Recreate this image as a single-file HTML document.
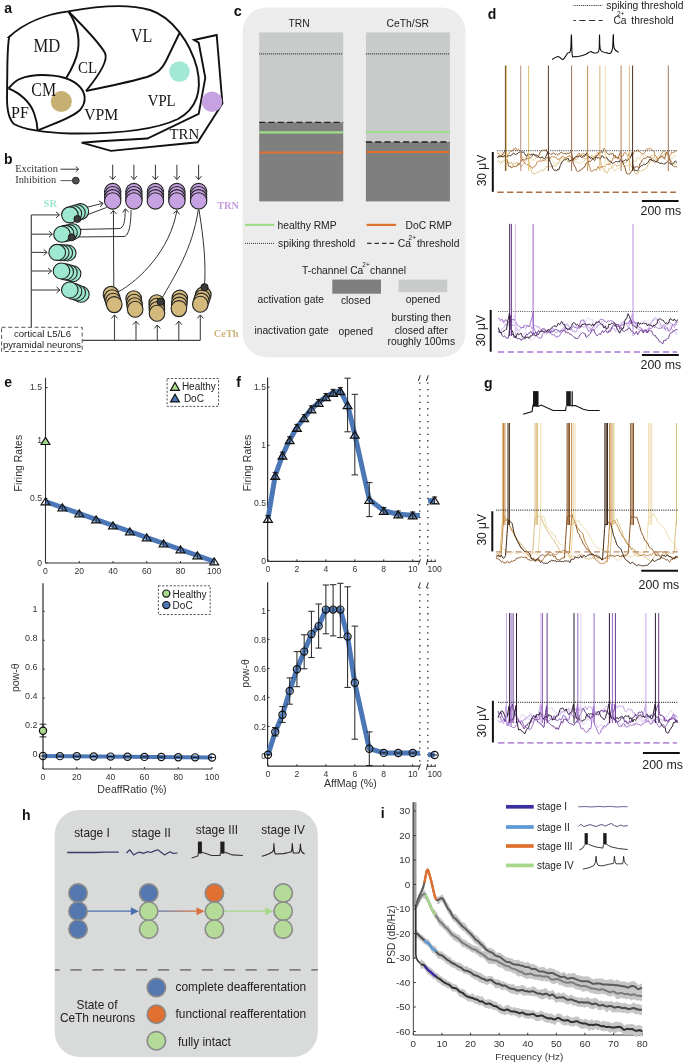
<!DOCTYPE html>
<html><head><meta charset="utf-8"><title>Figure</title>
<style>
html,body{margin:0;padding:0;background:#fff;width:685px;height:1064px;overflow:hidden;}
svg{display:block;will-change:transform;}
</style></head>
<body>
<svg width="685" height="1064" viewBox="0 0 685 1064">
<rect x="0" y="0" width="685" height="1064" fill="#fff"/>
<text x="4.30" y="13.00" font-family='"Liberation Sans", sans-serif' font-size="14" text-anchor="start" fill="#111" font-weight="bold">a</text>
<path d="M9,37 C25,22 48,14 68.3,11.4 C95,6.5 128,3.5 150,10 C172,17 190,42 197,68 C202,90 198,108 178,119 C155,130 115,134 70,133.5 C45,133 22,129 14,124 C8.5,119 7.0,110 7.0,98 L7.4,62 C7.8,48 8.3,41 9.2,37 Z" stroke="#111" stroke-width="1.9" fill="none"/>
<path d="M68.3,11.4 C77,24 80,36 78,50 C76,62 70,72 65.7,79" stroke="#111" stroke-width="1.9" fill="none"/>
<path d="M69,12 C84,27 99,42 105,53 C109,61 95,80 86,91" stroke="#111" stroke-width="1.9" fill="none"/>
<path d="M86,91 C100,88 130,82 147,77 C158,73 162,69 166,61 L179.5,33" stroke="#111" stroke-width="1.9" fill="none"/>
<path d="M8.5,88.5 C12,84.5 15,80.5 20,78.8 C27,76 34,75 42,75 C56,75 70,78 78,85 C86,92 87,102 80,110 C72,118 55,123 37.7,130.5" stroke="#111" stroke-width="1.9" fill="none"/>
<path d="M8.5,88.5 C20,93 30,102 34,113 C36.5,120 37.5,126 37.7,131" stroke="#111" stroke-width="1.9" fill="none"/>
<path d="M81.6,142.7 L111,150.9 L197.7,142.3 L222.4,103.4 L216.7,35 L194,40 L198.7,42.7 L205.3,77.8 L198.7,113.9 L147.4,138.5 L100,141.2 Z" stroke="#111" stroke-width="1.9" fill="none"/>
<circle cx="61.30" cy="101.60" r="10.50" fill="#c8b074" stroke="none" stroke-width="1"/>
<circle cx="179.50" cy="71.60" r="10.30" fill="#a2e8d4" stroke="none" stroke-width="1"/>
<circle cx="212.00" cy="101.80" r="10.30" fill="#c6a2e2" stroke="none" stroke-width="1"/>
<text x="0" y="0" transform="translate(46.85 51.80) scale(1 1.09)" font-family='"Liberation Serif", serif' font-size="16.6" text-anchor="middle" fill="#151515" font-weight="normal">MD</text>
<text x="0" y="0" transform="translate(87.50 73.10) scale(1 1.1)" font-family='"Liberation Serif", serif' font-size="15.0" text-anchor="middle" fill="#151515" font-weight="normal">CL</text>
<text x="0" y="0" transform="translate(43.70 95.70) scale(1 1.18)" font-family='"Liberation Serif", serif' font-size="15.9" text-anchor="middle" fill="#151515" font-weight="normal">CM</text>
<text x="0" y="0" transform="translate(20.00 118.40) scale(1 1.03)" font-family='"Liberation Serif", serif' font-size="16.0" text-anchor="middle" fill="#151515" font-weight="normal">PF</text>
<text x="0" y="0" transform="translate(101.20 119.90) scale(1 1.13)" font-family='"Liberation Serif", serif' font-size="15.7" text-anchor="middle" fill="#151515" font-weight="normal">VPM</text>
<text x="0" y="0" transform="translate(141.60 42.30) scale(1 1.16)" font-family='"Liberation Serif", serif' font-size="16.0" text-anchor="middle" fill="#151515" font-weight="normal">VL</text>
<text x="0" y="0" transform="translate(161.70 106.00) scale(1 1.15)" font-family='"Liberation Serif", serif' font-size="14.7" text-anchor="middle" fill="#151515" font-weight="normal">VPL</text>
<text x="0" y="0" transform="translate(184.35 138.90) scale(1 0.97)" font-family='"Liberation Serif", serif' font-size="14.9" text-anchor="middle" fill="#151515" font-weight="normal">TRN</text>
<text x="4.00" y="163.50" font-family='"Liberation Sans", sans-serif' font-size="14" text-anchor="start" fill="#111" font-weight="bold">b</text>
<text x="0" y="0" transform="translate(15.20 171.50) scale(1 1.08)" font-family='"Liberation Serif", serif' font-size="10.4" text-anchor="start" fill="#333" font-weight="normal">Excitation</text>
<text x="0" y="0" transform="translate(15.20 183.10) scale(1 1.08)" font-family='"Liberation Serif", serif' font-size="10.4" text-anchor="start" fill="#333" font-weight="normal">Inhibition</text>
<line x1="60.50" y1="169.20" x2="78.50" y2="169.20" stroke="#333" stroke-width="1"/>
<path d="M75.69,171.84 L78.70,169.20 L75.69,166.56" stroke="#333" stroke-width="1" fill="none"/>
<line x1="60.50" y1="180.60" x2="74.00" y2="180.60" stroke="#666" stroke-width="1.1"/>
<circle cx="75.80" cy="180.60" r="3.40" fill="#505050" stroke="#222" stroke-width="0.9"/>
<line x1="112.70" y1="164.70" x2="112.70" y2="179.50" stroke="#333" stroke-width="1"/>
<path d="M109.73,176.12 L112.70,179.50 L115.67,176.12" stroke="#333" stroke-width="1" fill="none"/>
<ellipse cx="112.70" cy="191.60" rx="8.2" ry="8.2" fill="#c6a2e2" stroke="#222" stroke-width="1.1"/>
<ellipse cx="112.70" cy="194.70" rx="8.2" ry="8.2" fill="#c6a2e2" stroke="#222" stroke-width="1.1"/>
<ellipse cx="112.70" cy="197.80" rx="8.2" ry="8.2" fill="#c6a2e2" stroke="#222" stroke-width="1.1"/>
<ellipse cx="112.70" cy="200.90" rx="8.2" ry="8.2" fill="#c6a2e2" stroke="#222" stroke-width="1.1"/>
<line x1="133.90" y1="164.70" x2="133.90" y2="179.50" stroke="#333" stroke-width="1"/>
<path d="M130.93,176.12 L133.90,179.50 L136.87,176.12" stroke="#333" stroke-width="1" fill="none"/>
<ellipse cx="133.90" cy="191.60" rx="8.2" ry="8.2" fill="#c6a2e2" stroke="#222" stroke-width="1.1"/>
<ellipse cx="133.90" cy="194.70" rx="8.2" ry="8.2" fill="#c6a2e2" stroke="#222" stroke-width="1.1"/>
<ellipse cx="133.90" cy="197.80" rx="8.2" ry="8.2" fill="#c6a2e2" stroke="#222" stroke-width="1.1"/>
<ellipse cx="133.90" cy="200.90" rx="8.2" ry="8.2" fill="#c6a2e2" stroke="#222" stroke-width="1.1"/>
<line x1="155.40" y1="164.70" x2="155.40" y2="179.50" stroke="#333" stroke-width="1"/>
<path d="M152.43,176.12 L155.40,179.50 L158.37,176.12" stroke="#333" stroke-width="1" fill="none"/>
<ellipse cx="155.40" cy="191.60" rx="8.2" ry="8.2" fill="#c6a2e2" stroke="#222" stroke-width="1.1"/>
<ellipse cx="155.40" cy="194.70" rx="8.2" ry="8.2" fill="#c6a2e2" stroke="#222" stroke-width="1.1"/>
<ellipse cx="155.40" cy="197.80" rx="8.2" ry="8.2" fill="#c6a2e2" stroke="#222" stroke-width="1.1"/>
<ellipse cx="155.40" cy="200.90" rx="8.2" ry="8.2" fill="#c6a2e2" stroke="#222" stroke-width="1.1"/>
<line x1="176.90" y1="164.70" x2="176.90" y2="179.50" stroke="#333" stroke-width="1"/>
<path d="M173.93,176.12 L176.90,179.50 L179.87,176.12" stroke="#333" stroke-width="1" fill="none"/>
<ellipse cx="176.90" cy="191.60" rx="8.2" ry="8.2" fill="#c6a2e2" stroke="#222" stroke-width="1.1"/>
<ellipse cx="176.90" cy="194.70" rx="8.2" ry="8.2" fill="#c6a2e2" stroke="#222" stroke-width="1.1"/>
<ellipse cx="176.90" cy="197.80" rx="8.2" ry="8.2" fill="#c6a2e2" stroke="#222" stroke-width="1.1"/>
<ellipse cx="176.90" cy="200.90" rx="8.2" ry="8.2" fill="#c6a2e2" stroke="#222" stroke-width="1.1"/>
<line x1="198.60" y1="164.70" x2="198.60" y2="179.50" stroke="#333" stroke-width="1"/>
<path d="M195.63,176.12 L198.60,179.50 L201.57,176.12" stroke="#333" stroke-width="1" fill="none"/>
<ellipse cx="198.60" cy="191.60" rx="8.2" ry="8.2" fill="#c6a2e2" stroke="#222" stroke-width="1.1"/>
<ellipse cx="198.60" cy="194.70" rx="8.2" ry="8.2" fill="#c6a2e2" stroke="#222" stroke-width="1.1"/>
<ellipse cx="198.60" cy="197.80" rx="8.2" ry="8.2" fill="#c6a2e2" stroke="#222" stroke-width="1.1"/>
<ellipse cx="198.60" cy="200.90" rx="8.2" ry="8.2" fill="#c6a2e2" stroke="#222" stroke-width="1.1"/>
<text x="228.00" y="209.00" font-family='"Liberation Serif", serif' font-size="10.3" text-anchor="middle" fill="#c49be0" font-weight="bold">TRN</text>
<text x="50.30" y="207.00" font-family='"Liberation Serif", serif' font-size="10.5" text-anchor="middle" fill="#9ee6d0" font-weight="bold">SR</text>
<path d="M76,210 L102.5,203.4" stroke="#333" stroke-width="1" fill="none"/>
<path d="M100.38,206.98 L103.00,203.20 L98.91,201.09" stroke="#333" stroke-width="1" fill="none"/>
<path d="M106.5,207.5 L80,217.5" stroke="#333" stroke-width="1" fill="none"/>
<path d="M75,229.5 L119,228.6 C124,228 125,222 125.3,209" stroke="#333" stroke-width="1" fill="none"/>
<path d="M128.66,211.94 L125.30,208.80 L122.63,212.54" stroke="#333" stroke-width="1" fill="none"/>
<path d="M131,210 C131,224 129,236 124,236.5 L75,237" stroke="#333" stroke-width="1" fill="none"/>
<path d="M113.8,292 L113.4,210.5" stroke="#333" stroke-width="1" fill="none"/>
<path d="M116.43,213.96 L113.40,210.50 L110.37,213.96" stroke="#333" stroke-width="1" fill="none"/>
<path d="M118,292 C140,280 170,250 176.9,210.5" stroke="#333" stroke-width="1" fill="none"/>
<path d="M179.38,214.37 L176.90,210.50 L173.38,213.47" stroke="#333" stroke-width="1" fill="none"/>
<path d="M198.3,210 C192,250 175,275 161,300" stroke="#333" stroke-width="1" fill="none"/>
<path d="M199,210 C204,240 206,265 204.5,286" stroke="#333" stroke-width="1" fill="none"/>
<line x1="31.30" y1="214.90" x2="31.30" y2="327.20" stroke="#444" stroke-width="1.2"/>
<line x1="31.30" y1="214.90" x2="59.40" y2="214.90" stroke="#444" stroke-width="1.1"/>
<path d="M55.94,217.93 L59.40,214.90 L55.94,211.87" stroke="#333" stroke-width="1" fill="none"/>
<line x1="31.30" y1="234.20" x2="52.40" y2="234.20" stroke="#444" stroke-width="1.1"/>
<path d="M48.94,237.23 L52.40,234.20 L48.94,231.17" stroke="#333" stroke-width="1" fill="none"/>
<line x1="31.30" y1="252.40" x2="47.10" y2="252.40" stroke="#444" stroke-width="1.1"/>
<path d="M43.64,255.43 L47.10,252.40 L43.64,249.37" stroke="#333" stroke-width="1" fill="none"/>
<line x1="31.30" y1="271.00" x2="51.50" y2="271.00" stroke="#444" stroke-width="1.1"/>
<path d="M48.04,274.03 L51.50,271.00 L48.04,267.97" stroke="#333" stroke-width="1" fill="none"/>
<line x1="31.30" y1="290.00" x2="60.00" y2="290.00" stroke="#444" stroke-width="1.1"/>
<path d="M56.54,293.03 L60.00,290.00 L56.54,286.97" stroke="#333" stroke-width="1" fill="none"/>
<ellipse cx="80.40" cy="211.60" rx="8.3" ry="8.0" fill="#9ee8d2" stroke="#222" stroke-width="1.1"/>
<ellipse cx="76.90" cy="212.70" rx="8.3" ry="8.0" fill="#9ee8d2" stroke="#222" stroke-width="1.1"/>
<ellipse cx="73.40" cy="213.80" rx="8.3" ry="8.0" fill="#9ee8d2" stroke="#222" stroke-width="1.1"/>
<ellipse cx="69.90" cy="214.90" rx="8.3" ry="8.0" fill="#9ee8d2" stroke="#222" stroke-width="1.1"/>
<ellipse cx="72.50" cy="231.80" rx="8.3" ry="8.0" fill="#9ee8d2" stroke="#222" stroke-width="1.1"/>
<ellipse cx="69.00" cy="232.60" rx="8.3" ry="8.0" fill="#9ee8d2" stroke="#222" stroke-width="1.1"/>
<ellipse cx="65.50" cy="233.40" rx="8.3" ry="8.0" fill="#9ee8d2" stroke="#222" stroke-width="1.1"/>
<ellipse cx="62.00" cy="234.20" rx="8.3" ry="8.0" fill="#9ee8d2" stroke="#222" stroke-width="1.1"/>
<ellipse cx="67.70" cy="253.00" rx="8.3" ry="8.0" fill="#9ee8d2" stroke="#222" stroke-width="1.1"/>
<ellipse cx="64.20" cy="252.80" rx="8.3" ry="8.0" fill="#9ee8d2" stroke="#222" stroke-width="1.1"/>
<ellipse cx="60.70" cy="252.60" rx="8.3" ry="8.0" fill="#9ee8d2" stroke="#222" stroke-width="1.1"/>
<ellipse cx="57.20" cy="252.40" rx="8.3" ry="8.0" fill="#9ee8d2" stroke="#222" stroke-width="1.1"/>
<ellipse cx="72.60" cy="273.70" rx="8.3" ry="8.0" fill="#9ee8d2" stroke="#222" stroke-width="1.1"/>
<ellipse cx="68.90" cy="272.80" rx="8.3" ry="8.0" fill="#9ee8d2" stroke="#222" stroke-width="1.1"/>
<ellipse cx="65.20" cy="271.90" rx="8.3" ry="8.0" fill="#9ee8d2" stroke="#222" stroke-width="1.1"/>
<ellipse cx="61.50" cy="271.00" rx="8.3" ry="8.0" fill="#9ee8d2" stroke="#222" stroke-width="1.1"/>
<ellipse cx="80.90" cy="294.20" rx="8.3" ry="8.0" fill="#9ee8d2" stroke="#222" stroke-width="1.1"/>
<ellipse cx="77.20" cy="292.80" rx="8.3" ry="8.0" fill="#9ee8d2" stroke="#222" stroke-width="1.1"/>
<ellipse cx="73.50" cy="291.40" rx="8.3" ry="8.0" fill="#9ee8d2" stroke="#222" stroke-width="1.1"/>
<ellipse cx="69.80" cy="290.00" rx="8.3" ry="8.0" fill="#9ee8d2" stroke="#222" stroke-width="1.1"/>
<circle cx="77.40" cy="218.90" r="3.50" fill="#3a3a3a" stroke="#111" stroke-width="0.8"/>
<circle cx="71.70" cy="237.30" r="3.50" fill="#3a3a3a" stroke="#111" stroke-width="0.8"/>
<ellipse cx="111.00" cy="294.40" rx="7.8" ry="8.0" fill="#d3b97c" stroke="#222" stroke-width="1.1"/>
<ellipse cx="112.10" cy="297.80" rx="7.8" ry="8.0" fill="#d3b97c" stroke="#222" stroke-width="1.1"/>
<ellipse cx="113.20" cy="301.20" rx="7.8" ry="8.0" fill="#d3b97c" stroke="#222" stroke-width="1.1"/>
<ellipse cx="114.30" cy="304.60" rx="7.8" ry="8.0" fill="#d3b97c" stroke="#222" stroke-width="1.1"/>
<ellipse cx="133.70" cy="298.70" rx="7.8" ry="8.0" fill="#d3b97c" stroke="#222" stroke-width="1.1"/>
<ellipse cx="134.20" cy="302.20" rx="7.8" ry="8.0" fill="#d3b97c" stroke="#222" stroke-width="1.1"/>
<ellipse cx="134.70" cy="305.70" rx="7.8" ry="8.0" fill="#d3b97c" stroke="#222" stroke-width="1.1"/>
<ellipse cx="135.20" cy="309.20" rx="7.8" ry="8.0" fill="#d3b97c" stroke="#222" stroke-width="1.1"/>
<ellipse cx="156.70" cy="302.70" rx="7.8" ry="8.0" fill="#d3b97c" stroke="#222" stroke-width="1.1"/>
<ellipse cx="156.80" cy="306.20" rx="7.8" ry="8.0" fill="#d3b97c" stroke="#222" stroke-width="1.1"/>
<ellipse cx="156.90" cy="309.70" rx="7.8" ry="8.0" fill="#d3b97c" stroke="#222" stroke-width="1.1"/>
<ellipse cx="157.00" cy="313.20" rx="7.8" ry="8.0" fill="#d3b97c" stroke="#222" stroke-width="1.1"/>
<ellipse cx="179.80" cy="298.10" rx="7.8" ry="8.0" fill="#d3b97c" stroke="#222" stroke-width="1.1"/>
<ellipse cx="179.50" cy="301.60" rx="7.8" ry="8.0" fill="#d3b97c" stroke="#222" stroke-width="1.1"/>
<ellipse cx="179.20" cy="305.10" rx="7.8" ry="8.0" fill="#d3b97c" stroke="#222" stroke-width="1.1"/>
<ellipse cx="178.90" cy="308.60" rx="7.8" ry="8.0" fill="#d3b97c" stroke="#222" stroke-width="1.1"/>
<ellipse cx="203.30" cy="294.90" rx="7.8" ry="8.0" fill="#d3b97c" stroke="#222" stroke-width="1.1"/>
<ellipse cx="202.30" cy="298.00" rx="7.8" ry="8.0" fill="#d3b97c" stroke="#222" stroke-width="1.1"/>
<ellipse cx="201.30" cy="301.10" rx="7.8" ry="8.0" fill="#d3b97c" stroke="#222" stroke-width="1.1"/>
<ellipse cx="200.30" cy="304.20" rx="7.8" ry="8.0" fill="#d3b97c" stroke="#222" stroke-width="1.1"/>
<circle cx="160.60" cy="301.60" r="3.70" fill="#3a3a3a" stroke="#111" stroke-width="0.8"/>
<circle cx="204.50" cy="287.30" r="3.70" fill="#3a3a3a" stroke="#111" stroke-width="0.8"/>
<line x1="82.30" y1="340.30" x2="200.30" y2="340.30" stroke="#444" stroke-width="1.2"/>
<line x1="114.50" y1="340.30" x2="114.50" y2="314.90" stroke="#444" stroke-width="1.1"/>
<path d="M117.53,318.36 L114.50,314.90 L111.47,318.36" stroke="#333" stroke-width="1" fill="none"/>
<line x1="136.00" y1="340.30" x2="136.00" y2="321.20" stroke="#444" stroke-width="1.1"/>
<path d="M139.03,324.66 L136.00,321.20 L132.97,324.66" stroke="#333" stroke-width="1" fill="none"/>
<line x1="157.30" y1="340.30" x2="157.30" y2="325.00" stroke="#444" stroke-width="1.1"/>
<path d="M160.33,328.46 L157.30,325.00 L154.27,328.46" stroke="#333" stroke-width="1" fill="none"/>
<line x1="178.80" y1="340.30" x2="178.80" y2="321.20" stroke="#444" stroke-width="1.1"/>
<path d="M181.83,324.66 L178.80,321.20 L175.77,324.66" stroke="#333" stroke-width="1" fill="none"/>
<line x1="200.30" y1="340.30" x2="200.30" y2="314.90" stroke="#444" stroke-width="1.1"/>
<path d="M203.33,318.36 L200.30,314.90 L197.27,318.36" stroke="#333" stroke-width="1" fill="none"/>
<text x="226.20" y="336.60" font-family='"Liberation Serif", serif' font-size="10.4" text-anchor="middle" fill="#cdb479" font-weight="bold">CeTh</text>
<rect x="1.60" y="327.30" width="80.60" height="24.20" rx="0" fill="#fff" stroke="#555" stroke-width="1" stroke-dasharray="4,2.6"/>
<text x="42.50" y="337.20" font-family='"Liberation Sans", sans-serif' font-size="9.6" text-anchor="middle" fill="#222" font-weight="normal">cortical L5/L6</text>
<text x="42.00" y="348.00" font-family='"Liberation Sans", sans-serif' font-size="9.5" text-anchor="middle" fill="#222" font-weight="normal">pyramidal neurons</text>
<text x="233.80" y="16.10" font-family='"Liberation Sans", sans-serif' font-size="14.5" text-anchor="start" fill="#111" font-weight="bold">c</text>
<rect x="242.60" y="7.40" width="222.90" height="350.00" rx="24" fill="#ececec" stroke="none" stroke-width="1"/>
<text x="299.00" y="26.60" font-family='"Liberation Sans", sans-serif' font-size="10.3" text-anchor="middle" fill="#222" font-weight="normal">TRN</text>
<text x="407.80" y="26.60" font-family='"Liberation Sans", sans-serif' font-size="10.3" text-anchor="middle" fill="#222" font-weight="normal">CeTh/SR</text>
<rect x="259.20" y="32.40" width="84.00" height="89.80" rx="0" fill="#c9cbcb" stroke="none" stroke-width="1"/>
<rect x="259.20" y="122.20" width="84.00" height="79.20" rx="0" fill="#7f7f7f" stroke="none" stroke-width="1"/>
<rect x="365.90" y="32.40" width="84.00" height="109.60" rx="0" fill="#c9cbcb" stroke="none" stroke-width="1"/>
<rect x="365.90" y="142.00" width="84.00" height="59.40" rx="0" fill="#7f7f7f" stroke="none" stroke-width="1"/>
<line x1="259.20" y1="53.90" x2="343.20" y2="53.90" stroke="#333" stroke-width="1.1" stroke-dasharray="1,1"/>
<line x1="365.90" y1="53.90" x2="449.90" y2="53.90" stroke="#333" stroke-width="1.1" stroke-dasharray="1,1"/>
<line x1="259.20" y1="122.40" x2="343.20" y2="122.40" stroke="#222" stroke-width="1.3" stroke-dasharray="6,3.3"/>
<line x1="365.90" y1="142.00" x2="449.90" y2="142.00" stroke="#222" stroke-width="1.3" stroke-dasharray="6,3.3"/>
<line x1="259.20" y1="132.30" x2="343.20" y2="132.30" stroke="#9edc8a" stroke-width="2.2"/>
<line x1="365.90" y1="132.00" x2="449.90" y2="132.00" stroke="#9edc8a" stroke-width="2.2"/>
<line x1="259.20" y1="152.50" x2="343.20" y2="152.50" stroke="#e0722e" stroke-width="2.2"/>
<line x1="365.90" y1="152.00" x2="449.90" y2="152.00" stroke="#e0722e" stroke-width="2.2"/>
<line x1="245.00" y1="224.90" x2="274.30" y2="224.90" stroke="#9edc8a" stroke-width="2.2"/>
<text x="277.60" y="228.60" font-family='"Liberation Sans", sans-serif' font-size="10.3" text-anchor="start" fill="#222" font-weight="normal">healthy RMP</text>
<line x1="366.60" y1="224.90" x2="396.10" y2="224.90" stroke="#e0722e" stroke-width="2.2"/>
<text x="405.50" y="228.60" font-family='"Liberation Sans", sans-serif' font-size="10.3" text-anchor="start" fill="#222" font-weight="normal">DoC RMP</text>
<line x1="245.00" y1="243.40" x2="274.30" y2="243.40" stroke="#333" stroke-width="1" stroke-dasharray="1,1"/>
<text x="278.00" y="246.80" font-family='"Liberation Sans", sans-serif' font-size="10.3" text-anchor="start" fill="#222" font-weight="normal">spiking threshold</text>
<line x1="367.00" y1="243.40" x2="395.00" y2="243.40" stroke="#333" stroke-width="1.1" stroke-dasharray="4.5,3"/>
<text x="397.80" y="246.80" font-family='"Liberation Sans", sans-serif' font-size="10.3" text-anchor="start" fill="#222" font-weight="normal">Ca</text>
<text x="408.60" y="240.00" font-family='"Liberation Sans", sans-serif' font-size="6.5" text-anchor="start" fill="#222" font-weight="normal">2+</text>
<text x="417.00" y="246.80" font-family='"Liberation Sans", sans-serif' font-size="10.3" text-anchor="start" fill="#222" font-weight="normal">threshold</text>
<text x="302.10" y="273.60" font-family='"Liberation Sans", sans-serif' font-size="10.3" text-anchor="start" fill="#222" font-weight="normal">T-channel Ca</text>
<text x="362.30" y="266.80" font-family='"Liberation Sans", sans-serif' font-size="6.5" text-anchor="start" fill="#222" font-weight="normal">2+</text>
<text x="370.00" y="273.60" font-family='"Liberation Sans", sans-serif' font-size="10.3" text-anchor="start" fill="#222" font-weight="normal">channel</text>
<rect x="332.30" y="279.60" width="48.70" height="14.10" rx="0" fill="#7f7f7f" stroke="none" stroke-width="1"/>
<rect x="398.50" y="279.60" width="48.70" height="12.60" rx="0" fill="#c9cbcb" stroke="none" stroke-width="1"/>
<text x="290.80" y="302.80" font-family='"Liberation Sans", sans-serif' font-size="10.3" text-anchor="middle" fill="#222" font-weight="normal">activation gate</text>
<text x="355.80" y="304.40" font-family='"Liberation Sans", sans-serif' font-size="10.3" text-anchor="middle" fill="#222" font-weight="normal">closed</text>
<text x="423.00" y="302.80" font-family='"Liberation Sans", sans-serif' font-size="10.3" text-anchor="middle" fill="#222" font-weight="normal">opened</text>
<text x="291.60" y="333.80" font-family='"Liberation Sans", sans-serif' font-size="10.3" text-anchor="middle" fill="#222" font-weight="normal">inactivation gate</text>
<text x="355.80" y="334.60" font-family='"Liberation Sans", sans-serif' font-size="10.3" text-anchor="middle" fill="#222" font-weight="normal">opened</text>
<text x="421.30" y="321.20" font-family='"Liberation Sans", sans-serif' font-size="10.3" text-anchor="middle" fill="#222" font-weight="normal">bursting then</text>
<text x="421.30" y="333.60" font-family='"Liberation Sans", sans-serif' font-size="10.3" text-anchor="middle" fill="#222" font-weight="normal">closed after</text>
<text x="421.30" y="345.40" font-family='"Liberation Sans", sans-serif' font-size="10.3" text-anchor="middle" fill="#222" font-weight="normal">roughly 100ms</text>
<text x="4.20" y="386.80" font-family='"Liberation Sans", sans-serif' font-size="14" text-anchor="start" fill="#111" font-weight="bold">e</text>
<line x1="45.50" y1="377.80" x2="45.50" y2="563.00" stroke="#333" stroke-width="1.1"/>
<line x1="45.50" y1="387.50" x2="47.50" y2="387.50" stroke="#333" stroke-width="1"/>
<text x="42.00" y="390.10" font-family='"Liberation Sans", sans-serif' font-size="8.6" text-anchor="end" fill="#333" font-weight="normal">1.5</text>
<line x1="45.50" y1="440.00" x2="47.50" y2="440.00" stroke="#333" stroke-width="1"/>
<text x="42.00" y="442.60" font-family='"Liberation Sans", sans-serif' font-size="8.6" text-anchor="end" fill="#333" font-weight="normal">1</text>
<line x1="45.50" y1="498.40" x2="47.50" y2="498.40" stroke="#333" stroke-width="1"/>
<text x="42.00" y="501.00" font-family='"Liberation Sans", sans-serif' font-size="8.6" text-anchor="end" fill="#333" font-weight="normal">0.5</text>
<line x1="45.50" y1="562.90" x2="47.50" y2="562.90" stroke="#333" stroke-width="1"/>
<text x="42.00" y="565.50" font-family='"Liberation Sans", sans-serif' font-size="8.6" text-anchor="end" fill="#333" font-weight="normal">0</text>
<line x1="45.50" y1="563.00" x2="214.20" y2="563.00" stroke="#333" stroke-width="1.1"/>
<line x1="45.50" y1="563.00" x2="45.50" y2="561.00" stroke="#333" stroke-width="1"/>
<text x="45.50" y="573.50" font-family='"Liberation Sans", sans-serif' font-size="8.6" text-anchor="middle" fill="#333" font-weight="normal">0</text>
<line x1="79.24" y1="563.00" x2="79.24" y2="561.00" stroke="#333" stroke-width="1"/>
<text x="79.24" y="573.50" font-family='"Liberation Sans", sans-serif' font-size="8.6" text-anchor="middle" fill="#333" font-weight="normal">20</text>
<line x1="112.98" y1="563.00" x2="112.98" y2="561.00" stroke="#333" stroke-width="1"/>
<text x="112.98" y="573.50" font-family='"Liberation Sans", sans-serif' font-size="8.6" text-anchor="middle" fill="#333" font-weight="normal">40</text>
<line x1="146.72" y1="563.00" x2="146.72" y2="561.00" stroke="#333" stroke-width="1"/>
<text x="146.72" y="573.50" font-family='"Liberation Sans", sans-serif' font-size="8.6" text-anchor="middle" fill="#333" font-weight="normal">60</text>
<line x1="180.46" y1="563.00" x2="180.46" y2="561.00" stroke="#333" stroke-width="1"/>
<text x="180.46" y="573.50" font-family='"Liberation Sans", sans-serif' font-size="8.6" text-anchor="middle" fill="#333" font-weight="normal">80</text>
<line x1="214.20" y1="563.00" x2="214.20" y2="561.00" stroke="#333" stroke-width="1"/>
<text x="214.20" y="573.50" font-family='"Liberation Sans", sans-serif' font-size="8.6" text-anchor="middle" fill="#333" font-weight="normal">100</text>
<text x="22.30" y="463.10" font-family='"Liberation Sans", sans-serif' font-size="10.5" text-anchor="middle" fill="#333" font-weight="normal" transform="rotate(-90 22.30 463.10)">Firing Rates</text>
<line x1="45.50" y1="501.50" x2="214.20" y2="561.50" stroke="#4c77b6" stroke-width="5"/>
<line x1="45.50" y1="498.00" x2="45.50" y2="504.70" stroke="#222" stroke-width="0.9"/>
<polygon points="41.10,504.80 49.90,504.80 45.50,497.80" fill="none" stroke="#111" stroke-width="1.2" stroke-linejoin="miter"/>
<line x1="62.37" y1="504.00" x2="62.37" y2="510.70" stroke="#222" stroke-width="0.9"/>
<polygon points="57.97,510.80 66.77,510.80 62.37,503.80" fill="none" stroke="#111" stroke-width="1.2" stroke-linejoin="miter"/>
<line x1="79.24" y1="510.00" x2="79.24" y2="516.70" stroke="#222" stroke-width="0.9"/>
<polygon points="74.84,516.80 83.64,516.80 79.24,509.80" fill="none" stroke="#111" stroke-width="1.2" stroke-linejoin="miter"/>
<line x1="96.11" y1="516.00" x2="96.11" y2="522.70" stroke="#222" stroke-width="0.9"/>
<polygon points="91.71,522.80 100.51,522.80 96.11,515.80" fill="none" stroke="#111" stroke-width="1.2" stroke-linejoin="miter"/>
<line x1="112.98" y1="522.00" x2="112.98" y2="528.70" stroke="#222" stroke-width="0.9"/>
<polygon points="108.58,528.80 117.38,528.80 112.98,521.80" fill="none" stroke="#111" stroke-width="1.2" stroke-linejoin="miter"/>
<line x1="129.85" y1="528.00" x2="129.85" y2="534.70" stroke="#222" stroke-width="0.9"/>
<polygon points="125.45,534.80 134.25,534.80 129.85,527.80" fill="none" stroke="#111" stroke-width="1.2" stroke-linejoin="miter"/>
<line x1="146.72" y1="534.00" x2="146.72" y2="540.70" stroke="#222" stroke-width="0.9"/>
<polygon points="142.32,540.80 151.12,540.80 146.72,533.80" fill="none" stroke="#111" stroke-width="1.2" stroke-linejoin="miter"/>
<line x1="163.59" y1="540.00" x2="163.59" y2="546.70" stroke="#222" stroke-width="0.9"/>
<polygon points="159.19,546.80 167.99,546.80 163.59,539.80" fill="none" stroke="#111" stroke-width="1.2" stroke-linejoin="miter"/>
<line x1="180.46" y1="546.00" x2="180.46" y2="552.70" stroke="#222" stroke-width="0.9"/>
<polygon points="176.06,552.80 184.86,552.80 180.46,545.80" fill="none" stroke="#111" stroke-width="1.2" stroke-linejoin="miter"/>
<line x1="197.33" y1="552.00" x2="197.33" y2="558.70" stroke="#222" stroke-width="0.9"/>
<polygon points="192.93,558.80 201.73,558.80 197.33,551.80" fill="none" stroke="#111" stroke-width="1.2" stroke-linejoin="miter"/>
<line x1="214.20" y1="558.00" x2="214.20" y2="564.70" stroke="#222" stroke-width="0.9"/>
<polygon points="209.80,564.80 218.60,564.80 214.20,557.80" fill="none" stroke="#111" stroke-width="1.2" stroke-linejoin="miter"/>
<polygon points="41.10,444.50 49.90,444.50 45.50,437.50" fill="#a8d98c" stroke="#111" stroke-width="1.2" stroke-linejoin="miter"/>
<rect x="167.10" y="378.50" width="51.50" height="27.90" rx="0" fill="#fff" stroke="#444" stroke-width="0.9" stroke-dasharray="2.2,1.6"/>
<polygon points="170.60,390.30 179.40,390.30 175.00,382.50" fill="#a8d98c" stroke="#111" stroke-width="1.2" stroke-linejoin="miter"/>
<text x="181.90" y="390.40" font-family='"Liberation Sans", sans-serif' font-size="10" text-anchor="start" fill="#222" font-weight="normal">Healthy</text>
<polygon points="170.60,401.90 179.40,401.90 175.00,394.10" fill="#4c77b6" stroke="#111" stroke-width="1.2" stroke-linejoin="miter"/>
<text x="183.90" y="402.20" font-family='"Liberation Sans", sans-serif' font-size="10" text-anchor="start" fill="#222" font-weight="normal">DoC</text>
<line x1="43.00" y1="583.30" x2="43.00" y2="769.00" stroke="#555" stroke-width="1.5"/>
<line x1="43.00" y1="611.40" x2="45.00" y2="611.40" stroke="#555" stroke-width="1"/>
<text x="37.40" y="612.40" font-family='"Liberation Sans", sans-serif' font-size="9" text-anchor="end" fill="#333" font-weight="normal">1</text>
<line x1="43.00" y1="640.30" x2="45.00" y2="640.30" stroke="#555" stroke-width="1"/>
<text x="37.40" y="641.30" font-family='"Liberation Sans", sans-serif' font-size="9" text-anchor="end" fill="#333" font-weight="normal">0.8</text>
<line x1="43.00" y1="669.20" x2="45.00" y2="669.20" stroke="#555" stroke-width="1"/>
<text x="37.40" y="670.20" font-family='"Liberation Sans", sans-serif' font-size="9" text-anchor="end" fill="#333" font-weight="normal">0.6</text>
<line x1="43.00" y1="698.10" x2="45.00" y2="698.10" stroke="#555" stroke-width="1"/>
<text x="37.40" y="699.10" font-family='"Liberation Sans", sans-serif' font-size="9" text-anchor="end" fill="#333" font-weight="normal">0.4</text>
<line x1="43.00" y1="727.00" x2="45.00" y2="727.00" stroke="#555" stroke-width="1"/>
<text x="37.40" y="728.00" font-family='"Liberation Sans", sans-serif' font-size="9" text-anchor="end" fill="#333" font-weight="normal">0.2</text>
<line x1="43.00" y1="755.90" x2="45.00" y2="755.90" stroke="#555" stroke-width="1"/>
<text x="37.40" y="756.90" font-family='"Liberation Sans", sans-serif' font-size="9" text-anchor="end" fill="#333" font-weight="normal">0</text>
<line x1="43.00" y1="769.00" x2="212.00" y2="769.00" stroke="#333" stroke-width="1.1"/>
<line x1="43.00" y1="769.00" x2="43.00" y2="767.00" stroke="#333" stroke-width="1"/>
<text x="43.00" y="779.50" font-family='"Liberation Sans", sans-serif' font-size="8.6" text-anchor="middle" fill="#333" font-weight="normal">0</text>
<line x1="76.80" y1="769.00" x2="76.80" y2="767.00" stroke="#333" stroke-width="1"/>
<text x="76.80" y="779.50" font-family='"Liberation Sans", sans-serif' font-size="8.6" text-anchor="middle" fill="#333" font-weight="normal">20</text>
<line x1="110.60" y1="769.00" x2="110.60" y2="767.00" stroke="#333" stroke-width="1"/>
<text x="110.60" y="779.50" font-family='"Liberation Sans", sans-serif' font-size="8.6" text-anchor="middle" fill="#333" font-weight="normal">40</text>
<line x1="144.40" y1="769.00" x2="144.40" y2="767.00" stroke="#333" stroke-width="1"/>
<text x="144.40" y="779.50" font-family='"Liberation Sans", sans-serif' font-size="8.6" text-anchor="middle" fill="#333" font-weight="normal">60</text>
<line x1="178.20" y1="769.00" x2="178.20" y2="767.00" stroke="#333" stroke-width="1"/>
<text x="178.20" y="779.50" font-family='"Liberation Sans", sans-serif' font-size="8.6" text-anchor="middle" fill="#333" font-weight="normal">80</text>
<line x1="212.00" y1="769.00" x2="212.00" y2="767.00" stroke="#333" stroke-width="1"/>
<text x="212.00" y="779.50" font-family='"Liberation Sans", sans-serif' font-size="8.6" text-anchor="middle" fill="#333" font-weight="normal">100</text>
<text x="132.00" y="792.60" font-family='"Liberation Sans", sans-serif' font-size="10.6" text-anchor="middle" fill="#333" font-weight="normal">DeaffRatio (%)</text>
<text x="18.70" y="677.70" font-family='"Liberation Sans", sans-serif' font-size="10.5" text-anchor="middle" fill="#333" font-weight="normal" transform="rotate(-90 18.70 677.70)">pow-θ</text>
<line x1="43.00" y1="756.00" x2="212.00" y2="757.50" stroke="#4c77b6" stroke-width="4.2"/>
<line x1="40.50" y1="756.00" x2="45.50" y2="756.00" stroke="#111" stroke-width="1"/>
<circle cx="43.00" cy="756.00" r="3.60" fill="none" stroke="#111" stroke-width="1.2"/>
<line x1="57.40" y1="756.15" x2="62.40" y2="756.15" stroke="#111" stroke-width="1"/>
<circle cx="59.90" cy="756.15" r="3.60" fill="none" stroke="#111" stroke-width="1.2"/>
<line x1="74.30" y1="756.30" x2="79.30" y2="756.30" stroke="#111" stroke-width="1"/>
<circle cx="76.80" cy="756.30" r="3.60" fill="none" stroke="#111" stroke-width="1.2"/>
<line x1="91.20" y1="756.45" x2="96.20" y2="756.45" stroke="#111" stroke-width="1"/>
<circle cx="93.70" cy="756.45" r="3.60" fill="none" stroke="#111" stroke-width="1.2"/>
<line x1="108.10" y1="756.60" x2="113.10" y2="756.60" stroke="#111" stroke-width="1"/>
<circle cx="110.60" cy="756.60" r="3.60" fill="none" stroke="#111" stroke-width="1.2"/>
<line x1="125.00" y1="756.75" x2="130.00" y2="756.75" stroke="#111" stroke-width="1"/>
<circle cx="127.50" cy="756.75" r="3.60" fill="none" stroke="#111" stroke-width="1.2"/>
<line x1="141.90" y1="756.90" x2="146.90" y2="756.90" stroke="#111" stroke-width="1"/>
<circle cx="144.40" cy="756.90" r="3.60" fill="none" stroke="#111" stroke-width="1.2"/>
<line x1="158.80" y1="757.05" x2="163.80" y2="757.05" stroke="#111" stroke-width="1"/>
<circle cx="161.30" cy="757.05" r="3.60" fill="none" stroke="#111" stroke-width="1.2"/>
<line x1="175.70" y1="757.20" x2="180.70" y2="757.20" stroke="#111" stroke-width="1"/>
<circle cx="178.20" cy="757.20" r="3.60" fill="none" stroke="#111" stroke-width="1.2"/>
<line x1="192.60" y1="757.35" x2="197.60" y2="757.35" stroke="#111" stroke-width="1"/>
<circle cx="195.10" cy="757.35" r="3.60" fill="none" stroke="#111" stroke-width="1.2"/>
<line x1="209.50" y1="757.50" x2="214.50" y2="757.50" stroke="#111" stroke-width="1"/>
<circle cx="212.00" cy="757.50" r="3.60" fill="none" stroke="#111" stroke-width="1.2"/>
<line x1="43.00" y1="724.20" x2="43.00" y2="736.90" stroke="#222" stroke-width="1"/>
<line x1="39.60" y1="724.20" x2="46.40" y2="724.20" stroke="#222" stroke-width="1"/>
<line x1="39.60" y1="736.90" x2="46.40" y2="736.90" stroke="#222" stroke-width="1"/>
<circle cx="43.00" cy="730.80" r="3.60" fill="#a8d98c" stroke="#111" stroke-width="1.2"/>
<rect x="158.40" y="585.80" width="51.80" height="28.70" rx="0" fill="#fff" stroke="#444" stroke-width="0.9" stroke-dasharray="2.2,1.6"/>
<circle cx="166.30" cy="593.60" r="3.60" fill="#a8d98c" stroke="#111" stroke-width="1.2"/>
<text x="172.60" y="597.60" font-family='"Liberation Sans", sans-serif' font-size="10" text-anchor="start" fill="#222" font-weight="normal">Healthy</text>
<circle cx="166.30" cy="605.10" r="3.60" fill="#4c77b6" stroke="#111" stroke-width="1.2"/>
<text x="172.60" y="609.20" font-family='"Liberation Sans", sans-serif' font-size="10" text-anchor="start" fill="#222" font-weight="normal">DoC</text>
<text x="236.30" y="386.80" font-family='"Liberation Sans", sans-serif' font-size="14" text-anchor="start" fill="#111" font-weight="bold">f</text>
<line x1="267.60" y1="377.50" x2="267.60" y2="561.30" stroke="#333" stroke-width="1.2"/>
<line x1="267.60" y1="387.20" x2="269.60" y2="387.20" stroke="#333" stroke-width="1"/>
<text x="266.00" y="390.20" font-family='"Liberation Sans", sans-serif' font-size="8.6" text-anchor="end" fill="#333" font-weight="normal">1.5</text>
<line x1="267.60" y1="445.30" x2="269.60" y2="445.30" stroke="#333" stroke-width="1"/>
<text x="266.00" y="448.30" font-family='"Liberation Sans", sans-serif' font-size="8.6" text-anchor="end" fill="#333" font-weight="normal">1</text>
<line x1="267.60" y1="503.40" x2="269.60" y2="503.40" stroke="#333" stroke-width="1"/>
<text x="266.00" y="506.40" font-family='"Liberation Sans", sans-serif' font-size="8.6" text-anchor="end" fill="#333" font-weight="normal">0.5</text>
<line x1="267.60" y1="561.30" x2="269.60" y2="561.30" stroke="#333" stroke-width="1"/>
<text x="266.00" y="564.30" font-family='"Liberation Sans", sans-serif' font-size="8.6" text-anchor="end" fill="#333" font-weight="normal">0</text>
<line x1="267.60" y1="561.30" x2="419.80" y2="561.30" stroke="#333" stroke-width="1.2"/>
<line x1="268.00" y1="561.30" x2="268.00" y2="559.30" stroke="#333" stroke-width="1"/>
<text x="268.00" y="571.80" font-family='"Liberation Sans", sans-serif' font-size="8.6" text-anchor="middle" fill="#333" font-weight="normal">0</text>
<line x1="296.94" y1="561.30" x2="296.94" y2="559.30" stroke="#333" stroke-width="1"/>
<text x="296.94" y="571.80" font-family='"Liberation Sans", sans-serif' font-size="8.6" text-anchor="middle" fill="#333" font-weight="normal">2</text>
<line x1="325.88" y1="561.30" x2="325.88" y2="559.30" stroke="#333" stroke-width="1"/>
<text x="325.88" y="571.80" font-family='"Liberation Sans", sans-serif' font-size="8.6" text-anchor="middle" fill="#333" font-weight="normal">4</text>
<line x1="354.82" y1="561.30" x2="354.82" y2="559.30" stroke="#333" stroke-width="1"/>
<text x="354.82" y="571.80" font-family='"Liberation Sans", sans-serif' font-size="8.6" text-anchor="middle" fill="#333" font-weight="normal">6</text>
<line x1="383.76" y1="561.30" x2="383.76" y2="559.30" stroke="#333" stroke-width="1"/>
<text x="383.76" y="571.80" font-family='"Liberation Sans", sans-serif' font-size="8.6" text-anchor="middle" fill="#333" font-weight="normal">8</text>
<line x1="412.70" y1="561.30" x2="412.70" y2="559.30" stroke="#333" stroke-width="1"/>
<text x="412.70" y="571.80" font-family='"Liberation Sans", sans-serif' font-size="8.6" text-anchor="middle" fill="#333" font-weight="normal">10</text>
<text x="434.60" y="571.50" font-family='"Liberation Sans", sans-serif' font-size="8.6" text-anchor="middle" fill="#333" font-weight="normal">100</text>
<text x="251.20" y="463.00" font-family='"Liberation Sans", sans-serif' font-size="10.5" text-anchor="middle" fill="#333" font-weight="normal" transform="rotate(-90 251.20 463.00)">Firing Rates</text>
<path d="M268.0,518.7 L275.2,475.6 L282.5,455.3 L289.7,439.9 L296.9,427.6 L304.2,417.8 L311.4,409.0 L318.6,402.7 L325.9,396.8 L333.1,392.6 L340.4,390.8 L347.6,404.8 L354.8,434.3 L369.3,499.5 L383.8,510.7 L398.2,514.2 L412.7,515.2 L419.9,515.6" stroke="#4c77b6" stroke-width="5" fill="none" stroke-linejoin="round"/>
<line x1="428.00" y1="501.00" x2="434.60" y2="500.20" stroke="#4c77b6" stroke-width="5"/>
<line x1="268.00" y1="515.50" x2="268.00" y2="521.90" stroke="#222" stroke-width="1"/>
<line x1="265.40" y1="515.50" x2="270.60" y2="515.50" stroke="#222" stroke-width="1"/>
<line x1="265.40" y1="521.90" x2="270.60" y2="521.90" stroke="#222" stroke-width="1"/>
<polygon points="263.60,522.50 272.40,522.50 268.00,515.50" fill="none" stroke="#111" stroke-width="1.2" stroke-linejoin="miter"/>
<line x1="275.24" y1="472.40" x2="275.24" y2="478.80" stroke="#222" stroke-width="1"/>
<line x1="272.63" y1="472.40" x2="277.84" y2="472.40" stroke="#222" stroke-width="1"/>
<line x1="272.63" y1="478.80" x2="277.84" y2="478.80" stroke="#222" stroke-width="1"/>
<polygon points="270.84,479.40 279.63,479.40 275.24,472.40" fill="none" stroke="#111" stroke-width="1.2" stroke-linejoin="miter"/>
<line x1="282.47" y1="452.10" x2="282.47" y2="458.50" stroke="#222" stroke-width="1"/>
<line x1="279.87" y1="452.10" x2="285.07" y2="452.10" stroke="#222" stroke-width="1"/>
<line x1="279.87" y1="458.50" x2="285.07" y2="458.50" stroke="#222" stroke-width="1"/>
<polygon points="278.07,459.10 286.87,459.10 282.47,452.10" fill="none" stroke="#111" stroke-width="1.2" stroke-linejoin="miter"/>
<line x1="289.70" y1="436.70" x2="289.70" y2="443.10" stroke="#222" stroke-width="1"/>
<line x1="287.10" y1="436.70" x2="292.31" y2="436.70" stroke="#222" stroke-width="1"/>
<line x1="287.10" y1="443.10" x2="292.31" y2="443.10" stroke="#222" stroke-width="1"/>
<polygon points="285.31,443.70 294.10,443.70 289.70,436.70" fill="none" stroke="#111" stroke-width="1.2" stroke-linejoin="miter"/>
<line x1="296.94" y1="424.40" x2="296.94" y2="430.80" stroke="#222" stroke-width="1"/>
<line x1="294.34" y1="424.40" x2="299.54" y2="424.40" stroke="#222" stroke-width="1"/>
<line x1="294.34" y1="430.80" x2="299.54" y2="430.80" stroke="#222" stroke-width="1"/>
<polygon points="292.54,431.40 301.34,431.40 296.94,424.40" fill="none" stroke="#111" stroke-width="1.2" stroke-linejoin="miter"/>
<line x1="304.18" y1="414.60" x2="304.18" y2="421.00" stroke="#222" stroke-width="1"/>
<line x1="301.57" y1="414.60" x2="306.78" y2="414.60" stroke="#222" stroke-width="1"/>
<line x1="301.57" y1="421.00" x2="306.78" y2="421.00" stroke="#222" stroke-width="1"/>
<polygon points="299.78,421.60 308.57,421.60 304.18,414.60" fill="none" stroke="#111" stroke-width="1.2" stroke-linejoin="miter"/>
<line x1="311.41" y1="405.80" x2="311.41" y2="412.20" stroke="#222" stroke-width="1"/>
<line x1="308.81" y1="405.80" x2="314.01" y2="405.80" stroke="#222" stroke-width="1"/>
<line x1="308.81" y1="412.20" x2="314.01" y2="412.20" stroke="#222" stroke-width="1"/>
<polygon points="307.01,412.80 315.81,412.80 311.41,405.80" fill="none" stroke="#111" stroke-width="1.2" stroke-linejoin="miter"/>
<line x1="318.64" y1="399.50" x2="318.64" y2="405.90" stroke="#222" stroke-width="1"/>
<line x1="316.04" y1="399.50" x2="321.25" y2="399.50" stroke="#222" stroke-width="1"/>
<line x1="316.04" y1="405.90" x2="321.25" y2="405.90" stroke="#222" stroke-width="1"/>
<polygon points="314.25,406.50 323.04,406.50 318.64,399.50" fill="none" stroke="#111" stroke-width="1.2" stroke-linejoin="miter"/>
<line x1="325.88" y1="393.60" x2="325.88" y2="400.00" stroke="#222" stroke-width="1"/>
<line x1="323.28" y1="393.60" x2="328.48" y2="393.60" stroke="#222" stroke-width="1"/>
<line x1="323.28" y1="400.00" x2="328.48" y2="400.00" stroke="#222" stroke-width="1"/>
<polygon points="321.48,400.60 330.28,400.60 325.88,393.60" fill="none" stroke="#111" stroke-width="1.2" stroke-linejoin="miter"/>
<line x1="333.12" y1="389.40" x2="333.12" y2="395.80" stroke="#222" stroke-width="1"/>
<line x1="330.51" y1="389.40" x2="335.72" y2="389.40" stroke="#222" stroke-width="1"/>
<line x1="330.51" y1="395.80" x2="335.72" y2="395.80" stroke="#222" stroke-width="1"/>
<polygon points="328.72,396.40 337.51,396.40 333.12,389.40" fill="none" stroke="#111" stroke-width="1.2" stroke-linejoin="miter"/>
<line x1="340.35" y1="387.60" x2="340.35" y2="394.00" stroke="#222" stroke-width="1"/>
<line x1="337.75" y1="387.60" x2="342.95" y2="387.60" stroke="#222" stroke-width="1"/>
<line x1="337.75" y1="394.00" x2="342.95" y2="394.00" stroke="#222" stroke-width="1"/>
<polygon points="335.95,394.60 344.75,394.60 340.35,387.60" fill="none" stroke="#111" stroke-width="1.2" stroke-linejoin="miter"/>
<line x1="347.59" y1="378.20" x2="347.59" y2="431.80" stroke="#222" stroke-width="1"/>
<line x1="344.39" y1="378.20" x2="350.79" y2="378.20" stroke="#222" stroke-width="1"/>
<line x1="344.39" y1="431.80" x2="350.79" y2="431.80" stroke="#222" stroke-width="1"/>
<polygon points="343.19,408.60 351.99,408.60 347.59,401.60" fill="none" stroke="#111" stroke-width="1.2" stroke-linejoin="miter"/>
<line x1="354.82" y1="394.30" x2="354.82" y2="474.90" stroke="#222" stroke-width="1"/>
<line x1="351.62" y1="394.30" x2="358.02" y2="394.30" stroke="#222" stroke-width="1"/>
<line x1="351.62" y1="474.90" x2="358.02" y2="474.90" stroke="#222" stroke-width="1"/>
<polygon points="350.42,438.10 359.22,438.10 354.82,431.10" fill="none" stroke="#111" stroke-width="1.2" stroke-linejoin="miter"/>
<line x1="369.29" y1="482.60" x2="369.29" y2="516.60" stroke="#222" stroke-width="1"/>
<line x1="366.09" y1="482.60" x2="372.49" y2="482.60" stroke="#222" stroke-width="1"/>
<line x1="366.09" y1="516.60" x2="372.49" y2="516.60" stroke="#222" stroke-width="1"/>
<polygon points="364.89,503.30 373.69,503.30 369.29,496.30" fill="none" stroke="#111" stroke-width="1.2" stroke-linejoin="miter"/>
<line x1="383.76" y1="507.50" x2="383.76" y2="513.90" stroke="#222" stroke-width="1"/>
<line x1="381.16" y1="507.50" x2="386.36" y2="507.50" stroke="#222" stroke-width="1"/>
<line x1="381.16" y1="513.90" x2="386.36" y2="513.90" stroke="#222" stroke-width="1"/>
<polygon points="379.36,514.50 388.16,514.50 383.76,507.50" fill="none" stroke="#111" stroke-width="1.2" stroke-linejoin="miter"/>
<line x1="398.23" y1="511.00" x2="398.23" y2="517.40" stroke="#222" stroke-width="1"/>
<line x1="395.63" y1="511.00" x2="400.83" y2="511.00" stroke="#222" stroke-width="1"/>
<line x1="395.63" y1="517.40" x2="400.83" y2="517.40" stroke="#222" stroke-width="1"/>
<polygon points="393.83,518.00 402.63,518.00 398.23,511.00" fill="none" stroke="#111" stroke-width="1.2" stroke-linejoin="miter"/>
<line x1="412.70" y1="512.00" x2="412.70" y2="518.40" stroke="#222" stroke-width="1"/>
<line x1="410.10" y1="512.00" x2="415.30" y2="512.00" stroke="#222" stroke-width="1"/>
<line x1="410.10" y1="518.40" x2="415.30" y2="518.40" stroke="#222" stroke-width="1"/>
<polygon points="408.30,519.00 417.10,519.00 412.70,512.00" fill="none" stroke="#111" stroke-width="1.2" stroke-linejoin="miter"/>
<line x1="434.60" y1="497.00" x2="434.60" y2="503.50" stroke="#222" stroke-width="1"/>
<line x1="432.00" y1="497.00" x2="437.20" y2="497.00" stroke="#222" stroke-width="1"/>
<line x1="432.00" y1="503.50" x2="437.20" y2="503.50" stroke="#222" stroke-width="1"/>
<polygon points="430.20,504.00 439.00,504.00 434.60,497.00" fill="none" stroke="#111" stroke-width="1.2" stroke-linejoin="miter"/>
<line x1="419.80" y1="382.50" x2="419.80" y2="561.50" stroke="#333" stroke-width="1.4" stroke-dasharray="1.3,5.1"/>
<line x1="419.80" y1="587.50" x2="419.80" y2="766.20" stroke="#333" stroke-width="1.4" stroke-dasharray="1.3,5.1"/>
<path d="M418.3,381 L420.4,375.3" stroke="#333" stroke-width="1" fill="none"/>
<path d="M418.3,588 L420.4,582.3" stroke="#333" stroke-width="1" fill="none"/>
<line x1="427.80" y1="382.50" x2="427.80" y2="561.50" stroke="#333" stroke-width="1.4" stroke-dasharray="1.3,5.1"/>
<line x1="427.80" y1="587.50" x2="427.80" y2="766.20" stroke="#333" stroke-width="1.4" stroke-dasharray="1.3,5.1"/>
<path d="M426.3,381 L428.4,375.3" stroke="#333" stroke-width="1" fill="none"/>
<path d="M426.3,588 L428.4,582.3" stroke="#333" stroke-width="1" fill="none"/>
<path d="M418.3,564.9 L420.5,559.2" stroke="#333" stroke-width="1" fill="none"/>
<path d="M426.4,564.9 L427.7,559.0" stroke="#333" stroke-width="1" fill="none"/>
<path d="M427,561.4 L435.8,561.4 M427.7,561.4 L427.7,559.5 M431.3,561.4 L431.3,559.5 M435.2,561.4 L435.2,559.5" stroke="#333" stroke-width="1" fill="none"/>
<path d="M418.3,769.8 L420.5,764.1" stroke="#333" stroke-width="1" fill="none"/>
<path d="M426.4,769.8 L427.7,763.9" stroke="#333" stroke-width="1" fill="none"/>
<path d="M427,766.3 L435.8,766.3 M427.7,766.3 L427.7,764.4 M431.3,766.3 L431.3,764.4 M435.2,766.3 L435.2,764.4" stroke="#333" stroke-width="1" fill="none"/>
<line x1="267.60" y1="582.30" x2="267.60" y2="766.20" stroke="#333" stroke-width="1.2"/>
<line x1="267.60" y1="610.40" x2="269.60" y2="610.40" stroke="#333" stroke-width="1"/>
<text x="266.00" y="613.70" font-family='"Liberation Sans", sans-serif' font-size="8.6" text-anchor="end" fill="#333" font-weight="normal">1</text>
<line x1="267.60" y1="639.40" x2="269.60" y2="639.40" stroke="#333" stroke-width="1"/>
<text x="266.00" y="642.70" font-family='"Liberation Sans", sans-serif' font-size="8.6" text-anchor="end" fill="#333" font-weight="normal">0.8</text>
<line x1="267.60" y1="668.40" x2="269.60" y2="668.40" stroke="#333" stroke-width="1"/>
<text x="266.00" y="671.70" font-family='"Liberation Sans", sans-serif' font-size="8.6" text-anchor="end" fill="#333" font-weight="normal">0.6</text>
<line x1="267.60" y1="697.40" x2="269.60" y2="697.40" stroke="#333" stroke-width="1"/>
<text x="266.00" y="700.70" font-family='"Liberation Sans", sans-serif' font-size="8.6" text-anchor="end" fill="#333" font-weight="normal">0.4</text>
<line x1="267.60" y1="726.40" x2="269.60" y2="726.40" stroke="#333" stroke-width="1"/>
<text x="266.00" y="729.70" font-family='"Liberation Sans", sans-serif' font-size="8.6" text-anchor="end" fill="#333" font-weight="normal">0.2</text>
<line x1="267.60" y1="755.40" x2="269.60" y2="755.40" stroke="#333" stroke-width="1"/>
<text x="266.00" y="758.70" font-family='"Liberation Sans", sans-serif' font-size="8.6" text-anchor="end" fill="#333" font-weight="normal">0</text>
<line x1="267.60" y1="766.20" x2="419.80" y2="766.20" stroke="#333" stroke-width="1.2"/>
<line x1="268.00" y1="766.20" x2="268.00" y2="764.20" stroke="#333" stroke-width="1"/>
<text x="268.00" y="776.70" font-family='"Liberation Sans", sans-serif' font-size="8.6" text-anchor="middle" fill="#333" font-weight="normal">0</text>
<line x1="296.94" y1="766.20" x2="296.94" y2="764.20" stroke="#333" stroke-width="1"/>
<text x="296.94" y="776.70" font-family='"Liberation Sans", sans-serif' font-size="8.6" text-anchor="middle" fill="#333" font-weight="normal">2</text>
<line x1="325.88" y1="766.20" x2="325.88" y2="764.20" stroke="#333" stroke-width="1"/>
<text x="325.88" y="776.70" font-family='"Liberation Sans", sans-serif' font-size="8.6" text-anchor="middle" fill="#333" font-weight="normal">4</text>
<line x1="354.82" y1="766.20" x2="354.82" y2="764.20" stroke="#333" stroke-width="1"/>
<text x="354.82" y="776.70" font-family='"Liberation Sans", sans-serif' font-size="8.6" text-anchor="middle" fill="#333" font-weight="normal">6</text>
<line x1="383.76" y1="766.20" x2="383.76" y2="764.20" stroke="#333" stroke-width="1"/>
<text x="383.76" y="776.70" font-family='"Liberation Sans", sans-serif' font-size="8.6" text-anchor="middle" fill="#333" font-weight="normal">8</text>
<line x1="412.70" y1="766.20" x2="412.70" y2="764.20" stroke="#333" stroke-width="1"/>
<text x="412.70" y="776.70" font-family='"Liberation Sans", sans-serif' font-size="8.6" text-anchor="middle" fill="#333" font-weight="normal">10</text>
<text x="434.60" y="776.70" font-family='"Liberation Sans", sans-serif' font-size="8.6" text-anchor="middle" fill="#333" font-weight="normal">100</text>
<text x="350.30" y="787.20" font-family='"Liberation Sans", sans-serif' font-size="10.6" text-anchor="middle" fill="#333" font-weight="normal">AffMag (%)</text>
<text x="249.50" y="673.40" font-family='"Liberation Sans", sans-serif' font-size="10.5" text-anchor="middle" fill="#333" font-weight="normal" transform="rotate(-90 249.50 673.40)">pow-θ</text>
<path d="M268.0,754.7 L275.2,731.9 L282.5,714.7 L289.7,690.9 L296.9,669.2 L304.2,651.6 L311.4,634.1 L318.6,626.1 L325.9,609.6 L333.1,609.6 L340.4,609.6 L347.6,636.6 L354.8,682.8 L369.3,748.7 L383.8,752.9 L398.2,753.0 L412.7,753.0 L419.9,753.2" stroke="#4c77b6" stroke-width="5" fill="none" stroke-linejoin="round"/>
<line x1="428.00" y1="754.80" x2="434.60" y2="755.00" stroke="#4c77b6" stroke-width="5"/>
<line x1="265.50" y1="754.70" x2="270.50" y2="754.70" stroke="#111" stroke-width="1"/>
<circle cx="268.00" cy="754.70" r="3.60" fill="none" stroke="#111" stroke-width="1.2"/>
<line x1="275.24" y1="727.50" x2="275.24" y2="736.00" stroke="#222" stroke-width="1"/>
<line x1="272.04" y1="727.50" x2="278.44" y2="727.50" stroke="#222" stroke-width="1"/>
<line x1="272.04" y1="736.00" x2="278.44" y2="736.00" stroke="#222" stroke-width="1"/>
<circle cx="275.24" cy="731.90" r="3.60" fill="none" stroke="#111" stroke-width="1.2"/>
<line x1="282.47" y1="706.60" x2="282.47" y2="722.40" stroke="#222" stroke-width="1"/>
<line x1="279.27" y1="706.60" x2="285.67" y2="706.60" stroke="#222" stroke-width="1"/>
<line x1="279.27" y1="722.40" x2="285.67" y2="722.40" stroke="#222" stroke-width="1"/>
<circle cx="282.47" cy="714.70" r="3.60" fill="none" stroke="#111" stroke-width="1.2"/>
<line x1="289.70" y1="677.90" x2="289.70" y2="704.20" stroke="#222" stroke-width="1"/>
<line x1="286.50" y1="677.90" x2="292.90" y2="677.90" stroke="#222" stroke-width="1"/>
<line x1="286.50" y1="704.20" x2="292.90" y2="704.20" stroke="#222" stroke-width="1"/>
<circle cx="289.70" cy="690.90" r="3.60" fill="none" stroke="#111" stroke-width="1.2"/>
<line x1="296.94" y1="651.60" x2="296.94" y2="686.70" stroke="#222" stroke-width="1"/>
<line x1="293.74" y1="651.60" x2="300.14" y2="651.60" stroke="#222" stroke-width="1"/>
<line x1="293.74" y1="686.70" x2="300.14" y2="686.70" stroke="#222" stroke-width="1"/>
<circle cx="296.94" cy="669.20" r="3.60" fill="none" stroke="#111" stroke-width="1.2"/>
<line x1="304.18" y1="634.80" x2="304.18" y2="668.80" stroke="#222" stroke-width="1"/>
<line x1="300.98" y1="634.80" x2="307.38" y2="634.80" stroke="#222" stroke-width="1"/>
<line x1="300.98" y1="668.80" x2="307.38" y2="668.80" stroke="#222" stroke-width="1"/>
<circle cx="304.18" cy="651.60" r="3.60" fill="none" stroke="#111" stroke-width="1.2"/>
<line x1="311.41" y1="611.30" x2="311.41" y2="657.60" stroke="#222" stroke-width="1"/>
<line x1="308.21" y1="611.30" x2="314.61" y2="611.30" stroke="#222" stroke-width="1"/>
<line x1="308.21" y1="657.60" x2="314.61" y2="657.60" stroke="#222" stroke-width="1"/>
<circle cx="311.41" cy="634.10" r="3.60" fill="none" stroke="#111" stroke-width="1.2"/>
<line x1="318.64" y1="604.00" x2="318.64" y2="648.10" stroke="#222" stroke-width="1"/>
<line x1="315.44" y1="604.00" x2="321.84" y2="604.00" stroke="#222" stroke-width="1"/>
<line x1="315.44" y1="648.10" x2="321.84" y2="648.10" stroke="#222" stroke-width="1"/>
<circle cx="318.64" cy="626.10" r="3.60" fill="none" stroke="#111" stroke-width="1.2"/>
<line x1="325.88" y1="585.00" x2="325.88" y2="633.80" stroke="#222" stroke-width="1"/>
<line x1="322.68" y1="585.00" x2="329.08" y2="585.00" stroke="#222" stroke-width="1"/>
<line x1="322.68" y1="633.80" x2="329.08" y2="633.80" stroke="#222" stroke-width="1"/>
<circle cx="325.88" cy="609.60" r="3.60" fill="none" stroke="#111" stroke-width="1.2"/>
<line x1="333.12" y1="584.70" x2="333.12" y2="635.90" stroke="#222" stroke-width="1"/>
<line x1="329.92" y1="584.70" x2="336.31" y2="584.70" stroke="#222" stroke-width="1"/>
<line x1="329.92" y1="635.90" x2="336.31" y2="635.90" stroke="#222" stroke-width="1"/>
<circle cx="333.12" cy="609.60" r="3.60" fill="none" stroke="#111" stroke-width="1.2"/>
<line x1="340.35" y1="583.30" x2="340.35" y2="637.60" stroke="#222" stroke-width="1"/>
<line x1="337.15" y1="583.30" x2="343.55" y2="583.30" stroke="#222" stroke-width="1"/>
<line x1="337.15" y1="637.60" x2="343.55" y2="637.60" stroke="#222" stroke-width="1"/>
<circle cx="340.35" cy="609.60" r="3.60" fill="none" stroke="#111" stroke-width="1.2"/>
<line x1="347.59" y1="586.80" x2="347.59" y2="687.40" stroke="#222" stroke-width="1"/>
<line x1="344.39" y1="586.80" x2="350.79" y2="586.80" stroke="#222" stroke-width="1"/>
<line x1="344.39" y1="687.40" x2="350.79" y2="687.40" stroke="#222" stroke-width="1"/>
<circle cx="347.59" cy="636.60" r="3.60" fill="none" stroke="#111" stroke-width="1.2"/>
<line x1="354.82" y1="626.10" x2="354.82" y2="739.20" stroke="#222" stroke-width="1"/>
<line x1="351.62" y1="626.10" x2="358.02" y2="626.10" stroke="#222" stroke-width="1"/>
<line x1="351.62" y1="739.20" x2="358.02" y2="739.20" stroke="#222" stroke-width="1"/>
<circle cx="354.82" cy="682.80" r="3.60" fill="none" stroke="#111" stroke-width="1.2"/>
<line x1="369.29" y1="731.90" x2="369.29" y2="765.50" stroke="#222" stroke-width="1"/>
<line x1="366.09" y1="731.90" x2="372.49" y2="731.90" stroke="#222" stroke-width="1"/>
<line x1="366.09" y1="765.50" x2="372.49" y2="765.50" stroke="#222" stroke-width="1"/>
<circle cx="369.29" cy="748.70" r="3.60" fill="none" stroke="#111" stroke-width="1.2"/>
<line x1="381.26" y1="752.90" x2="386.26" y2="752.90" stroke="#111" stroke-width="1"/>
<circle cx="383.76" cy="752.90" r="3.60" fill="none" stroke="#111" stroke-width="1.2"/>
<line x1="395.73" y1="753.00" x2="400.73" y2="753.00" stroke="#111" stroke-width="1"/>
<circle cx="398.23" cy="753.00" r="3.60" fill="none" stroke="#111" stroke-width="1.2"/>
<line x1="410.20" y1="753.00" x2="415.20" y2="753.00" stroke="#111" stroke-width="1"/>
<circle cx="412.70" cy="753.00" r="3.60" fill="none" stroke="#111" stroke-width="1.2"/>
<line x1="432.10" y1="755.00" x2="437.10" y2="755.00" stroke="#111" stroke-width="1"/>
<circle cx="434.60" cy="755.00" r="3.60" fill="none" stroke="#111" stroke-width="1.2"/>
<text x="487.80" y="18.80" font-family='"Liberation Sans", sans-serif' font-size="14" text-anchor="start" fill="#111" font-weight="bold">d</text>
<line x1="573.50" y1="5.50" x2="602.40" y2="5.50" stroke="#333" stroke-width="1" stroke-dasharray="1,0.9"/>
<text x="606.30" y="9.40" font-family='"Liberation Sans", sans-serif' font-size="10.3" text-anchor="start" fill="#222" font-weight="normal">spiking threshold</text>
<line x1="573.40" y1="20.50" x2="602.70" y2="20.50" stroke="#333" stroke-width="1.0" stroke-dasharray="6.1,3.5" stroke-dashoffset="3.6"/>
<text x="613.40" y="23.60" font-family='"Liberation Sans", sans-serif' font-size="10.3" text-anchor="start" fill="#222" font-weight="normal">Ca</text>
<text x="617.00" y="16.40" font-family='"Liberation Sans", sans-serif' font-size="6.5" text-anchor="start" fill="#222" font-weight="normal">2+</text>
<text x="631.30" y="23.60" font-family='"Liberation Sans", sans-serif' font-size="10.3" text-anchor="start" fill="#222" font-weight="normal">threshold</text>
<path d="M552.10,59.40 C553.10,58.88 555.58,57.24 557.10,56.80 C558.62,56.36 558.60,56.68 559.70,57.20 C560.80,57.72 561.54,59.40 562.60,59.40 C563.66,59.40 564.00,58.44 565.00,57.20 C566.00,55.96 566.50,54.52 567.60,53.20 C568.70,51.88 569.74,54.26 570.50,50.60 C571.26,46.94 571.06,34.10 571.40,34.90 C571.74,35.70 571.60,50.28 572.20,54.60 C572.80,58.92 572.96,56.16 574.40,56.50 C575.84,56.84 577.08,56.76 579.40,56.30 C581.72,55.84 583.84,55.12 586.00,54.20 C588.16,53.28 588.62,51.96 590.20,51.70 C591.78,51.44 592.50,52.72 593.90,52.90 C595.30,53.08 596.16,53.32 597.20,52.60 C598.24,51.88 598.64,52.84 599.10,49.30 C599.56,45.76 599.28,35.04 599.50,34.90 C599.72,34.76 599.48,45.20 600.20,48.60 C600.92,52.00 601.74,51.04 603.10,51.90 C604.46,52.76 605.56,52.64 607.00,52.90 C608.44,53.16 609.20,54.06 610.30,53.20 C611.40,52.34 611.90,52.34 612.50,48.60 C613.10,44.86 612.96,34.62 613.30,34.50 C613.64,34.38 613.14,44.44 614.20,48.00 C615.26,51.56 617.72,51.44 618.60,52.30" stroke="#111" stroke-width="1.1" fill="none" stroke-linejoin="round"/>
<path d="M497.4,151.2 L497.9,151.5 L498.4,152.4 L498.9,152.7 L499.4,153.2 L499.9,152.9 L500.4,152.4 L500.9,152.2 L501.4,153.3 L501.9,154.5 L502.4,154.6 L502.9,154.5 L503.4,154.3 L503.9,153.9 L504.4,153.7 L504.9,153.5 L505.4,152.5 L505.9,151.6 L506.4,151.1 L506.9,155.7 L507.4,158.2 L507.9,159.4 L508.4,160.3 L508.9,161.7 L509.4,162.9 L509.9,163.2 L510.4,163.5 L510.9,163.8 L511.4,163.9 L511.9,163.9 L512.4,164.1 L512.9,165.1 L513.4,165.9 L513.9,166.0 L514.4,165.7 L514.9,166.2 L515.4,166.9 L515.9,166.8 L516.4,166.7 L516.9,166.8 L517.4,166.1 L517.9,164.9 L518.4,164.2 L518.9,164.4 L519.4,163.8 L519.9,162.3 L520.4,161.2 L520.9,160.6 L521.4,159.7 L521.9,158.2 L522.4,157.3 L522.9,157.1 L523.4,157.1 L523.9,157.1 L524.4,157.6 L524.9,157.6 L525.4,157.5 L525.9,157.3 L526.4,157.3 L526.9,157.1 L527.4,156.9 L527.9,157.4 L528.4,158.2 L528.9,158.5 L529.4,158.4 L529.9,159.0 L530.4,159.6 L530.9,159.8 L531.4,160.1 L531.9,160.3 L532.4,159.7 L532.9,159.3 L533.4,159.6 L533.9,160.3 L534.4,160.4 L534.9,159.7 L535.4,158.6 L535.9,157.7 L536.4,157.4 L536.9,157.1 L537.4,157.3 L537.9,156.8 L538.4,156.2 L538.9,156.4 L539.4,157.3 L539.9,158.8 L540.4,159.5 L540.9,158.7 L541.4,157.6 L541.9,157.5 L542.4,158.7 L542.9,159.5 L543.4,159.8 L543.9,160.2 L544.4,160.3 L544.9,160.8 L545.4,161.1 L545.9,161.5 L546.4,162.1 L546.9,161.7 L547.4,160.3 L547.9,159.6 L548.4,159.7 L548.9,159.1 L549.4,158.3 L549.9,158.1 L550.4,158.2 L550.9,158.5 L551.4,159.3 L551.9,160.2 L552.4,161.2 L552.9,161.7 L553.4,162.0 L553.9,162.8 L554.4,163.4 L554.9,163.1 L555.4,162.8 L555.9,163.5 L556.4,164.0 L556.9,164.1 L557.4,163.6 L557.9,163.2 L558.4,163.3 L558.9,163.2 L559.4,162.3 L559.9,161.2 L560.4,160.5 L560.9,160.1 L561.4,159.9 L561.9,160.0 L562.4,160.5 L562.9,160.5 L563.4,159.9 L563.9,159.3 L564.4,159.3 L564.9,158.9 L565.4,158.1 L565.9,157.9 L566.4,158.3 L566.9,158.4 L567.4,158.0 L567.9,157.3 L568.4,157.0 L568.9,157.5 L569.4,158.1 L569.9,158.0 L570.4,157.6 L570.9,157.5 L571.4,157.1 L571.9,157.2 L572.4,157.9 L572.9,158.5 L573.4,158.7 L573.9,159.2 L574.4,160.7 L574.9,161.6 L575.4,161.2 L575.9,161.4 L576.4,161.5 L576.9,161.7 L577.4,161.7 L577.9,162.5 L578.4,163.1 L578.9,163.3 L579.4,162.9 L579.9,162.7 L580.4,162.8 L580.9,163.1 L581.4,162.4 L581.9,162.0 L582.4,161.5 L582.9,161.4 L583.4,162.0 L583.9,161.7 L584.4,161.0 L584.9,160.0 L585.4,159.0 L585.9,158.9 L586.4,159.0 L586.9,157.7 L587.4,155.2 L587.9,154.1 L588.4,155.2 L588.9,156.5 L589.4,156.5 L589.9,156.7 L590.4,156.6 L590.9,156.6 L591.4,157.1 L591.9,157.7 L592.4,157.5 L592.9,157.1 L593.4,156.5 L593.9,156.4 L594.4,156.7 L594.9,157.4 L595.4,157.2 L595.9,155.0 L596.4,153.5 L596.9,153.9 L597.4,154.7 L597.9,155.0 L598.4,154.2 L598.9,153.1 L599.4,152.8 L599.9,152.9 L600.4,152.6 L600.9,152.7 L601.4,152.5 L601.9,152.7 L602.4,152.8 L602.9,152.4 L603.4,151.9 L603.9,151.4 L604.4,151.3 L604.9,151.2 L605.4,153.1 L605.9,155.6 L606.4,156.9 L606.9,157.9 L607.4,159.2 L607.9,161.1 L608.4,162.6 L608.9,163.8 L609.4,164.8 L609.9,165.1 L610.4,165.3 L610.9,165.6 L611.4,166.5 L611.9,167.0 L612.4,167.3 L612.9,168.6 L613.4,169.9 L613.9,170.0 L614.4,170.5 L614.9,171.4 L615.4,170.8 L615.9,169.5 L616.4,169.3 L616.9,169.4 L617.4,168.9 L617.9,168.3 L618.4,168.5 L618.9,168.4 L619.4,168.2 L619.9,168.0 L620.4,167.8 L620.9,166.8 L621.4,166.2 L621.9,166.7 L622.4,166.8 L622.9,166.6 L623.4,166.5 L623.9,166.1 L624.4,166.0 L624.9,166.1 L625.4,166.2 L625.9,166.3 L626.4,166.2 L626.9,165.6 L627.4,165.0 L627.9,165.4 L628.4,165.7 L628.9,165.4 L629.4,164.7 L629.9,164.0 L630.4,163.3 L630.9,162.3 L631.4,161.8 L631.9,161.6 L632.4,161.0 L632.9,160.7 L633.4,160.8 L633.9,160.7 L634.4,161.0 L634.9,161.7 L635.4,162.0 L635.9,161.3 L636.4,159.9 L636.9,158.8 L637.4,158.0 L637.9,157.6 L638.4,157.1 L638.9,157.8 L639.4,158.8 L639.9,158.8 L640.4,157.7 L640.9,156.3 L641.4,155.3 L641.9,155.0 L642.4,154.9 L642.9,155.1 L643.4,155.8 L643.9,156.5 L644.4,156.7 L644.9,156.5 L645.4,156.0 L645.9,156.1 L646.4,157.2 L646.9,157.9 L647.4,157.2 L647.9,156.5 L648.4,156.3 L648.9,156.9 L649.4,157.4 L649.9,156.9 L650.4,155.9 L650.9,155.4 L651.4,155.6 L651.9,156.2 L652.4,156.0 L652.9,155.0 L653.4,155.0 L653.9,156.0 L654.4,156.3 L654.9,156.5 L655.4,156.4 L655.9,156.0 L656.4,156.8 L656.9,157.9 L657.4,159.1 L657.9,159.5 L658.4,158.5 L658.9,157.4 L659.4,157.3 L659.9,157.5 L660.4,157.0 L660.9,156.0 L661.4,155.8 L661.9,156.6 L662.4,157.1 L662.9,156.8 L663.4,157.0 L663.9,157.3 L664.4,157.4 L664.9,158.6 L665.4,160.1 L665.9,160.3 L666.4,160.2 L666.9,160.1 L667.4,160.4 L667.9,160.2 L668.4,160.3 L668.9,160.5 L669.4,159.9 L669.9,159.7 L670.4,158.9 L670.9,158.4 L671.4,158.3 L671.9,158.1 L672.4,158.2 L672.9,157.8 L673.4,156.7 L673.9,155.8 L674.4,155.5 L674.9,155.5 L675.4,155.8 L675.9,156.3 L676.4,156.4 L676.9,156.4" stroke="#eedcae" stroke-width="1.0" fill="none" stroke-linejoin="round" opacity="1.0"/>
<path d="M497.4,161.6 L497.9,161.2 L498.4,160.7 L498.9,160.7 L499.4,161.7 L499.9,162.8 L500.4,163.3 L500.9,163.5 L501.4,162.9 L501.9,161.6 L502.4,160.9 L502.9,161.3 L503.4,161.4 L503.9,161.0 L504.4,160.5 L504.9,160.0 L505.4,160.4 L505.9,161.5 L506.4,161.8 L506.9,161.8 L507.4,161.8 L507.9,161.9 L508.4,162.7 L508.9,163.4 L509.4,163.4 L509.9,163.4 L510.4,163.1 L510.9,162.4 L511.4,161.7 L511.9,162.5 L512.4,164.4 L512.9,164.9 L513.4,164.0 L513.9,163.6 L514.4,163.6 L514.9,163.6 L515.4,163.7 L515.9,163.0 L516.4,162.0 L516.9,162.2 L517.4,163.9 L517.9,165.0 L518.4,165.2 L518.9,164.8 L519.4,164.7 L519.9,165.2 L520.4,165.9 L520.9,166.8 L521.4,167.0 L521.9,165.9 L522.4,164.7 L522.9,164.4 L523.4,164.4 L523.9,163.7 L524.4,162.9 L524.9,162.1 L525.4,161.6 L525.9,160.8 L526.4,159.0 L526.9,157.0 L527.4,155.2 L527.9,153.4 L528.4,151.7 L528.9,162.3 L529.4,164.3 L529.9,166.3 L530.4,167.8 L530.9,169.4 L531.4,170.9 L531.9,172.1 L532.4,172.5 L532.9,173.0 L533.4,174.2 L533.9,174.1 L534.4,173.7 L534.9,173.7 L535.4,173.7 L535.9,173.1 L536.4,172.7 L536.9,172.7 L537.4,172.5 L537.9,172.1 L538.4,172.0 L538.9,171.7 L539.4,171.5 L539.9,171.4 L540.4,170.7 L540.9,170.0 L541.4,170.1 L541.9,170.3 L542.4,170.3 L542.9,170.6 L543.4,170.9 L543.9,170.1 L544.4,169.2 L544.9,168.7 L545.4,168.4 L545.9,167.6 L546.4,166.6 L546.9,166.4 L547.4,166.9 L547.9,166.6 L548.4,165.9 L548.9,166.1 L549.4,166.9 L549.9,166.9 L550.4,166.3 L550.9,166.3 L551.4,166.7 L551.9,166.5 L552.4,166.1 L552.9,165.7 L553.4,165.8 L553.9,166.0 L554.4,166.0 L554.9,165.6 L555.4,165.7 L555.9,166.1 L556.4,165.6 L556.9,164.7 L557.4,164.0 L557.9,163.3 L558.4,162.6 L558.9,161.9 L559.4,160.5 L559.9,159.1 L560.4,158.3 L560.9,157.9 L561.4,157.7 L561.9,157.6 L562.4,157.9 L562.9,158.5 L563.4,158.9 L563.9,159.0 L564.4,159.2 L564.9,158.6 L565.4,158.5 L565.9,159.2 L566.4,159.8 L566.9,159.7 L567.4,160.4 L567.9,161.9 L568.4,162.8 L568.9,162.3 L569.4,161.2 L569.9,161.2 L570.4,161.2 L570.9,160.5 L571.4,159.5 L571.9,158.8 L572.4,158.8 L572.9,159.7 L573.4,161.1 L573.9,160.5 L574.4,159.2 L574.9,158.9 L575.4,159.4 L575.9,159.6 L576.4,159.3 L576.9,158.8 L577.4,158.2 L577.9,157.5 L578.4,156.2 L578.9,155.0 L579.4,154.6 L579.9,154.6 L580.4,154.9 L580.9,155.0 L581.4,155.2 L581.9,155.3 L582.4,156.0 L582.9,157.2 L583.4,158.2 L583.9,158.1 L584.4,158.3 L584.9,158.9 L585.4,158.9 L585.9,158.7 L586.4,158.1 L586.9,157.6 L587.4,157.6 L587.9,158.3 L588.4,158.3 L588.9,157.5 L589.4,157.2 L589.9,157.1 L590.4,156.8 L590.9,156.2 L591.4,155.7 L591.9,155.3 L592.4,155.9 L592.9,156.6 L593.4,157.2 L593.9,156.7 L594.4,155.7 L594.9,155.6 L595.4,155.9 L595.9,155.8 L596.4,154.6 L596.9,153.5 L597.4,152.8 L597.9,152.7 L598.4,152.7 L598.9,152.3 L599.4,151.8 L599.9,155.5 L600.4,158.7 L600.9,162.1 L601.4,165.0 L601.9,166.7 L602.4,167.5 L602.9,168.6 L603.4,170.0 L603.9,170.9 L604.4,171.1 L604.9,171.6 L605.4,172.1 L605.9,171.9 L606.4,172.1 L606.9,173.0 L607.4,173.1 L607.9,171.9 L608.4,170.3 L608.9,168.9 L609.4,168.2 L609.9,168.0 L610.4,168.4 L610.9,168.6 L611.4,168.0 L611.9,166.6 L612.4,165.9 L612.9,165.8 L613.4,165.8 L613.9,165.2 L614.4,164.8 L614.9,164.3 L615.4,164.1 L615.9,164.5 L616.4,165.6 L616.9,166.5 L617.4,166.6 L617.9,165.5 L618.4,164.9 L618.9,165.3 L619.4,165.6 L619.9,164.8 L620.4,164.4 L620.9,165.0 L621.4,165.2 L621.9,164.5 L622.4,163.8 L622.9,163.5 L623.4,163.2 L623.9,162.9 L624.4,162.8 L624.9,162.9 L625.4,162.5 L625.9,162.4 L626.4,162.8 L626.9,160.7 L627.4,158.3 L627.9,156.4 L628.4,154.5 L628.9,152.7 L629.4,161.5 L629.9,164.0 L630.4,165.0 L630.9,165.4 L631.4,166.1 L631.9,167.3 L632.4,167.7 L632.9,168.3 L633.4,169.4 L633.9,170.8 L634.4,172.1 L634.9,173.0 L635.4,173.6 L635.9,173.6 L636.4,173.7 L636.9,174.1 L637.4,174.0 L637.9,173.3 L638.4,171.9 L638.9,170.7 L639.4,170.4 L639.9,170.5 L640.4,171.0 L640.9,171.5 L641.4,171.1 L641.9,170.5 L642.4,170.1 L642.9,170.2 L643.4,169.9 L643.9,169.5 L644.4,169.4 L644.9,169.0 L645.4,168.8 L645.9,168.4 L646.4,168.2 L646.9,167.4 L647.4,166.0 L647.9,165.0 L648.4,164.7 L648.9,164.4 L649.4,163.5 L649.9,162.2 L650.4,161.5 L650.9,160.5 L651.4,159.2 L651.9,158.6 L652.4,158.4 L652.9,158.4 L653.4,158.0 L653.9,157.5 L654.4,157.3 L654.9,157.9 L655.4,158.9 L655.9,158.9 L656.4,158.6 L656.9,159.8 L657.4,161.3 L657.9,161.0 L658.4,159.7 L658.9,158.5 L659.4,158.0 L659.9,158.5 L660.4,158.2 L660.9,157.5 L661.4,157.2 L661.9,156.4 L662.4,155.8 L662.9,155.9 L663.4,155.5 L663.9,154.6 L664.4,153.8 L664.9,153.0 L665.4,153.4 L665.9,154.6 L666.4,155.4 L666.9,155.2 L667.4,155.0 L667.9,155.2 L668.4,155.7 L668.9,156.7 L669.4,158.0 L669.9,158.8 L670.4,159.3 L670.9,159.9 L671.4,160.7 L671.9,162.2 L672.4,162.7 L672.9,162.6 L673.4,163.1 L673.9,163.4 L674.4,163.7 L674.9,164.0 L675.4,164.4 L675.9,164.1 L676.4,163.8 L676.9,163.8" stroke="#dcbf82" stroke-width="1.0" fill="none" stroke-linejoin="round" opacity="1.0"/>
<path d="M497.4,152.9 L497.9,153.2 L498.4,153.6 L498.9,153.8 L499.4,154.4 L499.9,155.7 L500.4,156.5 L500.9,156.1 L501.4,155.7 L501.9,156.0 L502.4,156.9 L502.9,157.2 L503.4,157.2 L503.9,157.1 L504.4,156.5 L504.9,155.7 L505.4,155.9 L505.9,157.1 L506.4,157.6 L506.9,156.7 L507.4,155.5 L507.9,154.6 L508.4,154.2 L508.9,153.3 L509.4,152.1 L509.9,151.7 L510.4,151.5 L510.9,151.4 L511.4,151.4 L511.9,151.3 L512.4,151.1 L512.9,150.1 L513.4,149.1 L513.9,148.8 L514.4,149.4 L514.9,149.1 L515.4,147.7 L515.9,148.0 L516.4,149.6 L516.9,150.7 L517.4,150.3 L517.9,149.6 L518.4,149.3 L518.9,149.4 L519.4,150.3 L519.9,151.1 L520.4,151.1 L520.9,152.4 L521.4,155.4 L521.9,158.1 L522.4,159.9 L522.9,160.7 L523.4,161.2 L523.9,161.9 L524.4,163.0 L524.9,163.5 L525.4,163.6 L525.9,163.8 L526.4,164.3 L526.9,164.8 L527.4,165.0 L527.9,164.5 L528.4,165.2 L528.9,166.0 L529.4,165.9 L529.9,166.0 L530.4,166.2 L530.9,166.4 L531.4,167.0 L531.9,168.0 L532.4,168.2 L532.9,168.1 L533.4,167.5 L533.9,167.0 L534.4,166.1 L534.9,165.9 L535.4,166.2 L535.9,165.3 L536.4,163.6 L536.9,162.1 L537.4,161.7 L537.9,161.8 L538.4,161.2 L538.9,160.6 L539.4,160.8 L539.9,161.0 L540.4,161.1 L540.9,161.4 L541.4,161.7 L541.9,161.2 L542.4,159.9 L542.9,159.9 L543.4,160.6 L543.9,160.9 L544.4,160.4 L544.9,160.2 L545.4,159.8 L545.9,159.2 L546.4,158.7 L546.9,158.4 L547.4,157.3 L547.9,157.6 L548.4,158.1 L548.9,157.5 L549.4,157.5 L549.9,158.1 L550.4,158.1 L550.9,157.2 L551.4,156.5 L551.9,156.5 L552.4,156.5 L552.9,156.8 L553.4,157.1 L553.9,157.4 L554.4,157.1 L554.9,156.7 L555.4,157.2 L555.9,157.9 L556.4,157.8 L556.9,158.2 L557.4,159.4 L557.9,159.7 L558.4,159.0 L558.9,158.8 L559.4,158.9 L559.9,158.9 L560.4,158.4 L560.9,157.7 L561.4,157.4 L561.9,156.7 L562.4,156.0 L562.9,156.0 L563.4,156.7 L563.9,157.5 L564.4,157.7 L564.9,157.4 L565.4,157.6 L565.9,157.7 L566.4,157.4 L566.9,157.1 L567.4,156.8 L567.9,156.4 L568.4,156.3 L568.9,155.9 L569.4,155.3 L569.9,155.7 L570.4,156.7 L570.9,156.7 L571.4,157.4 L571.9,158.8 L572.4,159.6 L572.9,159.2 L573.4,158.6 L573.9,158.2 L574.4,158.4 L574.9,158.8 L575.4,158.3 L575.9,157.5 L576.4,156.5 L576.9,155.8 L577.4,154.8 L577.9,153.8 L578.4,153.3 L578.9,153.1 L579.4,153.2 L579.9,154.5 L580.4,155.7 L580.9,156.1 L581.4,155.6 L581.9,154.5 L582.4,153.8 L582.9,153.7 L583.4,153.5 L583.9,153.4 L584.4,154.3 L584.9,155.1 L585.4,155.1 L585.9,154.5 L586.4,153.6 L586.9,152.5 L587.4,151.4 L587.9,158.9 L588.4,162.4 L588.9,164.9 L589.4,166.3 L589.9,167.6 L590.4,169.2 L590.9,171.1 L591.4,171.7 L591.9,171.2 L592.4,171.1 L592.9,170.9 L593.4,170.2 L593.9,170.0 L594.4,169.7 L594.9,169.3 L595.4,169.5 L595.9,170.2 L596.4,170.3 L596.9,169.3 L597.4,167.8 L597.9,166.6 L598.4,166.8 L598.9,168.1 L599.4,168.6 L599.9,167.8 L600.4,167.5 L600.9,167.9 L601.4,167.0 L601.9,166.2 L602.4,166.8 L602.9,167.0 L603.4,166.7 L603.9,166.2 L604.4,166.3 L604.9,166.2 L605.4,165.7 L605.9,165.3 L606.4,165.0 L606.9,164.5 L607.4,164.3 L607.9,164.4 L608.4,164.9 L608.9,164.9 L609.4,163.9 L609.9,163.2 L610.4,163.2 L610.9,162.9 L611.4,161.7 L611.9,160.7 L612.4,159.9 L612.9,158.7 L613.4,157.7 L613.9,157.6 L614.4,158.0 L614.9,158.0 L615.4,158.0 L615.9,157.3 L616.4,157.4 L616.9,157.8 L617.4,158.3 L617.9,158.7 L618.4,158.7 L618.9,158.5 L619.4,159.1 L619.9,159.1 L620.4,159.4 L620.9,158.9 L621.4,157.2 L621.9,156.1 L622.4,156.3 L622.9,156.1 L623.4,155.0 L623.9,153.2 L624.4,152.5 L624.9,152.2 L625.4,152.7 L625.9,153.6 L626.4,154.1 L626.9,154.4 L627.4,154.9 L627.9,155.4 L628.4,155.5 L628.9,155.3 L629.4,155.5 L629.9,155.9 L630.4,156.6 L630.9,156.5 L631.4,156.1 L631.9,155.2 L632.4,155.0 L632.9,154.7 L633.4,153.7 L633.9,152.3 L634.4,151.6 L634.9,151.1 L635.4,151.4 L635.9,151.5 L636.4,151.1 L636.9,150.1 L637.4,149.7 L637.9,150.6 L638.4,151.7 L638.9,151.4 L639.4,151.5 L639.9,151.8 L640.4,152.3 L640.9,153.0 L641.4,153.7 L641.9,154.1 L642.4,153.9 L642.9,154.0 L643.4,153.9 L643.9,153.6 L644.4,153.0 L644.9,152.2 L645.4,151.0 L645.9,149.8 L646.4,149.2 L646.9,148.9 L647.4,148.8 L647.9,149.1 L648.4,149.2 L648.9,148.8 L649.4,148.7 L649.9,148.6 L650.4,148.2 L650.9,148.4 L651.4,149.1 L651.9,149.8 L652.4,150.1 L652.9,150.6 L653.4,151.1 L653.9,151.7 L654.4,153.3 L654.9,155.1 L655.4,156.0 L655.9,156.0 L656.4,156.5 L656.9,157.3 L657.4,158.2 L657.9,158.6 L658.4,158.7 L658.9,158.3 L659.4,157.6 L659.9,156.8 L660.4,155.4 L660.9,154.5 L661.4,153.4 L661.9,153.4 L662.4,152.9 L662.9,151.7 L663.4,151.1 L663.9,150.8 L664.4,151.1 L664.9,151.4 L665.4,151.8 L665.9,152.3 L666.4,152.9 L666.9,153.4 L667.4,153.6 L667.9,153.7 L668.4,154.6 L668.9,156.0 L669.4,156.1 L669.9,155.3 L670.4,154.8 L670.9,153.9 L671.4,152.3 L671.9,151.9 L672.4,152.5 L672.9,153.0 L673.4,153.0 L673.9,152.5 L674.4,151.6 L674.9,151.0 L675.4,150.6 L675.9,151.0 L676.4,151.0 L676.9,151.1" stroke="#c2823e" stroke-width="1.0" fill="none" stroke-linejoin="round" opacity="1.0"/>
<path d="M497.4,156.2 L497.9,156.6 L498.4,156.2 L498.9,156.0 L499.4,156.1 L499.9,156.7 L500.4,157.1 L500.9,156.6 L501.4,155.5 L501.9,155.3 L502.4,155.1 L502.9,153.8 L503.4,152.6 L503.9,152.0 L504.4,151.7 L504.9,151.4 L505.4,153.0 L505.9,155.4 L506.4,157.7 L506.9,160.0 L507.4,161.4 L507.9,163.4 L508.4,165.2 L508.9,166.5 L509.4,166.6 L509.9,166.3 L510.4,166.2 L510.9,167.1 L511.4,168.1 L511.9,167.4 L512.4,167.0 L512.9,166.6 L513.4,166.3 L513.9,166.1 L514.4,166.6 L514.9,166.8 L515.4,166.5 L515.9,166.1 L516.4,165.9 L516.9,165.6 L517.4,165.2 L517.9,164.3 L518.4,163.6 L518.9,163.7 L519.4,164.1 L519.9,163.5 L520.4,162.6 L520.9,161.6 L521.4,160.5 L521.9,159.8 L522.4,159.6 L522.9,159.5 L523.4,159.8 L523.9,159.9 L524.4,160.2 L524.9,159.9 L525.4,159.2 L525.9,158.6 L526.4,158.2 L526.9,158.4 L527.4,158.9 L527.9,158.9 L528.4,158.4 L528.9,158.2 L529.4,158.0 L529.9,158.2 L530.4,157.6 L530.9,157.2 L531.4,157.2 L531.9,156.4 L532.4,154.8 L532.9,154.1 L533.4,153.7 L533.9,154.2 L534.4,154.7 L534.9,155.1 L535.4,155.8 L535.9,156.1 L536.4,156.9 L536.9,157.5 L537.4,157.2 L537.9,157.0 L538.4,156.6 L538.9,155.5 L539.4,154.2 L539.9,152.9 L540.4,151.8 L540.9,151.6 L541.4,150.9 L541.9,150.2 L542.4,150.4 L542.9,150.5 L543.4,150.4 L543.9,149.9 L544.4,149.8 L544.9,150.4 L545.4,150.7 L545.9,150.0 L546.4,149.5 L546.9,150.9 L547.4,152.5 L547.9,152.9 L548.4,152.8 L548.9,153.0 L549.4,153.2 L549.9,153.6 L550.4,153.8 L550.9,154.3 L551.4,154.1 L551.9,153.9 L552.4,153.7 L552.9,153.0 L553.4,153.1 L553.9,153.1 L554.4,153.5 L554.9,154.2 L555.4,154.7 L555.9,154.1 L556.4,153.8 L556.9,154.4 L557.4,154.8 L557.9,154.7 L558.4,154.1 L558.9,153.9 L559.4,154.0 L559.9,153.3 L560.4,152.6 L560.9,152.2 L561.4,152.2 L561.9,152.8 L562.4,153.1 L562.9,153.4 L563.4,153.7 L563.9,153.8 L564.4,153.7 L564.9,153.1 L565.4,153.1 L565.9,154.1 L566.4,154.4 L566.9,153.7 L567.4,153.1 L567.9,152.9 L568.4,153.3 L568.9,153.4 L569.4,153.1 L569.9,152.9 L570.4,152.3 L570.9,151.5 L571.4,151.1 L571.9,155.0 L572.4,158.2 L572.9,161.3 L573.4,163.2 L573.9,164.7 L574.4,166.0 L574.9,166.4 L575.4,167.1 L575.9,168.6 L576.4,170.5 L576.9,171.1 L577.4,171.6 L577.9,171.5 L578.4,171.0 L578.9,170.9 L579.4,170.9 L579.9,171.1 L580.4,170.5 L580.9,169.4 L581.4,169.1 L581.9,169.5 L582.4,169.1 L582.9,168.2 L583.4,167.5 L583.9,167.7 L584.4,167.3 L584.9,166.0 L585.4,165.0 L585.9,163.9 L586.4,162.8 L586.9,162.6 L587.4,162.1 L587.9,161.9 L588.4,162.0 L588.9,161.3 L589.4,161.0 L589.9,161.7 L590.4,161.6 L590.9,161.1 L591.4,160.4 L591.9,159.4 L592.4,159.0 L592.9,158.7 L593.4,158.9 L593.9,159.8 L594.4,160.7 L594.9,160.4 L595.4,158.6 L595.9,156.6 L596.4,155.9 L596.9,155.9 L597.4,155.9 L597.9,155.0 L598.4,153.7 L598.9,152.8 L599.4,152.8 L599.9,152.6 L600.4,151.9 L600.9,151.6 L601.4,151.7 L601.9,152.5 L602.4,152.5 L602.9,151.4 L603.4,149.5 L603.9,148.6 L604.4,149.0 L604.9,148.9 L605.4,149.2 L605.9,151.1 L606.4,152.6 L606.9,153.1 L607.4,153.5 L607.9,153.7 L608.4,154.1 L608.9,154.5 L609.4,154.9 L609.9,153.8 L610.4,153.4 L610.9,153.7 L611.4,154.1 L611.9,153.7 L612.4,152.9 L612.9,153.4 L613.4,155.1 L613.9,156.5 L614.4,156.0 L614.9,155.1 L615.4,155.9 L615.9,157.7 L616.4,157.6 L616.9,156.9 L617.4,157.6 L617.9,158.5 L618.4,158.1 L618.9,156.2 L619.4,154.7 L619.9,153.5 L620.4,152.5 L620.9,151.4 L621.4,158.4 L621.9,160.1 L622.4,161.2 L622.9,162.3 L623.4,164.1 L623.9,165.1 L624.4,165.9 L624.9,167.3 L625.4,169.0 L625.9,170.9 L626.4,172.9 L626.9,173.8 L627.4,174.0 L627.9,173.8 L628.4,173.9 L628.9,173.7 L629.4,173.8 L629.9,173.8 L630.4,173.0 L630.9,172.1 L631.4,171.4 L631.9,170.3 L632.4,169.7 L632.9,169.5 L633.4,168.9 L633.9,167.6 L634.4,167.1 L634.9,167.0 L635.4,167.0 L635.9,167.1 L636.4,166.9 L636.9,166.7 L637.4,166.6 L637.9,167.2 L638.4,167.7 L638.9,167.5 L639.4,165.9 L639.9,164.1 L640.4,163.0 L640.9,162.7 L641.4,162.3 L641.9,160.7 L642.4,159.5 L642.9,158.9 L643.4,158.6 L643.9,158.5 L644.4,158.5 L644.9,158.5 L645.4,158.6 L645.9,158.3 L646.4,157.5 L646.9,157.3 L647.4,156.6 L647.9,156.7 L648.4,157.4 L648.9,157.2 L649.4,157.1 L649.9,157.0 L650.4,156.9 L650.9,157.6 L651.4,159.0 L651.9,160.2 L652.4,161.0 L652.9,160.8 L653.4,161.3 L653.9,161.7 L654.4,162.0 L654.9,161.8 L655.4,161.9 L655.9,161.9 L656.4,162.0 L656.9,161.7 L657.4,160.9 L657.9,159.3 L658.4,158.5 L658.9,158.1 L659.4,157.6 L659.9,157.2 L660.4,157.0 L660.9,157.0 L661.4,156.6 L661.9,156.1 L662.4,156.5 L662.9,156.9 L663.4,157.8 L663.9,158.5 L664.4,158.8 L664.9,157.9 L665.4,155.8 L665.9,153.9 L666.4,153.0 L666.9,152.4 L667.4,151.9 L667.9,151.4 L668.4,153.5 L668.9,156.1 L669.4,158.7 L669.9,160.1 L670.4,161.1 L670.9,162.5 L671.4,163.7 L671.9,164.4 L672.4,165.5 L672.9,165.8 L673.4,165.8 L673.9,166.3 L674.4,166.9 L674.9,167.0 L675.4,166.6 L675.9,166.2 L676.4,166.7 L676.9,167.4" stroke="#8a5424" stroke-width="1.0" fill="none" stroke-linejoin="round" opacity="1.0"/>
<path d="M497.4,157.7 L497.9,157.6 L498.4,156.8 L498.9,156.6 L499.4,156.4 L499.9,156.6 L500.4,156.2 L500.9,156.0 L501.4,156.2 L501.9,156.5 L502.4,156.6 L502.9,156.3 L503.4,156.1 L503.9,156.1 L504.4,155.7 L504.9,155.6 L505.4,155.6 L505.9,155.8 L506.4,155.8 L506.9,156.3 L507.4,156.6 L507.9,156.3 L508.4,155.8 L508.9,155.7 L509.4,155.5 L509.9,155.9 L510.4,155.8 L510.9,155.6 L511.4,155.3 L511.9,154.7 L512.4,153.9 L512.9,153.4 L513.4,153.1 L513.9,153.2 L514.4,153.8 L514.9,154.4 L515.4,154.4 L515.9,154.3 L516.4,154.3 L516.9,153.6 L517.4,153.6 L517.9,153.1 L518.4,152.6 L518.9,152.3 L519.4,152.2 L519.9,152.1 L520.4,151.7 L520.9,151.7 L521.4,152.0 L521.9,152.2 L522.4,152.2 L522.9,152.2 L523.4,151.8 L523.9,152.4 L524.4,153.4 L524.9,154.1 L525.4,154.8 L525.9,155.7 L526.4,156.3 L526.9,155.7 L527.4,154.9 L527.9,154.4 L528.4,155.0 L528.9,155.0 L529.4,154.7 L529.9,154.5 L530.4,154.9 L530.9,154.9 L531.4,154.4 L531.9,154.1 L532.4,154.3 L532.9,154.5 L533.4,154.5 L533.9,154.8 L534.4,155.1 L534.9,155.5 L535.4,155.1 L535.9,155.0 L536.4,155.1 L536.9,155.2 L537.4,155.5 L537.9,156.1 L538.4,156.7 L538.9,156.9 L539.4,157.5 L539.9,157.6 L540.4,157.6 L540.9,157.8 L541.4,157.5 L541.9,156.8 L542.4,156.9 L542.9,157.7 L543.4,158.2 L543.9,158.5 L544.4,158.7 L544.9,158.6 L545.4,158.0 L545.9,156.4 L546.4,155.4 L546.9,154.4 L547.4,152.9 L547.9,151.8 L548.4,155.4 L548.9,157.8 L549.4,159.7 L549.9,161.3 L550.4,162.4 L550.9,163.4 L551.4,164.4 L551.9,165.8 L552.4,167.3 L552.9,168.7 L553.4,169.1 L553.9,169.8 L554.4,170.5 L554.9,170.4 L555.4,170.0 L555.9,170.3 L556.4,170.7 L556.9,170.7 L557.4,170.1 L557.9,169.0 L558.4,169.1 L558.9,169.5 L559.4,168.5 L559.9,166.7 L560.4,165.4 L560.9,164.3 L561.4,162.8 L561.9,161.8 L562.4,161.7 L562.9,161.4 L563.4,160.5 L563.9,160.2 L564.4,159.8 L564.9,159.8 L565.4,159.7 L565.9,159.3 L566.4,159.0 L566.9,159.1 L567.4,158.9 L567.9,158.4 L568.4,158.7 L568.9,160.3 L569.4,161.3 L569.9,160.6 L570.4,160.3 L570.9,161.0 L571.4,160.9 L571.9,160.2 L572.4,160.0 L572.9,160.1 L573.4,159.1 L573.9,158.3 L574.4,157.6 L574.9,157.3 L575.4,156.7 L575.9,156.6 L576.4,156.8 L576.9,156.9 L577.4,156.4 L577.9,156.3 L578.4,156.7 L578.9,156.3 L579.4,155.8 L579.9,155.9 L580.4,156.7 L580.9,156.9 L581.4,157.1 L581.9,157.4 L582.4,157.4 L582.9,156.3 L583.4,155.6 L583.9,156.0 L584.4,156.4 L584.9,156.1 L585.4,154.9 L585.9,154.0 L586.4,153.5 L586.9,154.4 L587.4,156.0 L587.9,156.9 L588.4,156.5 L588.9,156.2 L589.4,156.8 L589.9,158.0 L590.4,158.5 L590.9,158.0 L591.4,157.4 L591.9,157.7 L592.4,158.8 L592.9,159.2 L593.4,158.4 L593.9,158.0 L594.4,157.7 L594.9,157.7 L595.4,157.4 L595.9,157.1 L596.4,157.2 L596.9,157.5 L597.4,157.9 L597.9,157.9 L598.4,157.6 L598.9,157.7 L599.4,158.3 L599.9,159.2 L600.4,158.7 L600.9,157.7 L601.4,156.5 L601.9,155.7 L602.4,155.6 L602.9,156.3 L603.4,157.3 L603.9,157.9 L604.4,157.9 L604.9,157.7 L605.4,157.9 L605.9,158.0 L606.4,157.7 L606.9,157.7 L607.4,158.8 L607.9,159.6 L608.4,159.7 L608.9,160.5 L609.4,161.2 L609.9,161.4 L610.4,161.3 L610.9,161.5 L611.4,162.2 L611.9,163.1 L612.4,163.4 L612.9,163.3 L613.4,162.9 L613.9,162.7 L614.4,162.5 L614.9,162.0 L615.4,161.6 L615.9,161.6 L616.4,161.5 L616.9,161.7 L617.4,161.8 L617.9,161.7 L618.4,161.6 L618.9,161.9 L619.4,161.8 L619.9,160.6 L620.4,159.9 L620.9,160.0 L621.4,161.1 L621.9,162.2 L622.4,162.3 L622.9,161.5 L623.4,161.0 L623.9,160.7 L624.4,160.5 L624.9,160.3 L625.4,159.8 L625.9,159.7 L626.4,160.1 L626.9,160.5 L627.4,160.5 L627.9,159.9 L628.4,159.5 L628.9,159.0 L629.4,158.9 L629.9,158.6 L630.4,157.7 L630.9,156.4 L631.4,155.1 L631.9,153.6 L632.4,151.8 L632.9,164.6 L633.4,166.8 L633.9,168.6 L634.4,170.3 L634.9,170.7 L635.4,170.5 L635.9,170.4 L636.4,170.5 L636.9,170.9 L637.4,170.9 L637.9,170.5 L638.4,169.6 L638.9,168.3 L639.4,167.7 L639.9,167.2 L640.4,166.6 L640.9,165.9 L641.4,165.7 L641.9,165.7 L642.4,165.7 L642.9,165.2 L643.4,164.3 L643.9,163.9 L644.4,164.1 L644.9,164.6 L645.4,164.5 L645.9,164.1 L646.4,163.5 L646.9,163.2 L647.4,162.9 L647.9,162.7 L648.4,161.9 L648.9,161.0 L649.4,159.9 L649.9,159.1 L650.4,159.4 L650.9,159.5 L651.4,160.0 L651.9,160.4 L652.4,160.6 L652.9,160.3 L653.4,160.0 L653.9,160.3 L654.4,160.3 L654.9,160.8 L655.4,161.4 L655.9,161.5 L656.4,161.2 L656.9,161.5 L657.4,162.1 L657.9,162.5 L658.4,162.5 L658.9,162.4 L659.4,162.9 L659.9,163.7 L660.4,163.6 L660.9,162.9 L661.4,163.0 L661.9,163.3 L662.4,163.5 L662.9,163.6 L663.4,164.1 L663.9,164.3 L664.4,164.1 L664.9,163.9 L665.4,163.0 L665.9,162.6 L666.4,162.7 L666.9,162.3 L667.4,161.8 L667.9,161.7 L668.4,162.1 L668.9,162.4 L669.4,162.7 L669.9,163.5 L670.4,164.1 L670.9,164.1 L671.4,164.2 L671.9,164.1 L672.4,163.9 L672.9,164.1 L673.4,163.5 L673.9,162.9 L674.4,162.4 L674.9,161.3 L675.4,160.8 L675.9,161.6 L676.4,162.3 L676.9,162.1" stroke="#3b2412" stroke-width="1.0" fill="none" stroke-linejoin="round" opacity="1.0"/>
<line x1="505.40" y1="65.50" x2="505.40" y2="171.00" stroke="#6b4a2a" stroke-width="1.0"/>
<line x1="506.50" y1="65.50" x2="506.50" y2="171.00" stroke="#e6c676" stroke-width="1.0"/>
<line x1="520.70" y1="65.50" x2="520.70" y2="171.00" stroke="#b89080" stroke-width="1.0"/>
<line x1="528.60" y1="65.50" x2="528.60" y2="171.00" stroke="#dfbf70" stroke-width="1.0"/>
<line x1="548.40" y1="65.50" x2="548.40" y2="171.00" stroke="#5a3a20" stroke-width="1.0"/>
<line x1="571.60" y1="65.50" x2="571.60" y2="171.00" stroke="#a07050" stroke-width="1.0"/>
<line x1="587.60" y1="65.50" x2="587.60" y2="171.00" stroke="#c09050" stroke-width="1.0"/>
<line x1="599.90" y1="65.50" x2="599.90" y2="171.00" stroke="#d8b070" stroke-width="1.0"/>
<line x1="605.30" y1="65.50" x2="605.30" y2="171.00" stroke="#efdfb6" stroke-width="1.0"/>
<line x1="621.10" y1="65.50" x2="621.10" y2="171.00" stroke="#b08060" stroke-width="1.0"/>
<line x1="629.40" y1="65.50" x2="629.40" y2="171.00" stroke="#e0c080" stroke-width="1.0"/>
<line x1="632.60" y1="65.50" x2="632.60" y2="171.00" stroke="#4a3020" stroke-width="1.0"/>
<line x1="668.30" y1="65.50" x2="668.30" y2="171.00" stroke="#a07858" stroke-width="1.0"/>
<line x1="497.40" y1="150.60" x2="677.50" y2="150.60" stroke="#555" stroke-width="1.1" stroke-dasharray="1,1.2"/>
<line x1="497.40" y1="192.20" x2="676.00" y2="192.20" stroke="#a87048" stroke-width="1.4" stroke-dasharray="6.3,3.3"/>
<line x1="492.80" y1="152.00" x2="492.80" y2="191.80" stroke="#111" stroke-width="2"/>
<line x1="641.90" y1="201.00" x2="678.60" y2="201.00" stroke="#111" stroke-width="2"/>
<text x="660.90" y="214.50" font-family='"Liberation Sans", sans-serif' font-size="12.4" text-anchor="middle" fill="#222" font-weight="normal">200 ms</text>
<text x="485.80" y="170.50" font-family='"Liberation Sans", sans-serif' font-size="12" text-anchor="middle" fill="#222" font-weight="normal" transform="rotate(-90 485.80 170.50)">30 μV</text>
<path d="M498.0,320.1 L498.5,320.1 L499.0,320.0 L499.5,320.6 L500.0,320.8 L500.5,320.9 L501.0,321.4 L501.5,321.0 L502.0,320.3 L502.5,319.8 L503.0,320.2 L503.5,320.8 L504.0,321.1 L504.5,321.0 L505.0,319.7 L505.5,319.3 L506.0,319.3 L506.5,319.5 L507.0,320.2 L507.5,320.7 L508.0,321.8 L508.5,322.4 L509.0,322.4 L509.5,322.5 L510.0,322.4 L510.5,322.4 L511.0,322.9 L511.5,324.3 L512.0,325.9 L512.5,325.3 L513.0,322.9 L513.5,320.8 L514.0,318.8 L514.5,316.4 L515.0,314.0 L515.5,327.5 L516.0,328.4 L516.5,330.0 L517.0,331.3 L517.5,331.7 L518.0,332.4 L518.5,332.9 L519.0,332.8 L519.5,333.0 L520.0,333.3 L520.5,333.1 L521.0,332.7 L521.5,332.9 L522.0,333.9 L522.5,334.4 L523.0,334.4 L523.5,334.3 L524.0,334.7 L524.5,333.6 L525.0,332.5 L525.5,332.3 L526.0,332.1 L526.5,333.0 L527.0,334.2 L527.5,335.9 L528.0,337.2 L528.5,337.6 L529.0,337.6 L529.5,337.7 L530.0,338.4 L530.5,340.1 L531.0,341.0 L531.5,340.9 L532.0,340.2 L532.5,339.4 L533.0,339.0 L533.5,338.8 L534.0,338.9 L534.5,338.5 L535.0,337.9 L535.5,337.2 L536.0,336.5 L536.5,335.3 L537.0,333.4 L537.5,331.4 L538.0,331.0 L538.5,331.4 L539.0,331.8 L539.5,331.4 L540.0,330.6 L540.5,330.4 L541.0,331.1 L541.5,331.6 L542.0,331.6 L542.5,331.5 L543.0,331.7 L543.5,332.2 L544.0,332.9 L544.5,333.5 L545.0,334.3 L545.5,334.9 L546.0,334.7 L546.5,333.8 L547.0,332.9 L547.5,332.5 L548.0,332.3 L548.5,331.9 L549.0,330.6 L549.5,329.8 L550.0,330.1 L550.5,330.3 L551.0,329.4 L551.5,327.8 L552.0,328.0 L552.5,328.8 L553.0,328.7 L553.5,328.5 L554.0,329.1 L554.5,329.8 L555.0,328.7 L555.5,326.8 L556.0,326.9 L556.5,327.2 L557.0,326.1 L557.5,324.6 L558.0,323.6 L558.5,324.2 L559.0,324.3 L559.5,323.9 L560.0,324.5 L560.5,325.4 L561.0,325.8 L561.5,325.5 L562.0,324.9 L562.5,323.7 L563.0,322.7 L563.5,322.2 L564.0,321.8 L564.5,322.3 L565.0,323.4 L565.5,325.3 L566.0,326.0 L566.5,326.1 L567.0,325.3 L567.5,325.5 L568.0,325.4 L568.5,325.9 L569.0,326.8 L569.5,327.9 L570.0,329.5 L570.5,330.4 L571.0,329.7 L571.5,328.2 L572.0,326.9 L572.5,326.6 L573.0,326.5 L573.5,326.6 L574.0,326.8 L574.5,327.2 L575.0,327.5 L575.5,327.5 L576.0,326.9 L576.5,325.8 L577.0,326.0 L577.5,327.2 L578.0,327.5 L578.5,326.9 L579.0,326.4 L579.5,324.9 L580.0,324.5 L580.5,325.1 L581.0,324.7 L581.5,323.8 L582.0,323.8 L582.5,324.2 L583.0,323.3 L583.5,321.2 L584.0,320.1 L584.5,320.2 L585.0,321.4 L585.5,321.9 L586.0,321.2 L586.5,319.3 L587.0,318.4 L587.5,318.1 L588.0,317.8 L588.5,317.6 L589.0,318.3 L589.5,318.7 L590.0,319.4 L590.5,320.2 L591.0,320.4 L591.5,319.3 L592.0,319.2 L592.5,320.3 L593.0,321.8 L593.5,323.3 L594.0,325.1 L594.5,326.9 L595.0,327.6 L595.5,327.2 L596.0,326.7 L596.5,326.9 L597.0,327.6 L597.5,326.2 L598.0,324.4 L598.5,324.5 L599.0,325.1 L599.5,324.8 L600.0,323.8 L600.5,322.7 L601.0,322.4 L601.5,322.2 L602.0,321.8 L602.5,321.7 L603.0,322.2 L603.5,323.4 L604.0,324.7 L604.5,325.7 L605.0,325.9 L605.5,325.1 L606.0,324.8 L606.5,325.9 L607.0,326.6 L607.5,327.1 L608.0,327.6 L608.5,328.0 L609.0,327.8 L609.5,327.3 L610.0,326.5 L610.5,326.3 L611.0,326.9 L611.5,327.4 L612.0,327.7 L612.5,327.2 L613.0,326.3 L613.5,326.2 L614.0,326.1 L614.5,325.6 L615.0,325.7 L615.5,326.5 L616.0,327.1 L616.5,327.1 L617.0,327.6 L617.5,327.5 L618.0,326.3 L618.5,325.8 L619.0,326.3 L619.5,326.4 L620.0,325.0 L620.5,323.2 L621.0,322.4 L621.5,322.4 L622.0,322.5 L622.5,322.8 L623.0,322.5 L623.5,321.9 L624.0,322.2 L624.5,323.0 L625.0,323.3 L625.5,323.1 L626.0,323.2 L626.5,323.9 L627.0,325.0 L627.5,324.8 L628.0,324.2 L628.5,323.6 L629.0,323.0 L629.5,322.1 L630.0,320.7 L630.5,319.8 L631.0,319.7 L631.5,319.7 L632.0,319.2 L632.5,318.8 L633.0,319.1 L633.5,319.8 L634.0,320.5 L634.5,321.1 L635.0,321.8 L635.5,323.0 L636.0,324.4 L636.5,325.0 L637.0,324.6 L637.5,324.3 L638.0,324.9 L638.5,325.2 L639.0,325.1 L639.5,324.9 L640.0,324.3 L640.5,323.1 L641.0,321.8 L641.5,321.2 L642.0,321.5 L642.5,321.5 L643.0,322.0 L643.5,322.6 L644.0,322.4 L644.5,320.9 L645.0,320.2 L645.5,320.9 L646.0,321.5 L646.5,322.2 L647.0,322.7 L647.5,324.3 L648.0,325.9 L648.5,326.2 L649.0,325.6 L649.5,325.3 L650.0,324.8 L650.5,324.5 L651.0,324.7 L651.5,323.8 L652.0,322.2 L652.5,321.1 L653.0,319.9 L653.5,318.6 L654.0,318.4 L654.5,317.9 L655.0,317.8 L655.5,317.7 L656.0,318.0 L656.5,319.9 L657.0,321.0 L657.5,321.9 L658.0,322.6 L658.5,323.7 L659.0,325.2 L659.5,326.1 L660.0,325.5 L660.5,324.8 L661.0,326.2 L661.5,327.2 L662.0,327.6 L662.5,327.4 L663.0,327.9 L663.5,328.7 L664.0,329.7 L664.5,330.0 L665.0,330.3 L665.5,330.8 L666.0,331.4 L666.5,331.7 L667.0,331.1 L667.5,330.5 L668.0,329.8 L668.5,329.5 L669.0,329.6 L669.5,329.2 L670.0,327.7 L670.5,326.6 L671.0,327.5 L671.5,329.3 L672.0,329.8 L672.5,329.6 L673.0,329.9 L673.5,330.1 L674.0,330.3 L674.5,331.0 L675.0,331.8 L675.5,333.3 L676.0,334.6 L676.5,334.5 L677.0,332.6 L677.5,331.1" stroke="#e2d2f2" stroke-width="1.0" fill="none" stroke-linejoin="round" opacity="1.0"/>
<path d="M498.0,329.5 L498.5,329.2 L499.0,329.5 L499.5,329.9 L500.0,330.2 L500.5,330.6 L501.0,330.6 L501.5,329.4 L502.0,328.7 L502.5,328.6 L503.0,328.3 L503.5,328.0 L504.0,327.5 L504.5,326.6 L505.0,324.8 L505.5,323.7 L506.0,323.8 L506.5,325.0 L507.0,325.6 L507.5,325.1 L508.0,324.6 L508.5,324.4 L509.0,324.9 L509.5,326.1 L510.0,326.6 L510.5,326.2 L511.0,325.9 L511.5,326.0 L512.0,326.0 L512.5,325.4 L513.0,325.3 L513.5,325.4 L514.0,325.2 L514.5,325.0 L515.0,325.6 L515.5,326.4 L516.0,327.2 L516.5,328.1 L517.0,328.9 L517.5,329.4 L518.0,330.2 L518.5,331.1 L519.0,330.9 L519.5,330.3 L520.0,329.6 L520.5,329.2 L521.0,328.7 L521.5,327.6 L522.0,327.5 L522.5,328.1 L523.0,327.4 L523.5,326.5 L524.0,327.0 L524.5,327.7 L525.0,328.5 L525.5,328.9 L526.0,328.0 L526.5,326.3 L527.0,326.1 L527.5,326.6 L528.0,326.0 L528.5,325.1 L529.0,325.7 L529.5,326.6 L530.0,326.6 L530.5,326.0 L531.0,326.3 L531.5,327.9 L532.0,328.7 L532.5,328.1 L533.0,327.4 L533.5,326.7 L534.0,325.9 L534.5,325.5 L535.0,325.8 L535.5,325.6 L536.0,325.4 L536.5,325.9 L537.0,327.2 L537.5,327.7 L538.0,326.9 L538.5,326.0 L539.0,326.6 L539.5,328.0 L540.0,329.1 L540.5,329.7 L541.0,330.2 L541.5,330.6 L542.0,330.3 L542.5,330.4 L543.0,330.6 L543.5,330.8 L544.0,330.1 L544.5,329.4 L545.0,329.8 L545.5,330.7 L546.0,331.3 L546.5,331.1 L547.0,330.3 L547.5,330.1 L548.0,329.9 L548.5,329.3 L549.0,329.1 L549.5,330.1 L550.0,330.9 L550.5,330.8 L551.0,330.8 L551.5,331.0 L552.0,330.2 L552.5,328.8 L553.0,328.4 L553.5,329.0 L554.0,330.3 L554.5,331.6 L555.0,332.4 L555.5,332.3 L556.0,332.7 L556.5,332.7 L557.0,332.5 L557.5,332.0 L558.0,331.1 L558.5,330.7 L559.0,330.3 L559.5,330.5 L560.0,331.0 L560.5,331.1 L561.0,330.4 L561.5,329.8 L562.0,329.4 L562.5,329.0 L563.0,328.2 L563.5,327.2 L564.0,326.7 L564.5,326.4 L565.0,326.4 L565.5,326.5 L566.0,325.9 L566.5,324.2 L567.0,323.6 L567.5,324.3 L568.0,325.3 L568.5,325.4 L569.0,326.5 L569.5,327.1 L570.0,327.6 L570.5,328.5 L571.0,328.7 L571.5,328.8 L572.0,329.5 L572.5,330.9 L573.0,332.0 L573.5,331.8 L574.0,330.6 L574.5,330.8 L575.0,332.1 L575.5,332.4 L576.0,332.1 L576.5,331.2 L577.0,329.5 L577.5,328.0 L578.0,328.1 L578.5,328.5 L579.0,328.8 L579.5,328.7 L580.0,328.0 L580.5,325.9 L581.0,324.9 L581.5,325.0 L582.0,325.8 L582.5,326.2 L583.0,326.8 L583.5,327.5 L584.0,327.5 L584.5,327.0 L585.0,326.7 L585.5,326.5 L586.0,326.5 L586.5,326.4 L587.0,326.3 L587.5,325.9 L588.0,326.5 L588.5,327.5 L589.0,328.2 L589.5,327.8 L590.0,327.5 L590.5,328.2 L591.0,329.5 L591.5,330.3 L592.0,330.7 L592.5,330.8 L593.0,331.0 L593.5,330.8 L594.0,329.9 L594.5,329.3 L595.0,328.9 L595.5,328.6 L596.0,327.9 L596.5,327.0 L597.0,326.1 L597.5,325.0 L598.0,324.2 L598.5,325.0 L599.0,325.4 L599.5,324.8 L600.0,324.3 L600.5,324.7 L601.0,325.0 L601.5,324.9 L602.0,324.5 L602.5,324.2 L603.0,325.1 L603.5,326.3 L604.0,326.6 L604.5,327.0 L605.0,328.2 L605.5,329.1 L606.0,330.2 L606.5,331.1 L607.0,331.4 L607.5,331.8 L608.0,331.8 L608.5,331.3 L609.0,330.2 L609.5,329.3 L610.0,328.7 L610.5,328.8 L611.0,328.6 L611.5,327.8 L612.0,327.5 L612.5,328.4 L613.0,329.0 L613.5,328.9 L614.0,328.5 L614.5,328.8 L615.0,330.2 L615.5,331.5 L616.0,331.7 L616.5,331.2 L617.0,330.7 L617.5,330.6 L618.0,330.4 L618.5,330.4 L619.0,330.1 L619.5,328.9 L620.0,327.0 L620.5,326.0 L621.0,324.9 L621.5,323.9 L622.0,323.3 L622.5,322.1 L623.0,321.2 L623.5,321.3 L624.0,322.7 L624.5,324.0 L625.0,323.7 L625.5,323.5 L626.0,323.9 L626.5,323.9 L627.0,324.5 L627.5,325.7 L628.0,327.0 L628.5,327.2 L629.0,325.5 L629.5,324.1 L630.0,324.0 L630.5,322.4 L631.0,319.7 L631.5,317.2 L632.0,315.2 L632.5,313.4 L633.0,320.1 L633.5,321.4 L634.0,322.4 L634.5,322.9 L635.0,324.1 L635.5,325.8 L636.0,326.8 L636.5,327.5 L637.0,327.9 L637.5,327.9 L638.0,328.3 L638.5,329.4 L639.0,329.8 L639.5,329.3 L640.0,329.1 L640.5,329.7 L641.0,330.0 L641.5,329.6 L642.0,329.4 L642.5,328.9 L643.0,329.3 L643.5,330.4 L644.0,331.4 L644.5,331.7 L645.0,331.8 L645.5,332.2 L646.0,331.9 L646.5,331.1 L647.0,329.6 L647.5,328.7 L648.0,328.9 L648.5,329.1 L649.0,327.7 L649.5,325.2 L650.0,323.2 L650.5,323.0 L651.0,323.2 L651.5,322.4 L652.0,321.1 L652.5,319.9 L653.0,320.4 L653.5,320.5 L654.0,319.8 L654.5,318.6 L655.0,318.4 L655.5,318.9 L656.0,318.6 L656.5,318.7 L657.0,319.1 L657.5,319.4 L658.0,319.9 L658.5,320.7 L659.0,321.1 L659.5,321.5 L660.0,322.8 L660.5,324.2 L661.0,325.0 L661.5,325.5 L662.0,325.7 L662.5,325.6 L663.0,325.2 L663.5,324.6 L664.0,324.3 L664.5,324.4 L665.0,325.3 L665.5,326.5 L666.0,326.1 L666.5,324.6 L667.0,324.3 L667.5,324.4 L668.0,324.3 L668.5,324.0 L669.0,323.2 L669.5,322.2 L670.0,322.1 L670.5,322.8 L671.0,323.8 L671.5,324.2 L672.0,324.3 L672.5,324.6 L673.0,325.4 L673.5,326.3 L674.0,327.2 L674.5,327.6 L675.0,326.3 L675.5,324.8 L676.0,324.2 L676.5,324.4 L677.0,324.7 L677.5,324.2" stroke="#c6a6e6" stroke-width="1.0" fill="none" stroke-linejoin="round" opacity="1.0"/>
<path d="M498.0,318.6 L498.5,318.3 L499.0,318.6 L499.5,319.4 L500.0,319.8 L500.5,320.1 L501.0,319.8 L501.5,319.1 L502.0,319.2 L502.5,319.7 L503.0,321.0 L503.5,322.5 L504.0,322.6 L504.5,321.3 L505.0,320.4 L505.5,320.0 L506.0,319.8 L506.5,320.8 L507.0,321.6 L507.5,321.5 L508.0,321.7 L508.5,322.8 L509.0,323.1 L509.5,322.1 L510.0,321.3 L510.5,321.1 L511.0,320.3 L511.5,319.7 L512.0,319.6 L512.5,319.7 L513.0,319.8 L513.5,319.5 L514.0,319.1 L514.5,319.8 L515.0,320.6 L515.5,321.1 L516.0,322.3 L516.5,323.8 L517.0,324.8 L517.5,325.2 L518.0,325.5 L518.5,325.9 L519.0,326.1 L519.5,326.2 L520.0,326.8 L520.5,327.6 L521.0,328.0 L521.5,327.7 L522.0,327.1 L522.5,327.4 L523.0,327.8 L523.5,327.0 L524.0,325.6 L524.5,325.0 L525.0,324.9 L525.5,325.1 L526.0,325.7 L526.5,326.1 L527.0,325.7 L527.5,325.7 L528.0,326.0 L528.5,326.6 L529.0,327.0 L529.5,326.2 L530.0,324.8 L530.5,322.7 L531.0,320.8 L531.5,319.3 L532.0,317.3 L532.5,314.8 L533.0,312.5 L533.5,327.1 L534.0,328.2 L534.5,329.5 L535.0,330.4 L535.5,331.6 L536.0,333.3 L536.5,334.5 L537.0,335.8 L537.5,336.8 L538.0,337.2 L538.5,337.8 L539.0,338.4 L539.5,338.2 L540.0,337.8 L540.5,338.1 L541.0,338.2 L541.5,337.7 L542.0,335.8 L542.5,334.3 L543.0,333.5 L543.5,332.9 L544.0,332.3 L544.5,332.2 L545.0,332.1 L545.5,332.6 L546.0,332.7 L546.5,332.8 L547.0,333.2 L547.5,333.1 L548.0,332.9 L548.5,332.5 L549.0,331.7 L549.5,330.6 L550.0,330.7 L550.5,332.1 L551.0,333.6 L551.5,334.3 L552.0,334.1 L552.5,334.4 L553.0,335.0 L553.5,335.0 L554.0,334.6 L554.5,334.7 L555.0,335.7 L555.5,336.5 L556.0,337.2 L556.5,337.6 L557.0,336.9 L557.5,336.0 L558.0,336.3 L558.5,336.5 L559.0,336.3 L559.5,336.0 L560.0,334.8 L560.5,334.1 L561.0,333.7 L561.5,332.6 L562.0,331.9 L562.5,331.3 L563.0,330.4 L563.5,329.6 L564.0,328.9 L564.5,328.8 L565.0,329.1 L565.5,329.4 L566.0,328.4 L566.5,328.0 L567.0,329.0 L567.5,330.2 L568.0,330.1 L568.5,329.1 L569.0,328.8 L569.5,329.0 L570.0,329.5 L570.5,329.9 L571.0,329.4 L571.5,328.2 L572.0,327.4 L572.5,326.9 L573.0,326.5 L573.5,326.2 L574.0,326.6 L574.5,327.5 L575.0,327.6 L575.5,327.3 L576.0,327.5 L576.5,327.8 L577.0,328.0 L577.5,328.1 L578.0,328.0 L578.5,327.5 L579.0,326.7 L579.5,325.3 L580.0,323.3 L580.5,321.1 L581.0,320.3 L581.5,320.7 L582.0,320.5 L582.5,319.7 L583.0,319.6 L583.5,320.3 L584.0,321.4 L584.5,321.7 L585.0,322.5 L585.5,324.8 L586.0,326.6 L586.5,327.3 L587.0,328.3 L587.5,329.3 L588.0,330.2 L588.5,331.4 L589.0,331.5 L589.5,331.0 L590.0,330.4 L590.5,329.8 L591.0,329.1 L591.5,329.0 L592.0,328.5 L592.5,328.0 L593.0,327.0 L593.5,326.3 L594.0,326.0 L594.5,325.4 L595.0,324.0 L595.5,323.3 L596.0,323.5 L596.5,323.6 L597.0,323.2 L597.5,322.5 L598.0,322.4 L598.5,322.5 L599.0,322.1 L599.5,320.7 L600.0,319.5 L600.5,319.3 L601.0,319.2 L601.5,319.8 L602.0,320.2 L602.5,319.9 L603.0,319.3 L603.5,319.9 L604.0,320.7 L604.5,321.0 L605.0,320.7 L605.5,321.3 L606.0,322.1 L606.5,322.6 L607.0,322.0 L607.5,321.2 L608.0,320.9 L608.5,320.9 L609.0,321.3 L609.5,321.3 L610.0,320.8 L610.5,320.4 L611.0,320.2 L611.5,320.7 L612.0,321.6 L612.5,321.3 L613.0,321.3 L613.5,322.0 L614.0,322.6 L614.5,322.8 L615.0,323.4 L615.5,324.7 L616.0,324.8 L616.5,324.7 L617.0,325.6 L617.5,326.5 L618.0,326.3 L618.5,326.2 L619.0,326.7 L619.5,327.7 L620.0,327.0 L620.5,325.9 L621.0,325.0 L621.5,324.7 L622.0,324.5 L622.5,324.9 L623.0,324.8 L623.5,324.6 L624.0,324.4 L624.5,324.4 L625.0,324.1 L625.5,323.6 L626.0,323.6 L626.5,323.3 L627.0,323.2 L627.5,323.0 L628.0,323.2 L628.5,323.2 L629.0,322.2 L629.5,320.7 L630.0,320.5 L630.5,322.2 L631.0,323.9 L631.5,324.0 L632.0,322.3 L632.5,322.0 L633.0,322.2 L633.5,322.7 L634.0,322.3 L634.5,322.1 L635.0,322.7 L635.5,322.8 L636.0,322.4 L636.5,322.4 L637.0,323.9 L637.5,325.1 L638.0,326.0 L638.5,326.7 L639.0,327.2 L639.5,327.4 L640.0,327.3 L640.5,327.8 L641.0,328.0 L641.5,328.8 L642.0,329.8 L642.5,331.0 L643.0,331.2 L643.5,331.1 L644.0,330.3 L644.5,329.8 L645.0,329.9 L645.5,329.8 L646.0,329.5 L646.5,330.0 L647.0,331.6 L647.5,332.7 L648.0,332.6 L648.5,331.2 L649.0,329.2 L649.5,328.3 L650.0,327.8 L650.5,328.2 L651.0,328.9 L651.5,328.4 L652.0,327.7 L652.5,327.3 L653.0,326.6 L653.5,326.4 L654.0,326.8 L654.5,327.6 L655.0,327.3 L655.5,326.7 L656.0,326.8 L656.5,327.3 L657.0,327.7 L657.5,328.0 L658.0,328.0 L658.5,328.4 L659.0,328.5 L659.5,328.0 L660.0,327.8 L660.5,328.2 L661.0,328.5 L661.5,328.3 L662.0,327.3 L662.5,326.5 L663.0,326.3 L663.5,325.8 L664.0,326.3 L664.5,328.0 L665.0,329.1 L665.5,329.4 L666.0,328.5 L666.5,327.7 L667.0,327.2 L667.5,328.2 L668.0,329.6 L668.5,330.8 L669.0,331.4 L669.5,330.9 L670.0,330.1 L670.5,329.7 L671.0,328.9 L671.5,327.7 L672.0,325.7 L672.5,324.5 L673.0,324.8 L673.5,325.1 L674.0,325.2 L674.5,324.9 L675.0,323.8 L675.5,322.8 L676.0,323.0 L676.5,323.0 L677.0,322.0 L677.5,321.7" stroke="#9a68c8" stroke-width="1.0" fill="none" stroke-linejoin="round" opacity="1.0"/>
<path d="M498.0,332.0 L498.5,331.9 L499.0,331.6 L499.5,331.8 L500.0,332.7 L500.5,331.9 L501.0,332.0 L501.5,333.5 L502.0,335.4 L502.5,336.0 L503.0,336.2 L503.5,336.8 L504.0,336.4 L504.5,336.0 L505.0,336.3 L505.5,337.2 L506.0,338.0 L506.5,338.0 L507.0,338.2 L507.5,338.3 L508.0,338.2 L508.5,337.8 L509.0,333.3 L509.5,328.4 L510.0,323.5 L510.5,319.0 L511.0,315.1 L511.5,335.2 L512.0,335.0 L512.5,334.3 L513.0,334.2 L513.5,335.6 L514.0,337.2 L514.5,337.9 L515.0,337.4 L515.5,336.5 L516.0,336.9 L516.5,337.9 L517.0,338.6 L517.5,338.6 L518.0,338.6 L518.5,338.3 L519.0,338.9 L519.5,338.7 L520.0,338.5 L520.5,339.3 L521.0,340.4 L521.5,340.2 L522.0,339.2 L522.5,338.9 L523.0,339.0 L523.5,338.9 L524.0,339.0 L524.5,338.9 L525.0,337.9 L525.5,336.0 L526.0,335.0 L526.5,334.3 L527.0,334.3 L527.5,334.5 L528.0,334.4 L528.5,333.5 L529.0,332.8 L529.5,332.9 L530.0,332.7 L530.5,331.6 L531.0,331.4 L531.5,332.6 L532.0,333.6 L532.5,333.8 L533.0,333.7 L533.5,333.9 L534.0,334.0 L534.5,333.7 L535.0,332.9 L535.5,332.2 L536.0,332.2 L536.5,333.3 L537.0,333.6 L537.5,333.0 L538.0,331.4 L538.5,330.5 L539.0,331.2 L539.5,331.8 L540.0,331.7 L540.5,331.4 L541.0,331.1 L541.5,329.9 L542.0,329.1 L542.5,328.8 L543.0,328.5 L543.5,328.8 L544.0,328.8 L544.5,329.1 L545.0,329.3 L545.5,329.9 L546.0,330.7 L546.5,331.3 L547.0,331.0 L547.5,330.7 L548.0,330.7 L548.5,330.9 L549.0,331.7 L549.5,332.6 L550.0,333.3 L550.5,332.9 L551.0,332.2 L551.5,331.3 L552.0,331.0 L552.5,331.6 L553.0,331.7 L553.5,330.8 L554.0,330.6 L554.5,330.4 L555.0,330.1 L555.5,329.5 L556.0,329.3 L556.5,329.6 L557.0,329.6 L557.5,329.9 L558.0,330.4 L558.5,330.9 L559.0,331.3 L559.5,331.9 L560.0,332.4 L560.5,331.7 L561.0,330.6 L561.5,330.3 L562.0,331.1 L562.5,331.3 L563.0,331.2 L563.5,330.9 L564.0,330.3 L564.5,329.8 L565.0,330.9 L565.5,332.3 L566.0,332.4 L566.5,331.9 L567.0,332.2 L567.5,332.9 L568.0,332.8 L568.5,332.5 L569.0,333.1 L569.5,333.9 L570.0,334.5 L570.5,333.9 L571.0,334.1 L571.5,334.7 L572.0,335.1 L572.5,335.7 L573.0,336.0 L573.5,336.5 L574.0,337.4 L574.5,337.8 L575.0,338.4 L575.5,338.2 L576.0,337.8 L576.5,338.5 L577.0,338.8 L577.5,338.6 L578.0,338.4 L578.5,337.6 L579.0,336.8 L579.5,335.9 L580.0,334.9 L580.5,334.2 L581.0,333.9 L581.5,333.4 L582.0,333.2 L582.5,332.6 L583.0,332.7 L583.5,333.1 L584.0,333.3 L584.5,333.5 L585.0,333.4 L585.5,334.8 L586.0,336.9 L586.5,337.5 L587.0,336.9 L587.5,336.4 L588.0,335.7 L588.5,335.1 L589.0,335.0 L589.5,334.7 L590.0,334.3 L590.5,333.7 L591.0,332.3 L591.5,330.4 L592.0,329.9 L592.5,329.8 L593.0,329.5 L593.5,329.4 L594.0,329.9 L594.5,331.5 L595.0,333.1 L595.5,333.5 L596.0,334.4 L596.5,335.4 L597.0,336.1 L597.5,335.5 L598.0,335.1 L598.5,334.6 L599.0,333.7 L599.5,333.9 L600.0,334.4 L600.5,334.4 L601.0,333.3 L601.5,332.5 L602.0,331.7 L602.5,330.6 L603.0,331.0 L603.5,332.4 L604.0,332.4 L604.5,331.5 L605.0,330.9 L605.5,330.7 L606.0,331.2 L606.5,331.9 L607.0,332.3 L607.5,332.7 L608.0,333.0 L608.5,331.9 L609.0,330.9 L609.5,331.0 L610.0,331.6 L610.5,331.0 L611.0,329.8 L611.5,328.7 L612.0,327.2 L612.5,326.0 L613.0,325.5 L613.5,324.7 L614.0,325.0 L614.5,325.7 L615.0,326.3 L615.5,325.3 L616.0,324.3 L616.5,324.3 L617.0,324.9 L617.5,324.7 L618.0,324.1 L618.5,324.4 L619.0,326.2 L619.5,327.6 L620.0,328.8 L620.5,328.3 L621.0,327.5 L621.5,327.5 L622.0,329.3 L622.5,330.6 L623.0,330.7 L623.5,331.0 L624.0,331.4 L624.5,331.4 L625.0,331.0 L625.5,330.3 L626.0,330.2 L626.5,330.0 L627.0,329.7 L627.5,329.9 L628.0,329.0 L628.5,328.0 L629.0,327.8 L629.5,327.7 L630.0,328.7 L630.5,330.0 L631.0,330.8 L631.5,331.1 L632.0,331.1 L632.5,331.2 L633.0,331.9 L633.5,333.4 L634.0,334.0 L634.5,333.9 L635.0,333.8 L635.5,333.1 L636.0,331.9 L636.5,331.4 L637.0,332.7 L637.5,334.3 L638.0,334.5 L638.5,333.6 L639.0,332.2 L639.5,331.0 L640.0,330.5 L640.5,330.5 L641.0,330.7 L641.5,330.8 L642.0,330.4 L642.5,330.7 L643.0,332.5 L643.5,333.0 L644.0,331.3 L644.5,330.8 L645.0,331.2 L645.5,330.4 L646.0,330.2 L646.5,331.6 L647.0,332.9 L647.5,331.7 L648.0,330.7 L648.5,330.9 L649.0,330.8 L649.5,330.2 L650.0,330.4 L650.5,330.9 L651.0,331.1 L651.5,330.8 L652.0,331.7 L652.5,333.6 L653.0,334.4 L653.5,334.8 L654.0,335.2 L654.5,335.8 L655.0,335.4 L655.5,335.5 L656.0,336.9 L656.5,337.9 L657.0,338.5 L657.5,338.4 L658.0,338.6 L658.5,339.3 L659.0,340.8 L659.5,341.8 L660.0,341.7 L660.5,341.7 L661.0,342.3 L661.5,342.6 L662.0,343.2 L662.5,343.9 L663.0,343.3 L663.5,341.4 L664.0,340.1 L664.5,340.2 L665.0,340.8 L665.5,340.8 L666.0,339.7 L666.5,339.0 L667.0,338.7 L667.5,338.5 L668.0,338.7 L668.5,338.2 L669.0,336.5 L669.5,334.6 L670.0,333.6 L670.5,333.2 L671.0,333.3 L671.5,332.8 L672.0,332.7 L672.5,331.8 L673.0,330.7 L673.5,330.8 L674.0,331.3 L674.5,330.7 L675.0,329.9 L675.5,329.7 L676.0,329.6 L676.5,329.6 L677.0,330.0 L677.5,329.7" stroke="#6a3a92" stroke-width="1.0" fill="none" stroke-linejoin="round" opacity="1.0"/>
<path d="M498.0,327.4 L498.5,327.8 L499.0,329.7 L499.5,331.7 L500.0,332.6 L500.5,332.8 L501.0,333.0 L501.5,332.7 L502.0,332.4 L502.5,332.0 L503.0,331.4 L503.5,331.0 L504.0,330.6 L504.5,330.6 L505.0,330.3 L505.5,329.8 L506.0,329.8 L506.5,329.2 L507.0,326.0 L507.5,322.6 L508.0,320.2 L508.5,318.1 L509.0,315.5 L509.5,313.0 L510.0,328.3 L510.5,328.9 L511.0,329.7 L511.5,330.1 L512.0,330.4 L512.5,330.8 L513.0,332.8 L513.5,335.3 L514.0,335.8 L514.5,335.8 L515.0,336.8 L515.5,337.7 L516.0,337.4 L516.5,336.0 L517.0,334.0 L517.5,333.2 L518.0,333.9 L518.5,334.7 L519.0,334.6 L519.5,334.3 L520.0,333.7 L520.5,333.6 L521.0,333.2 L521.5,334.5 L522.0,335.9 L522.5,336.9 L523.0,337.3 L523.5,337.4 L524.0,337.2 L524.5,336.8 L525.0,337.5 L525.5,338.2 L526.0,338.0 L526.5,337.3 L527.0,337.0 L527.5,337.4 L528.0,336.8 L528.5,337.3 L529.0,338.4 L529.5,337.8 L530.0,336.3 L530.5,335.9 L531.0,335.8 L531.5,336.0 L532.0,335.9 L532.5,334.8 L533.0,333.2 L533.5,333.2 L534.0,334.3 L534.5,335.1 L535.0,335.8 L535.5,335.7 L536.0,335.7 L536.5,335.5 L537.0,334.8 L537.5,334.3 L538.0,334.9 L538.5,334.5 L539.0,333.5 L539.5,332.8 L540.0,332.2 L540.5,331.4 L541.0,331.0 L541.5,331.3 L542.0,331.3 L542.5,331.2 L543.0,331.1 L543.5,331.7 L544.0,332.1 L544.5,331.9 L545.0,331.5 L545.5,331.0 L546.0,331.0 L546.5,331.7 L547.0,331.9 L547.5,330.4 L548.0,329.6 L548.5,329.6 L549.0,330.0 L549.5,330.2 L550.0,329.7 L550.5,329.2 L551.0,328.3 L551.5,328.2 L552.0,327.7 L552.5,326.8 L553.0,326.4 L553.5,326.2 L554.0,325.6 L554.5,326.0 L555.0,326.2 L555.5,326.2 L556.0,326.5 L556.5,326.5 L557.0,325.8 L557.5,324.8 L558.0,323.4 L558.5,323.3 L559.0,324.1 L559.5,324.5 L560.0,324.4 L560.5,323.5 L561.0,322.3 L561.5,321.5 L562.0,321.7 L562.5,322.8 L563.0,323.9 L563.5,324.6 L564.0,324.3 L564.5,324.5 L565.0,326.3 L565.5,328.1 L566.0,328.2 L566.5,328.1 L567.0,329.1 L567.5,329.1 L568.0,328.7 L568.5,328.9 L569.0,329.5 L569.5,329.1 L570.0,328.1 L570.5,327.1 L571.0,326.7 L571.5,326.3 L572.0,325.1 L572.5,323.5 L573.0,322.8 L573.5,322.7 L574.0,323.0 L574.5,322.9 L575.0,323.5 L575.5,324.3 L576.0,325.1 L576.5,325.2 L577.0,324.6 L577.5,324.4 L578.0,324.8 L578.5,325.6 L579.0,326.7 L579.5,327.0 L580.0,326.7 L580.5,326.9 L581.0,327.0 L581.5,325.8 L582.0,324.5 L582.5,324.4 L583.0,325.0 L583.5,324.2 L584.0,323.9 L584.5,324.1 L585.0,324.0 L585.5,324.2 L586.0,324.6 L586.5,324.6 L587.0,324.3 L587.5,325.0 L588.0,325.3 L588.5,324.6 L589.0,323.8 L589.5,324.5 L590.0,324.9 L590.5,324.9 L591.0,325.5 L591.5,325.8 L592.0,325.3 L592.5,323.9 L593.0,324.2 L593.5,325.5 L594.0,325.7 L594.5,324.7 L595.0,323.8 L595.5,323.6 L596.0,322.9 L596.5,321.8 L597.0,321.9 L597.5,322.4 L598.0,321.8 L598.5,321.4 L599.0,321.8 L599.5,322.5 L600.0,323.1 L600.5,323.6 L601.0,324.2 L601.5,324.1 L602.0,324.0 L602.5,324.5 L603.0,325.8 L603.5,327.4 L604.0,328.0 L604.5,327.3 L605.0,326.4 L605.5,326.5 L606.0,328.0 L606.5,329.2 L607.0,329.1 L607.5,328.6 L608.0,327.9 L608.5,325.4 L609.0,323.9 L609.5,324.2 L610.0,324.9 L610.5,324.3 L611.0,323.6 L611.5,323.3 L612.0,323.4 L612.5,323.6 L613.0,323.3 L613.5,322.9 L614.0,322.9 L614.5,323.1 L615.0,324.3 L615.5,325.0 L616.0,325.7 L616.5,327.3 L617.0,328.9 L617.5,329.9 L618.0,330.4 L618.5,330.8 L619.0,332.0 L619.5,333.2 L620.0,332.6 L620.5,331.1 L621.0,330.3 L621.5,329.3 L622.0,328.8 L622.5,328.8 L623.0,328.8 L623.5,328.0 L624.0,325.7 L624.5,322.7 L625.0,320.3 L625.5,319.1 L626.0,318.7 L626.5,318.8 L627.0,317.5 L627.5,315.3 L628.0,313.7 L628.5,314.4 L629.0,315.7 L629.5,316.6 L630.0,318.3 L630.5,319.7 L631.0,320.1 L631.5,321.2 L632.0,322.9 L632.5,324.5 L633.0,326.2 L633.5,325.9 L634.0,325.5 L634.5,326.2 L635.0,326.7 L635.5,327.2 L636.0,327.8 L636.5,328.2 L637.0,327.0 L637.5,324.6 L638.0,322.4 L638.5,322.5 L639.0,324.1 L639.5,324.3 L640.0,323.9 L640.5,323.2 L641.0,323.3 L641.5,323.8 L642.0,323.5 L642.5,323.5 L643.0,323.4 L643.5,322.9 L644.0,323.2 L644.5,323.9 L645.0,324.0 L645.5,323.5 L646.0,323.3 L646.5,324.1 L647.0,325.4 L647.5,325.9 L648.0,325.0 L648.5,324.2 L649.0,324.6 L649.5,325.1 L650.0,325.5 L650.5,325.0 L651.0,324.9 L651.5,326.0 L652.0,326.3 L652.5,326.5 L653.0,326.0 L653.5,324.9 L654.0,325.0 L654.5,325.8 L655.0,325.7 L655.5,324.7 L656.0,324.5 L656.5,324.2 L657.0,323.4 L657.5,321.6 L658.0,319.6 L658.5,319.3 L659.0,319.5 L659.5,319.1 L660.0,319.0 L660.5,319.0 L661.0,319.4 L661.5,319.8 L662.0,320.2 L662.5,320.2 L663.0,320.0 L663.5,320.8 L664.0,321.7 L664.5,322.2 L665.0,322.8 L665.5,323.6 L666.0,323.5 L666.5,322.8 L667.0,322.8 L667.5,323.6 L668.0,323.6 L668.5,322.9 L669.0,321.7 L669.5,320.0 L670.0,318.8 L670.5,318.6 L671.0,319.5 L671.5,319.6 L672.0,319.8 L672.5,320.1 L673.0,320.7 L673.5,320.4 L674.0,319.2 L674.5,319.1 L675.0,320.0 L675.5,320.9 L676.0,321.3 L676.5,321.5 L677.0,320.9 L677.5,319.6" stroke="#2a1a30" stroke-width="1.0" fill="none" stroke-linejoin="round" opacity="1.0"/>
<line x1="509.70" y1="223.90" x2="509.70" y2="336.00" stroke="#3a2048" stroke-width="1.0"/>
<line x1="511.40" y1="223.90" x2="511.40" y2="336.00" stroke="#6a3a92" stroke-width="1.0"/>
<line x1="515.40" y1="223.90" x2="515.40" y2="336.00" stroke="#dcc0f2" stroke-width="1.0"/>
<line x1="533.10" y1="223.90" x2="533.10" y2="336.00" stroke="#9a62c8" stroke-width="1.0"/>
<line x1="633.00" y1="223.90" x2="633.00" y2="336.00" stroke="#b892e2" stroke-width="1.0"/>
<line x1="498.00" y1="311.50" x2="678.50" y2="311.50" stroke="#555" stroke-width="1.1" stroke-dasharray="1,1.2"/>
<line x1="498.00" y1="352.10" x2="677.00" y2="352.10" stroke="#a878d8" stroke-width="1.5" stroke-dasharray="6.2,3.5"/>
<line x1="490.70" y1="310.00" x2="490.70" y2="351.70" stroke="#111" stroke-width="2"/>
<line x1="641.90" y1="355.00" x2="678.80" y2="355.00" stroke="#111" stroke-width="2"/>
<text x="660.90" y="368.90" font-family='"Liberation Sans", sans-serif' font-size="12.4" text-anchor="middle" fill="#222" font-weight="normal">200 ms</text>
<text x="485.50" y="330.80" font-family='"Liberation Sans", sans-serif' font-size="12" text-anchor="middle" fill="#222" font-weight="normal" transform="rotate(-90 485.50 330.80)">30 μV</text>
<text x="484.00" y="388.40" font-family='"Liberation Sans", sans-serif' font-size="14" text-anchor="start" fill="#111" font-weight="bold">g</text>
<path d="M523.1,414.2 L532.1,411.5 L532.7,406.9 L533.3,404.0" stroke="#111" stroke-width="1.1" fill="none"/>
<rect x="533.20" y="391.20" width="5.20" height="15.20" rx="0" fill="#1a1a1a" stroke="none" stroke-width="1"/>
<line x1="533.60" y1="391.20" x2="533.60" y2="407.00" stroke="#111" stroke-width="0.8"/>
<line x1="535.00" y1="391.20" x2="535.00" y2="407.00" stroke="#111" stroke-width="0.8"/>
<line x1="536.40" y1="391.20" x2="536.40" y2="407.00" stroke="#111" stroke-width="0.8"/>
<line x1="537.80" y1="391.20" x2="537.80" y2="407.00" stroke="#111" stroke-width="0.8"/>
<path d="M538.2,406.5 L541.3,405.0 L546.5,407.6 L553.1,410.5 L565.6,410.5 L566.2,406.3" stroke="#111" stroke-width="1.1" fill="none"/>
<rect x="566.20" y="391.20" width="4.60" height="15.00" rx="0" fill="#1a1a1a" stroke="none" stroke-width="1"/>
<line x1="572.20" y1="391.20" x2="572.20" y2="406.50" stroke="#111" stroke-width="1.2"/>
<path d="M570.8,405.5 L575.4,405.6 L583.3,409.2 L588.6,410.5 L599.7,410.5" stroke="#111" stroke-width="1.1" fill="none"/>
<path d="M496.1,553.8 L496.6,554.0 L497.1,554.1 L497.6,553.6 L498.1,553.3 L498.6,553.2 L499.1,553.1 L499.6,552.5 L500.1,552.0 L500.6,551.0 L501.1,550.1 L501.6,549.3 L502.1,548.8 L502.6,548.5 L503.1,548.1 L503.6,548.2 L504.1,548.9 L504.6,549.8 L505.1,550.5 L505.6,550.9 L506.1,551.2 L506.6,550.9 L507.1,551.0 L507.6,551.8 L508.1,552.9 L508.6,554.1 L509.1,554.2 L509.6,553.9 L510.1,554.3 L510.6,554.1 L511.1,553.5 L511.6,553.1 L512.1,553.0 L512.6,552.4 L513.1,551.8 L513.6,551.5 L514.1,551.7 L514.6,552.2 L515.1,552.7 L515.6,553.1 L516.1,553.3 L516.6,553.6 L517.1,553.9 L517.6,553.9 L518.1,553.9 L518.6,553.4 L519.1,553.3 L519.6,553.3 L520.1,552.9 L520.6,552.3 L521.1,551.9 L521.6,552.1 L522.1,552.9 L522.6,553.0 L523.1,552.5 L523.6,552.5 L524.1,553.2 L524.6,554.0 L525.1,554.4 L525.6,555.0 L526.1,555.8 L526.6,556.4 L527.1,555.9 L527.6,555.4 L528.1,555.2 L528.6,554.7 L529.1,554.6 L529.6,554.6 L530.1,554.5 L530.6,554.4 L531.1,554.7 L531.6,554.3 L532.1,554.0 L532.6,553.7 L533.1,553.2 L533.6,552.6 L534.1,552.7 L534.6,553.4 L535.1,553.1 L535.6,553.4 L536.1,554.2 L536.6,554.8 L537.1,555.1 L537.6,554.7 L538.1,554.2 L538.6,548.2 L539.1,540.9 L539.6,533.5 L540.1,526.3 L540.6,518.5 L541.1,516.6 L541.6,516.4 L542.1,516.6 L542.6,516.2 L543.1,515.8 L543.6,516.6 L544.1,517.8 L544.6,519.3 L545.1,521.0 L545.6,523.2 L546.1,524.8 L546.6,526.0 L547.1,527.3 L547.6,527.9 L548.1,528.6 L548.6,529.0 L549.1,529.9 L549.6,531.0 L550.1,531.6 L550.6,532.0 L551.1,531.7 L551.6,531.8 L552.1,533.1 L552.6,534.2 L553.1,534.9 L553.6,534.9 L554.1,534.5 L554.6,534.7 L555.1,535.8 L555.6,537.3 L556.1,538.3 L556.6,539.3 L557.1,539.9 L557.6,540.3 L558.1,541.1 L558.6,542.3 L559.1,543.1 L559.6,544.1 L560.1,544.6 L560.6,544.6 L561.1,544.2 L561.6,544.3 L562.1,544.9 L562.6,545.6 L563.1,546.1 L563.6,546.6 L564.1,547.2 L564.6,547.6 L565.1,547.8 L565.6,549.1 L566.1,551.7 L566.6,553.4 L567.1,554.1 L567.6,554.4 L568.1,555.6 L568.6,556.7 L569.1,556.9 L569.6,557.8 L570.1,558.9 L570.6,559.4 L571.1,555.0 L571.6,547.8 L572.1,540.2 L572.6,532.0 L573.1,524.2 L573.6,521.6 L574.1,521.7 L574.6,521.5 L575.1,521.1 L575.6,520.6 L576.1,520.8 L576.6,521.6 L577.1,522.1 L577.6,521.6 L578.1,520.4 L578.6,519.9 L579.1,520.9 L579.6,522.3 L580.1,523.5 L580.6,524.0 L581.1,524.1 L581.6,524.7 L582.1,525.5 L582.6,526.1 L583.1,526.5 L583.6,527.0 L584.1,527.8 L584.6,528.4 L585.1,528.8 L585.6,529.5 L586.1,530.2 L586.6,530.5 L587.1,530.9 L587.6,532.3 L588.1,533.5 L588.6,534.5 L589.1,535.4 L589.6,536.1 L590.1,537.0 L590.6,537.7 L591.1,538.2 L591.6,539.2 L592.1,540.7 L592.6,541.2 L593.1,542.0 L593.6,543.4 L594.1,544.4 L594.6,545.2 L595.1,545.9 L595.6,546.8 L596.1,547.3 L596.6,547.7 L597.1,547.6 L597.6,547.3 L598.1,547.7 L598.6,548.1 L599.1,548.9 L599.6,549.1 L600.1,548.7 L600.6,548.8 L601.1,549.2 L601.6,549.6 L602.1,550.1 L602.6,549.8 L603.1,549.5 L603.6,549.4 L604.1,549.6 L604.6,549.6 L605.1,550.0 L605.6,551.0 L606.1,551.9 L606.6,552.7 L607.1,553.6 L607.6,554.6 L608.1,555.1 L608.6,554.8 L609.1,554.3 L609.6,554.2 L610.1,554.4 L610.6,554.9 L611.1,555.2 L611.6,555.4 L612.1,555.8 L612.6,555.9 L613.1,555.9 L613.6,556.6 L614.1,557.3 L614.6,557.9 L615.1,558.3 L615.6,559.2 L616.1,559.8 L616.6,559.8 L617.1,559.7 L617.6,559.9 L618.1,560.3 L618.6,560.5 L619.1,560.0 L619.6,559.4 L620.1,558.9 L620.6,559.0 L621.1,558.8 L621.6,558.0 L622.1,557.1 L622.6,556.1 L623.1,555.9 L623.6,555.9 L624.1,555.5 L624.6,554.5 L625.1,553.6 L625.6,553.9 L626.1,554.7 L626.6,555.3 L627.1,555.9 L627.6,556.4 L628.1,556.7 L628.6,556.7 L629.1,556.4 L629.6,556.2 L630.1,556.5 L630.6,556.8 L631.1,556.8 L631.6,556.9 L632.1,556.9 L632.6,556.7 L633.1,556.2 L633.6,556.0 L634.1,555.7 L634.6,555.2 L635.1,554.6 L635.6,553.5 L636.1,553.1 L636.6,552.6 L637.1,552.7 L637.6,553.1 L638.1,553.0 L638.6,552.8 L639.1,553.0 L639.6,552.9 L640.1,552.5 L640.6,552.2 L641.1,551.9 L641.6,552.0 L642.1,552.4 L642.6,552.4 L643.1,552.5 L643.6,552.5 L644.1,552.1 L644.6,551.8 L645.1,551.6 L645.6,551.3 L646.1,551.6 L646.6,544.8 L647.1,538.1 L647.6,531.1 L648.1,524.1 L648.6,517.4 L649.1,517.4 L649.6,517.2 L650.1,516.8 L650.6,516.9 L651.1,516.8 L651.6,516.9 L652.1,516.4 L652.6,515.2 L653.1,514.0 L653.6,513.4 L654.1,513.9 L654.6,515.0 L655.1,515.9 L655.6,516.8 L656.1,517.9 L656.6,519.1 L657.1,520.4 L657.6,521.5 L658.1,522.2 L658.6,522.9 L659.1,523.3 L659.6,524.0 L660.1,524.5 L660.6,524.8 L661.1,524.8 L661.6,525.2 L662.1,525.8 L662.6,526.6 L663.1,527.6 L663.6,527.7 L664.1,527.9 L664.6,528.5 L665.1,529.2 L665.6,530.1 L666.1,531.7 L666.6,533.0 L667.1,534.0 L667.6,535.0 L668.1,536.0 L668.6,537.5 L669.1,538.6 L669.6,539.5 L670.1,539.9 L670.6,540.3 L671.1,540.8 L671.6,541.2 L672.1,542.0 L672.6,542.6 L673.1,543.0 L673.6,543.5 L674.1,544.3 L674.6,544.9 L675.1,545.6 L675.6,546.8 L676.1,548.3 L676.6,549.1 L677.1,549.9 L677.6,551.5" stroke="#eedcae" stroke-width="1.0" fill="none" stroke-linejoin="round" opacity="1.0"/>
<path d="M496.1,553.5 L496.6,553.7 L497.1,553.6 L497.6,554.1 L498.1,554.4 L498.6,554.7 L499.1,555.5 L499.6,556.2 L500.1,553.2 L500.6,545.9 L501.1,539.1 L501.6,532.1 L502.1,524.5 L502.6,520.0 L503.1,519.5 L503.6,518.8 L504.1,517.9 L504.6,516.7 L505.1,516.5 L505.6,517.8 L506.1,519.2 L506.6,520.6 L507.1,521.6 L507.6,522.1 L508.1,522.8 L508.6,523.7 L509.1,524.6 L509.6,526.1 L510.1,527.4 L510.6,528.3 L511.1,529.1 L511.6,530.1 L512.1,530.8 L512.6,531.4 L513.1,532.0 L513.6,533.3 L514.1,534.6 L514.6,535.7 L515.1,536.3 L515.6,537.2 L516.1,538.8 L516.6,539.5 L517.1,539.4 L517.6,539.7 L518.1,540.7 L518.6,541.6 L519.1,542.1 L519.6,542.7 L520.1,543.1 L520.6,543.1 L521.1,543.6 L521.6,544.5 L522.1,545.0 L522.6,545.8 L523.1,546.8 L523.6,547.0 L524.1,547.2 L524.6,547.8 L525.1,548.6 L525.6,549.6 L526.1,550.4 L526.6,551.0 L527.1,551.9 L527.6,552.8 L528.1,553.6 L528.6,554.3 L529.1,554.6 L529.6,554.5 L530.1,554.5 L530.6,554.4 L531.1,554.3 L531.6,554.0 L532.1,553.7 L532.6,552.9 L533.1,546.1 L533.6,538.0 L534.1,530.4 L534.6,522.8 L535.1,517.6 L535.6,518.2 L536.1,518.0 L536.6,516.8 L537.1,516.0 L537.6,516.0 L538.1,516.5 L538.6,516.3 L539.1,516.2 L539.6,516.3 L540.1,516.2 L540.6,516.6 L541.1,517.4 L541.6,518.2 L542.1,519.6 L542.6,520.7 L543.1,522.4 L543.6,523.8 L544.1,524.9 L544.6,526.0 L545.1,526.9 L545.6,528.0 L546.1,528.8 L546.6,529.5 L547.1,530.7 L547.6,531.7 L548.1,532.5 L548.6,532.6 L549.1,533.4 L549.6,534.2 L550.1,535.0 L550.6,535.6 L551.1,536.5 L551.6,537.6 L552.1,538.3 L552.6,538.8 L553.1,539.4 L553.6,539.4 L554.1,539.6 L554.6,540.8 L555.1,542.5 L555.6,543.8 L556.1,544.4 L556.6,544.6 L557.1,545.0 L557.6,546.2 L558.1,547.0 L558.6,547.8 L559.1,548.9 L559.6,549.7 L560.1,550.6 L560.6,551.2 L561.1,551.8 L561.6,552.6 L562.1,552.8 L562.6,552.8 L563.1,552.8 L563.6,553.2 L564.1,553.2 L564.6,553.1 L565.1,553.1 L565.6,552.6 L566.1,551.6 L566.6,551.0 L567.1,551.7 L567.6,552.5 L568.1,553.1 L568.6,554.0 L569.1,555.2 L569.6,556.5 L570.1,557.2 L570.6,557.1 L571.1,556.4 L571.6,556.1 L572.1,556.1 L572.6,556.5 L573.1,556.5 L573.6,556.3 L574.1,555.9 L574.6,556.0 L575.1,556.5 L575.6,557.4 L576.1,558.0 L576.6,557.3 L577.1,556.5 L577.6,555.6 L578.1,555.5 L578.6,555.5 L579.1,554.9 L579.6,554.5 L580.1,554.5 L580.6,554.5 L581.1,554.3 L581.6,554.2 L582.1,554.3 L582.6,555.2 L583.1,556.0 L583.6,556.2 L584.1,557.1 L584.6,558.3 L585.1,558.8 L585.6,558.6 L586.1,558.4 L586.6,558.6 L587.1,558.5 L587.6,558.9 L588.1,559.6 L588.6,559.7 L589.1,558.7 L589.6,558.1 L590.1,557.9 L590.6,557.7 L591.1,557.9 L591.6,558.6 L592.1,558.2 L592.6,557.5 L593.1,557.7 L593.6,558.7 L594.1,558.9 L594.6,558.2 L595.1,558.3 L595.6,558.5 L596.1,558.1 L596.6,558.3 L597.1,558.7 L597.6,558.7 L598.1,558.2 L598.6,558.0 L599.1,558.2 L599.6,558.4 L600.1,557.9 L600.6,557.7 L601.1,558.2 L601.6,559.0 L602.1,558.8 L602.6,558.4 L603.1,558.7 L603.6,558.7 L604.1,558.4 L604.6,557.8 L605.1,558.1 L605.6,558.6 L606.1,558.7 L606.6,558.5 L607.1,558.5 L607.6,558.1 L608.1,557.9 L608.6,558.4 L609.1,558.5 L609.6,558.6 L610.1,554.4 L610.6,547.5 L611.1,540.5 L611.6,533.0 L612.1,525.0 L612.6,520.9 L613.1,520.6 L613.6,521.0 L614.1,521.4 L614.6,521.5 L615.1,521.2 L615.6,520.2 L616.1,519.4 L616.6,519.1 L617.1,519.5 L617.6,521.2 L618.1,522.9 L618.6,523.8 L619.1,524.4 L619.6,525.7 L620.1,527.6 L620.6,528.9 L621.1,529.3 L621.6,529.7 L622.1,531.3 L622.6,533.4 L623.1,535.5 L623.6,537.3 L624.1,538.2 L624.6,538.7 L625.1,539.0 L625.6,539.4 L626.1,540.4 L626.6,541.4 L627.1,542.3 L627.6,543.2 L628.1,544.1 L628.6,544.3 L629.1,544.4 L629.6,545.5 L630.1,546.9 L630.6,548.2 L631.1,548.8 L631.6,549.4 L632.1,550.3 L632.6,551.5 L633.1,552.4 L633.6,553.1 L634.1,553.8 L634.6,554.7 L635.1,555.2 L635.6,555.4 L636.1,555.9 L636.6,556.3 L637.1,556.9 L637.6,556.5 L638.1,555.7 L638.6,555.6 L639.1,556.2 L639.6,556.0 L640.1,555.1 L640.6,554.6 L641.1,554.7 L641.6,555.1 L642.1,555.2 L642.6,555.2 L643.1,555.7 L643.6,555.7 L644.1,555.8 L644.6,556.6 L645.1,557.4 L645.6,558.0 L646.1,558.3 L646.6,558.6 L647.1,558.9 L647.6,559.3 L648.1,559.6 L648.6,559.7 L649.1,559.7 L649.6,560.3 L650.1,561.1 L650.6,561.3 L651.1,561.0 L651.6,560.5 L652.1,560.5 L652.6,559.8 L653.1,558.2 L653.6,557.3 L654.1,556.9 L654.6,556.5 L655.1,555.7 L655.6,554.8 L656.1,554.8 L656.6,554.6 L657.1,554.4 L657.6,554.7 L658.1,555.1 L658.6,555.2 L659.1,555.3 L659.6,555.2 L660.1,555.6 L660.6,555.4 L661.1,554.8 L661.6,554.2 L662.1,554.6 L662.6,555.2 L663.1,555.5 L663.6,555.6 L664.1,555.3 L664.6,554.9 L665.1,554.4 L665.6,554.0 L666.1,553.5 L666.6,552.7 L667.1,551.9 L667.6,552.2 L668.1,552.9 L668.6,552.8 L669.1,552.4 L669.6,552.0 L670.1,552.4 L670.6,552.8 L671.1,553.0 L671.6,553.0 L672.1,553.5 L672.6,553.3 L673.1,553.4 L673.6,553.6 L674.1,551.8 L674.6,544.6 L675.1,537.2 L675.6,530.1 L676.1,523.3 L676.6,518.2 L677.1,518.8 L677.6,519.3" stroke="#dcbf82" stroke-width="1.0" fill="none" stroke-linejoin="round" opacity="1.0"/>
<path d="M496.1,557.8 L496.6,557.1 L497.1,556.5 L497.6,556.2 L498.1,556.5 L498.6,556.8 L499.1,556.6 L499.6,556.3 L500.1,556.1 L500.6,556.4 L501.1,555.1 L501.6,548.2 L502.1,541.1 L502.6,533.5 L503.1,525.0 L503.6,518.4 L504.1,519.3 L504.6,520.5 L505.1,520.8 L505.6,520.5 L506.1,520.2 L506.6,519.8 L507.1,519.0 L507.6,518.5 L508.1,519.9 L508.6,522.4 L509.1,524.5 L509.6,525.7 L510.1,526.4 L510.6,527.4 L511.1,529.0 L511.6,530.0 L512.1,530.9 L512.6,531.7 L513.1,532.3 L513.6,532.9 L514.1,533.6 L514.6,534.5 L515.1,536.0 L515.6,537.2 L516.1,538.2 L516.6,538.8 L517.1,539.9 L517.6,540.8 L518.1,541.3 L518.6,542.0 L519.1,542.6 L519.6,543.7 L520.1,545.5 L520.6,546.7 L521.1,547.8 L521.6,548.3 L522.1,548.5 L522.6,548.9 L523.1,549.6 L523.6,550.4 L524.1,550.8 L524.6,551.1 L525.1,551.7 L525.6,552.2 L526.1,552.8 L526.6,553.2 L527.1,554.0 L527.6,554.5 L528.1,554.8 L528.6,555.5 L529.1,556.3 L529.6,556.8 L530.1,557.0 L530.6,557.4 L531.1,557.8 L531.6,558.7 L532.1,559.2 L532.6,558.9 L533.1,558.0 L533.6,558.0 L534.1,558.8 L534.6,559.5 L535.1,559.5 L535.6,559.4 L536.1,560.2 L536.6,560.6 L537.1,560.6 L537.6,560.9 L538.1,561.2 L538.6,560.7 L539.1,559.9 L539.6,559.9 L540.1,560.3 L540.6,560.8 L541.1,560.7 L541.6,560.4 L542.1,560.3 L542.6,560.6 L543.1,559.7 L543.6,558.5 L544.1,557.8 L544.6,557.1 L545.1,557.0 L545.6,556.7 L546.1,556.0 L546.6,555.4 L547.1,554.6 L547.6,553.9 L548.1,553.1 L548.6,552.6 L549.1,552.5 L549.6,552.8 L550.1,552.9 L550.6,552.6 L551.1,552.4 L551.6,552.6 L552.1,553.2 L552.6,553.7 L553.1,553.9 L553.6,553.9 L554.1,554.3 L554.6,554.9 L555.1,555.0 L555.6,555.0 L556.1,554.7 L556.6,554.4 L557.1,553.9 L557.6,553.5 L558.1,553.0 L558.6,552.7 L559.1,552.0 L559.6,551.4 L560.1,551.5 L560.6,552.4 L561.1,552.6 L561.6,552.4 L562.1,551.2 L562.6,550.4 L563.1,550.5 L563.6,550.7 L564.1,550.7 L564.6,550.6 L565.1,550.7 L565.6,551.1 L566.1,551.8 L566.6,552.0 L567.1,551.7 L567.6,552.2 L568.1,553.0 L568.6,553.5 L569.1,553.3 L569.6,547.0 L570.1,539.5 L570.6,532.0 L571.1,525.0 L571.6,518.5 L572.1,517.4 L572.6,517.5 L573.1,517.9 L573.6,519.0 L574.1,519.9 L574.6,521.1 L575.1,522.0 L575.6,522.8 L576.1,524.4 L576.6,526.3 L577.1,527.4 L577.6,527.9 L578.1,528.1 L578.6,528.7 L579.1,529.7 L579.6,530.9 L580.1,531.4 L580.6,531.6 L581.1,532.0 L581.6,532.6 L582.1,532.9 L582.6,533.3 L583.1,534.6 L583.6,536.8 L584.1,538.6 L584.6,539.9 L585.1,541.3 L585.6,542.8 L586.1,543.9 L586.6,544.9 L587.1,545.6 L587.6,546.5 L588.1,547.5 L588.6,548.8 L589.1,550.0 L589.6,550.7 L590.1,551.1 L590.6,552.1 L591.1,553.3 L591.6,554.6 L592.1,555.2 L592.6,555.4 L593.1,555.7 L593.6,555.9 L594.1,557.1 L594.6,558.4 L595.1,558.9 L595.6,559.3 L596.1,560.0 L596.6,560.6 L597.1,560.9 L597.6,560.8 L598.1,561.4 L598.6,562.2 L599.1,562.9 L599.6,563.2 L600.1,563.3 L600.6,563.4 L601.1,563.7 L601.6,563.6 L602.1,563.2 L602.6,563.1 L603.1,563.5 L603.6,563.6 L604.1,563.5 L604.6,562.8 L605.1,562.2 L605.6,561.7 L606.1,561.7 L606.6,561.9 L607.1,562.1 L607.6,554.4 L608.1,546.8 L608.6,539.3 L609.1,531.4 L609.6,523.2 L610.1,523.0 L610.6,523.5 L611.1,523.9 L611.6,524.2 L612.1,523.8 L612.6,522.3 L613.1,521.0 L613.6,520.5 L614.1,520.7 L614.6,521.3 L615.1,521.8 L615.6,523.0 L616.1,523.7 L616.6,524.2 L617.1,525.3 L617.6,526.4 L618.1,527.2 L618.6,528.3 L619.1,529.9 L619.6,531.1 L620.1,531.9 L620.6,532.5 L621.1,533.4 L621.6,534.5 L622.1,536.1 L622.6,536.9 L623.1,537.2 L623.6,537.7 L624.1,538.2 L624.6,539.0 L625.1,540.1 L625.6,541.2 L626.1,542.2 L626.6,543.3 L627.1,544.1 L627.6,544.5 L628.1,544.5 L628.6,545.2 L629.1,545.6 L629.6,546.1 L630.1,546.9 L630.6,547.8 L631.1,548.5 L631.6,548.7 L632.1,548.4 L632.6,548.3 L633.1,548.6 L633.6,549.1 L634.1,549.7 L634.6,550.2 L635.1,551.1 L635.6,552.3 L636.1,552.7 L636.6,552.7 L637.1,553.2 L637.6,554.1 L638.1,554.7 L638.6,554.9 L639.1,554.9 L639.6,555.0 L640.1,555.5 L640.6,555.7 L641.1,555.1 L641.6,555.4 L642.1,555.9 L642.6,555.4 L643.1,554.8 L643.6,554.2 L644.1,553.9 L644.6,554.4 L645.1,555.1 L645.6,555.5 L646.1,555.6 L646.6,555.7 L647.1,555.5 L647.6,555.3 L648.1,555.3 L648.6,555.5 L649.1,555.1 L649.6,554.4 L650.1,554.1 L650.6,554.7 L651.1,555.3 L651.6,555.5 L652.1,554.8 L652.6,554.2 L653.1,553.3 L653.6,552.6 L654.1,552.2 L654.6,551.8 L655.1,551.8 L655.6,551.8 L656.1,552.0 L656.6,552.9 L657.1,553.2 L657.6,553.2 L658.1,553.2 L658.6,553.1 L659.1,552.2 L659.6,551.4 L660.1,551.5 L660.6,551.9 L661.1,551.7 L661.6,551.6 L662.1,552.1 L662.6,552.6 L663.1,552.8 L663.6,552.9 L664.1,552.3 L664.6,552.2 L665.1,552.3 L665.6,552.6 L666.1,553.4 L666.6,554.3 L667.1,554.7 L667.6,554.8 L668.1,555.3 L668.6,555.7 L669.1,556.0 L669.6,556.4 L670.1,556.9 L670.6,557.3 L671.1,557.3 L671.6,557.3 L672.1,557.6 L672.6,557.4 L673.1,557.5 L673.6,558.0 L674.1,558.3 L674.6,558.0 L675.1,557.3 L675.6,557.5 L676.1,558.0 L676.6,557.9 L677.1,557.5 L677.6,557.4" stroke="#c2823e" stroke-width="1.0" fill="none" stroke-linejoin="round" opacity="1.0"/>
<path d="M496.1,559.1 L496.6,558.4 L497.1,558.3 L497.6,559.1 L498.1,559.5 L498.6,559.3 L499.1,559.5 L499.6,559.8 L500.1,560.1 L500.6,560.9 L501.1,561.8 L501.6,562.0 L502.1,561.8 L502.6,561.3 L503.1,561.7 L503.6,562.3 L504.1,563.0 L504.6,563.1 L505.1,562.8 L505.6,562.9 L506.1,563.0 L506.6,562.3 L507.1,561.4 L507.6,561.3 L508.1,561.7 L508.6,562.5 L509.1,563.0 L509.6,562.9 L510.1,562.6 L510.6,561.8 L511.1,561.0 L511.6,561.1 L512.1,561.5 L512.6,561.3 L513.1,561.0 L513.6,560.6 L514.1,560.4 L514.6,560.6 L515.1,560.6 L515.6,559.7 L516.1,558.6 L516.6,558.5 L517.1,558.9 L517.6,558.2 L518.1,557.4 L518.6,557.5 L519.1,557.8 L519.6,557.7 L520.1,557.8 L520.6,557.4 L521.1,556.8 L521.6,556.7 L522.1,556.8 L522.6,557.3 L523.1,557.8 L523.6,557.5 L524.1,557.1 L524.6,557.4 L525.1,557.8 L525.6,557.6 L526.1,557.0 L526.6,557.4 L527.1,558.6 L527.6,559.3 L528.1,559.5 L528.6,559.7 L529.1,559.7 L529.6,559.8 L530.1,560.2 L530.6,560.6 L531.1,560.6 L531.6,560.1 L532.1,559.9 L532.6,560.0 L533.1,559.9 L533.6,560.2 L534.1,560.7 L534.6,561.0 L535.1,561.2 L535.6,561.1 L536.1,560.5 L536.6,559.7 L537.1,559.1 L537.6,559.0 L538.1,559.1 L538.6,558.1 L539.1,556.8 L539.6,556.1 L540.1,555.9 L540.6,555.5 L541.1,555.3 L541.6,555.2 L542.1,555.1 L542.6,554.7 L543.1,554.8 L543.6,555.3 L544.1,555.8 L544.6,556.2 L545.1,555.9 L545.6,555.7 L546.1,555.6 L546.6,555.2 L547.1,555.1 L547.6,554.8 L548.1,554.2 L548.6,553.8 L549.1,554.5 L549.6,555.3 L550.1,555.6 L550.6,555.5 L551.1,555.3 L551.6,554.8 L552.1,554.5 L552.6,554.8 L553.1,555.8 L553.6,556.6 L554.1,556.6 L554.6,556.3 L555.1,556.2 L555.6,557.1 L556.1,558.4 L556.6,559.3 L557.1,559.5 L557.6,559.5 L558.1,559.5 L558.6,559.9 L559.1,560.0 L559.6,560.0 L560.1,560.1 L560.6,559.7 L561.1,558.8 L561.6,558.2 L562.1,558.1 L562.6,558.0 L563.1,557.9 L563.6,558.1 L564.1,558.1 L564.6,557.0 L565.1,547.6 L565.6,539.6 L566.1,532.7 L566.6,525.4 L567.1,517.0 L567.6,516.3 L568.1,515.8 L568.6,515.5 L569.1,515.6 L569.6,515.7 L570.1,516.0 L570.6,516.1 L571.1,515.7 L571.6,515.4 L572.1,514.7 L572.6,516.0 L573.1,518.4 L573.6,520.3 L574.1,521.1 L574.6,522.1 L575.1,523.6 L575.6,524.7 L576.1,526.2 L576.6,528.1 L577.1,530.1 L577.6,531.7 L578.1,533.0 L578.6,533.6 L579.1,534.0 L579.6,535.2 L580.1,537.3 L580.6,538.2 L581.1,538.5 L581.6,539.6 L582.1,540.9 L582.6,542.0 L583.1,543.4 L583.6,544.0 L584.1,544.8 L584.6,546.1 L585.1,546.6 L585.6,547.0 L586.1,548.2 L586.6,549.3 L587.1,549.7 L587.6,549.4 L588.1,549.7 L588.6,550.5 L589.1,550.7 L589.6,550.6 L590.1,551.6 L590.6,552.9 L591.1,553.9 L591.6,554.7 L592.1,554.7 L592.6,554.4 L593.1,554.1 L593.6,554.5 L594.1,555.3 L594.6,556.0 L595.1,556.1 L595.6,555.8 L596.1,555.1 L596.6,555.1 L597.1,555.4 L597.6,555.4 L598.1,555.6 L598.6,556.0 L599.1,556.6 L599.6,557.1 L600.1,557.5 L600.6,557.9 L601.1,558.9 L601.6,559.6 L602.1,560.1 L602.6,559.5 L603.1,559.2 L603.6,559.0 L604.1,558.7 L604.6,558.5 L605.1,558.4 L605.6,558.1 L606.1,557.4 L606.6,556.8 L607.1,556.4 L607.6,556.1 L608.1,556.1 L608.6,556.4 L609.1,556.3 L609.6,555.7 L610.1,555.2 L610.6,555.3 L611.1,555.7 L611.6,556.2 L612.1,556.1 L612.6,555.6 L613.1,555.8 L613.6,556.0 L614.1,556.4 L614.6,556.2 L615.1,555.9 L615.6,556.1 L616.1,555.9 L616.6,555.4 L617.1,555.3 L617.6,555.3 L618.1,555.1 L618.6,555.7 L619.1,556.3 L619.6,556.3 L620.1,556.3 L620.6,556.6 L621.1,556.9 L621.6,556.1 L622.1,555.1 L622.6,555.4 L623.1,556.2 L623.6,556.4 L624.1,556.5 L624.6,555.8 L625.1,555.1 L625.6,555.4 L626.1,555.7 L626.6,555.1 L627.1,554.4 L627.6,553.9 L628.1,553.9 L628.6,548.3 L629.1,541.1 L629.6,533.8 L630.1,526.8 L630.6,519.3 L631.1,516.9 L631.6,516.5 L632.1,517.1 L632.6,517.4 L633.1,517.5 L633.6,517.6 L634.1,517.2 L634.6,516.8 L635.1,517.2 L635.6,517.8 L636.1,517.6 L636.6,516.9 L637.1,517.9 L637.6,519.7 L638.1,521.3 L638.6,523.1 L639.1,524.4 L639.6,525.8 L640.1,527.8 L640.6,530.0 L641.1,531.4 L641.6,532.6 L642.1,533.9 L642.6,535.0 L643.1,535.7 L643.6,536.8 L644.1,538.7 L644.6,540.3 L645.1,540.5 L645.6,540.5 L646.1,541.4 L646.6,542.4 L647.1,543.1 L647.6,543.1 L648.1,544.1 L648.6,545.8 L649.1,546.8 L649.6,547.4 L650.1,547.8 L650.6,548.0 L651.1,548.3 L651.6,548.6 L652.1,548.8 L652.6,549.8 L653.1,550.6 L653.6,551.1 L654.1,552.0 L654.6,552.6 L655.1,553.9 L655.6,555.0 L656.1,555.1 L656.6,555.3 L657.1,555.4 L657.6,554.9 L658.1,555.0 L658.6,555.2 L659.1,555.4 L659.6,556.1 L660.1,556.9 L660.6,557.3 L661.1,557.7 L661.6,557.7 L662.1,557.7 L662.6,558.0 L663.1,558.2 L663.6,558.2 L664.1,558.5 L664.6,558.7 L665.1,559.2 L665.6,559.9 L666.1,560.2 L666.6,559.8 L667.1,559.5 L667.6,559.7 L668.1,560.3 L668.6,560.9 L669.1,561.7 L669.6,561.9 L670.1,561.6 L670.6,560.4 L671.1,559.3 L671.6,559.2 L672.1,559.7 L672.6,559.5 L673.1,559.1 L673.6,558.4 L674.1,557.6 L674.6,557.0 L675.1,557.5 L675.6,557.7 L676.1,557.3 L676.6,556.9 L677.1,557.3 L677.6,558.0" stroke="#8a5424" stroke-width="1.0" fill="none" stroke-linejoin="round" opacity="1.0"/>
<path d="M496.1,556.1 L496.6,556.1 L497.1,556.2 L497.6,556.0 L498.1,555.4 L498.6,555.1 L499.1,555.5 L499.6,556.3 L500.1,556.9 L500.6,556.6 L501.1,555.6 L501.6,555.4 L502.1,556.3 L502.6,557.6 L503.1,558.3 L503.6,558.3 L504.1,557.8 L504.6,557.0 L505.1,556.7 L505.6,555.3 L506.1,547.7 L506.6,540.2 L507.1,533.2 L507.6,526.2 L508.1,520.8 L508.6,520.5 L509.1,520.4 L509.6,520.7 L510.1,521.6 L510.6,522.0 L511.1,522.3 L511.6,522.7 L512.1,523.4 L512.6,525.6 L513.1,528.5 L513.6,531.0 L514.1,533.2 L514.6,535.1 L515.1,536.4 L515.6,536.9 L516.1,537.9 L516.6,539.3 L517.1,540.4 L517.6,541.4 L518.1,542.8 L518.6,543.7 L519.1,544.3 L519.6,545.2 L520.1,546.4 L520.6,547.4 L521.1,548.1 L521.6,548.2 L522.1,548.5 L522.6,549.3 L523.1,550.1 L523.6,550.5 L524.1,551.2 L524.6,551.6 L525.1,551.6 L525.6,551.3 L526.1,551.3 L526.6,551.3 L527.1,551.4 L527.6,551.5 L528.1,552.1 L528.6,552.4 L529.1,553.2 L529.6,554.0 L530.1,554.8 L530.6,556.1 L531.1,557.8 L531.6,559.0 L532.1,559.1 L532.6,558.8 L533.1,558.7 L533.6,559.1 L534.1,560.0 L534.6,560.5 L535.1,560.7 L535.6,560.5 L536.1,560.0 L536.6,559.2 L537.1,558.7 L537.6,558.8 L538.1,559.6 L538.6,560.2 L539.1,560.5 L539.6,560.7 L540.1,561.7 L540.6,562.6 L541.1,562.1 L541.6,561.5 L542.1,562.0 L542.6,562.7 L543.1,563.1 L543.6,563.3 L544.1,563.2 L544.6,563.2 L545.1,563.3 L545.6,563.5 L546.1,563.2 L546.6,563.2 L547.1,563.3 L547.6,563.4 L548.1,563.0 L548.6,562.2 L549.1,561.6 L549.6,561.6 L550.1,562.0 L550.6,561.4 L551.1,560.4 L551.6,560.0 L552.1,560.5 L552.6,560.7 L553.1,560.6 L553.6,560.7 L554.1,561.0 L554.6,560.9 L555.1,560.6 L555.6,560.6 L556.1,561.4 L556.6,561.6 L557.1,561.6 L557.6,561.3 L558.1,561.5 L558.6,562.0 L559.1,561.5 L559.6,561.1 L560.1,561.2 L560.6,561.5 L561.1,561.6 L561.6,561.4 L562.1,561.3 L562.6,561.4 L563.1,561.9 L563.6,561.9 L564.1,561.3 L564.6,560.7 L565.1,560.7 L565.6,561.1 L566.1,560.8 L566.6,560.9 L567.1,561.1 L567.6,561.3 L568.1,561.0 L568.6,560.9 L569.1,561.6 L569.6,562.4 L570.1,562.3 L570.6,561.1 L571.1,559.9 L571.6,559.0 L572.1,559.1 L572.6,559.2 L573.1,559.2 L573.6,559.4 L574.1,559.1 L574.6,558.1 L575.1,556.9 L575.6,557.3 L576.1,557.7 L576.6,557.5 L577.1,557.0 L577.6,557.4 L578.1,558.1 L578.6,557.9 L579.1,557.7 L579.6,557.5 L580.1,556.8 L580.6,555.6 L581.1,556.1 L581.6,557.5 L582.1,557.6 L582.6,556.8 L583.1,555.9 L583.6,555.5 L584.1,555.6 L584.6,555.7 L585.1,556.1 L585.6,556.7 L586.1,556.6 L586.6,556.0 L587.1,555.7 L587.6,555.3 L588.1,555.1 L588.6,555.2 L589.1,555.2 L589.6,554.4 L590.1,554.5 L590.6,555.1 L591.1,554.8 L591.6,553.9 L592.1,553.9 L592.6,554.3 L593.1,554.3 L593.6,554.5 L594.1,555.0 L594.6,555.6 L595.1,555.7 L595.6,555.6 L596.1,556.0 L596.6,556.5 L597.1,556.9 L597.6,557.1 L598.1,557.5 L598.6,557.1 L599.1,557.2 L599.6,557.4 L600.1,558.0 L600.6,558.6 L601.1,559.0 L601.6,559.6 L602.1,560.1 L602.6,557.6 L603.1,551.2 L603.6,544.1 L604.1,536.3 L604.6,528.6 L605.1,524.3 L605.6,524.8 L606.1,525.1 L606.6,524.8 L607.1,524.1 L607.6,523.3 L608.1,522.9 L608.6,522.4 L609.1,522.7 L609.6,522.8 L610.1,522.6 L610.6,523.3 L611.1,525.4 L611.6,527.6 L612.1,529.3 L612.6,531.2 L613.1,533.6 L613.6,535.7 L614.1,536.8 L614.6,537.9 L615.1,539.2 L615.6,540.5 L616.1,542.5 L616.6,544.1 L617.1,545.1 L617.6,545.4 L618.1,546.1 L618.6,547.0 L619.1,547.7 L619.6,547.8 L620.1,547.9 L620.6,548.5 L621.1,549.5 L621.6,551.1 L622.1,552.4 L622.6,553.4 L623.1,554.7 L623.6,556.0 L624.1,557.1 L624.6,558.1 L625.1,558.8 L625.6,559.6 L626.1,560.1 L626.6,560.3 L627.1,560.4 L627.6,561.3 L628.1,561.7 L628.6,561.7 L629.1,561.9 L629.6,562.9 L630.1,563.7 L630.6,563.7 L631.1,562.9 L631.6,562.5 L632.1,562.4 L632.6,562.4 L633.1,562.6 L633.6,563.3 L634.1,564.1 L634.6,564.2 L635.1,564.1 L635.6,564.4 L636.1,565.1 L636.6,565.8 L637.1,565.9 L637.6,565.3 L638.1,564.7 L638.6,564.7 L639.1,564.9 L639.6,565.3 L640.1,565.3 L640.6,565.2 L641.1,565.7 L641.6,566.2 L642.1,566.2 L642.6,565.6 L643.1,565.6 L643.6,565.9 L644.1,566.0 L644.6,565.6 L645.1,565.4 L645.6,565.4 L646.1,565.4 L646.6,565.2 L647.1,565.5 L647.6,565.3 L648.1,564.8 L648.6,564.0 L649.1,563.4 L649.6,563.0 L650.1,562.6 L650.6,562.3 L651.1,561.9 L651.6,561.3 L652.1,560.2 L652.6,559.4 L653.1,559.8 L653.6,560.9 L654.1,561.4 L654.6,561.4 L655.1,561.0 L655.6,560.9 L656.1,560.5 L656.6,560.3 L657.1,560.0 L657.6,559.6 L658.1,559.7 L658.6,559.3 L659.1,558.9 L659.6,559.2 L660.1,559.2 L660.6,558.4 L661.1,557.3 L661.6,556.2 L662.1,555.3 L662.6,555.1 L663.1,555.5 L663.6,555.7 L664.1,555.2 L664.6,555.3 L665.1,556.4 L665.6,556.9 L666.1,556.1 L666.6,555.3 L667.1,555.1 L667.6,555.0 L668.1,555.4 L668.6,556.3 L669.1,556.9 L669.6,556.5 L670.1,556.3 L670.6,556.4 L671.1,557.1 L671.6,557.5 L672.1,558.1 L672.6,558.7 L673.1,558.7 L673.6,558.6 L674.1,558.8 L674.6,558.9 L675.1,558.0 L675.6,556.6 L676.1,555.9 L676.6,556.4 L677.1,556.7 L677.6,556.8" stroke="#3b2412" stroke-width="1.0" fill="none" stroke-linejoin="round" opacity="1.0"/>
<line x1="508.00" y1="423.00" x2="508.00" y2="525.00" stroke="#3b2412" stroke-width="1.0"/>
<line x1="509.40" y1="423.00" x2="509.40" y2="525.00" stroke="#3b2412" stroke-width="1.0"/>
<line x1="604.90" y1="423.00" x2="604.90" y2="525.00" stroke="#3b2412" stroke-width="1.0"/>
<line x1="606.20" y1="423.00" x2="606.20" y2="525.00" stroke="#3b2412" stroke-width="1.0"/>
<line x1="607.50" y1="423.00" x2="607.50" y2="525.00" stroke="#3b2412" stroke-width="1.0"/>
<line x1="567.10" y1="423.00" x2="567.10" y2="525.00" stroke="#8a5424" stroke-width="1.0"/>
<line x1="568.30" y1="423.00" x2="568.30" y2="525.00" stroke="#8a5424" stroke-width="1.0"/>
<line x1="569.50" y1="423.00" x2="569.50" y2="525.00" stroke="#8a5424" stroke-width="1.0"/>
<line x1="630.70" y1="423.00" x2="630.70" y2="525.00" stroke="#8a5424" stroke-width="1.0"/>
<line x1="632.10" y1="423.00" x2="632.10" y2="525.00" stroke="#8a5424" stroke-width="1.0"/>
<line x1="633.50" y1="423.00" x2="633.50" y2="525.00" stroke="#8a5424" stroke-width="1.0"/>
<line x1="503.50" y1="423.00" x2="503.50" y2="525.00" stroke="#c2823e" stroke-width="1.0"/>
<line x1="504.90" y1="423.00" x2="504.90" y2="525.00" stroke="#c2823e" stroke-width="1.0"/>
<line x1="571.70" y1="423.00" x2="571.70" y2="525.00" stroke="#c2823e" stroke-width="1.0"/>
<line x1="609.60" y1="423.00" x2="609.60" y2="525.00" stroke="#c2823e" stroke-width="1.0"/>
<line x1="611.00" y1="423.00" x2="611.00" y2="525.00" stroke="#c2823e" stroke-width="1.0"/>
<line x1="502.40" y1="423.00" x2="502.40" y2="525.00" stroke="#dcbf82" stroke-width="1.0"/>
<line x1="535.00" y1="423.00" x2="535.00" y2="525.00" stroke="#dcbf82" stroke-width="1.0"/>
<line x1="536.30" y1="423.00" x2="536.30" y2="525.00" stroke="#dcbf82" stroke-width="1.0"/>
<line x1="537.60" y1="423.00" x2="537.60" y2="525.00" stroke="#dcbf82" stroke-width="1.0"/>
<line x1="612.30" y1="423.00" x2="612.30" y2="525.00" stroke="#dcbf82" stroke-width="1.0"/>
<line x1="613.90" y1="423.00" x2="613.90" y2="525.00" stroke="#dcbf82" stroke-width="1.0"/>
<line x1="676.50" y1="423.00" x2="676.50" y2="525.00" stroke="#dcbf82" stroke-width="1.0"/>
<line x1="540.70" y1="423.00" x2="540.70" y2="525.00" stroke="#eedcae" stroke-width="1.0"/>
<line x1="573.30" y1="423.00" x2="573.30" y2="525.00" stroke="#eedcae" stroke-width="1.0"/>
<line x1="575.10" y1="423.00" x2="575.10" y2="525.00" stroke="#eedcae" stroke-width="1.0"/>
<line x1="648.60" y1="423.00" x2="648.60" y2="525.00" stroke="#eedcae" stroke-width="1.0"/>
<line x1="650.20" y1="423.00" x2="650.20" y2="525.00" stroke="#eedcae" stroke-width="1.0"/>
<line x1="651.80" y1="423.00" x2="651.80" y2="525.00" stroke="#eedcae" stroke-width="1.0"/>
<line x1="496.10" y1="510.10" x2="677.60" y2="510.10" stroke="#333" stroke-width="1.1" stroke-dasharray="1,1.2"/>
<line x1="496.10" y1="551.90" x2="677.60" y2="551.90" stroke="#b88a68" stroke-width="1.4" stroke-dasharray="5.8,4"/>
<line x1="492.30" y1="511.30" x2="492.30" y2="551.40" stroke="#111" stroke-width="2"/>
<line x1="641.20" y1="570.80" x2="678.00" y2="570.80" stroke="#111" stroke-width="2"/>
<text x="658.90" y="588.80" font-family='"Liberation Sans", sans-serif' font-size="12.4" text-anchor="middle" fill="#222" font-weight="normal">200 ms</text>
<text x="486.30" y="529.80" font-family='"Liberation Sans", sans-serif' font-size="12" text-anchor="middle" fill="#222" font-weight="normal" transform="rotate(-90 486.30 529.80)">30 μV</text>
<path d="M498.1,721.6 L498.6,722.3 L499.1,722.8 L499.6,722.3 L500.1,722.6 L500.6,722.6 L501.1,722.3 L501.6,721.6 L502.1,721.8 L502.6,722.4 L503.1,721.5 L503.6,720.6 L504.1,721.0 L504.6,721.0 L505.1,719.1 L505.6,717.8 L506.1,717.1 L506.6,715.9 L507.1,714.1 L507.6,713.3 L508.1,714.0 L508.6,714.9 L509.1,715.6 L509.6,714.8 L510.1,714.3 L510.6,714.5 L511.1,716.1 L511.6,717.9 L512.1,719.5 L512.6,721.4 L513.1,722.8 L513.6,723.6 L514.1,723.3 L514.6,722.3 L515.1,721.4 L515.6,721.7 L516.1,722.8 L516.6,723.4 L517.1,723.1 L517.6,721.6 L518.1,719.6 L518.6,718.2 L519.1,718.4 L519.6,718.6 L520.1,718.2 L520.6,717.5 L521.1,716.3 L521.6,714.7 L522.1,714.5 L522.6,714.6 L523.1,714.7 L523.6,715.0 L524.1,715.3 L524.6,716.4 L525.1,718.6 L525.6,719.0 L526.1,717.9 L526.6,716.8 L527.1,716.8 L527.6,717.8 L528.1,718.9 L528.6,719.3 L529.1,718.7 L529.6,719.1 L530.1,720.2 L530.6,720.8 L531.1,722.1 L531.6,722.5 L532.1,722.2 L532.6,721.4 L533.1,721.8 L533.6,722.2 L534.1,722.3 L534.6,722.0 L535.1,720.2 L535.6,718.6 L536.1,719.4 L536.6,720.3 L537.1,719.6 L537.6,719.0 L538.1,718.4 L538.6,717.2 L539.1,715.9 L539.6,716.3 L540.1,717.4 L540.6,717.3 L541.1,717.3 L541.6,718.1 L542.1,718.0 L542.6,716.0 L543.1,715.2 L543.6,715.6 L544.1,715.7 L544.6,715.5 L545.1,714.7 L545.6,713.4 L546.1,712.4 L546.6,711.7 L547.1,709.9 L547.6,708.8 L548.1,709.0 L548.6,709.1 L549.1,708.6 L549.6,708.1 L550.1,707.8 L550.6,708.3 L551.1,708.3 L551.6,707.6 L552.1,707.4 L552.6,708.6 L553.1,709.9 L553.6,711.0 L554.1,711.0 L554.6,710.6 L555.1,711.2 L555.6,711.9 L556.1,713.2 L556.6,714.0 L557.1,714.0 L557.6,713.7 L558.1,712.8 L558.6,712.1 L559.1,712.0 L559.6,711.4 L560.1,710.9 L560.6,711.1 L561.1,712.4 L561.6,713.0 L562.1,712.2 L562.6,712.2 L563.1,713.2 L563.6,714.3 L564.1,714.3 L564.6,713.1 L565.1,711.6 L565.6,710.6 L566.1,709.1 L566.6,708.3 L567.1,709.4 L567.6,710.3 L568.1,709.9 L568.6,708.9 L569.1,708.6 L569.6,708.6 L570.1,708.8 L570.6,709.0 L571.1,709.5 L571.6,710.3 L572.1,711.0 L572.6,712.3 L573.1,712.6 L573.6,712.8 L574.1,713.2 L574.6,713.4 L575.1,713.5 L575.6,712.9 L576.1,712.3 L576.6,713.1 L577.1,715.1 L577.6,716.4 L578.1,715.7 L578.6,713.2 L579.1,710.9 L579.6,708.9 L580.1,706.7 L580.6,704.4 L581.1,719.0 L581.6,722.0 L582.1,723.6 L582.6,724.7 L583.1,724.6 L583.6,724.4 L584.1,724.5 L584.6,723.9 L585.1,723.0 L585.6,722.4 L586.1,722.0 L586.6,721.5 L587.1,719.8 L587.6,719.0 L588.1,719.2 L588.6,719.8 L589.1,720.5 L589.6,721.4 L590.1,720.4 L590.6,719.0 L591.1,719.4 L591.6,720.2 L592.1,720.2 L592.6,720.9 L593.1,721.5 L593.6,722.0 L594.1,723.0 L594.6,723.6 L595.1,723.6 L595.6,723.4 L596.1,723.7 L596.6,724.8 L597.1,725.9 L597.6,727.1 L598.1,728.0 L598.6,726.9 L599.1,725.4 L599.6,725.1 L600.1,725.3 L600.6,725.1 L601.1,724.8 L601.6,724.8 L602.1,725.9 L602.6,727.0 L603.1,728.6 L603.6,729.0 L604.1,728.5 L604.6,727.4 L605.1,727.3 L605.6,727.1 L606.1,726.6 L606.6,726.1 L607.1,725.6 L607.6,724.2 L608.1,722.9 L608.6,722.5 L609.1,722.6 L609.6,721.7 L610.1,721.5 L610.6,722.4 L611.1,723.0 L611.6,722.2 L612.1,721.0 L612.6,720.3 L613.1,719.8 L613.6,719.4 L614.1,718.9 L614.6,719.5 L615.1,720.4 L615.6,719.8 L616.1,719.4 L616.6,720.6 L617.1,721.7 L617.6,722.1 L618.1,722.6 L618.6,723.2 L619.1,724.1 L619.6,723.6 L620.1,723.2 L620.6,724.7 L621.1,727.1 L621.6,727.5 L622.1,726.8 L622.6,726.0 L623.1,726.3 L623.6,726.8 L624.1,726.2 L624.6,726.1 L625.1,725.9 L625.6,725.4 L626.1,724.3 L626.6,722.7 L627.1,721.4 L627.6,721.6 L628.1,722.7 L628.6,723.3 L629.1,722.7 L629.6,722.2 L630.1,721.3 L630.6,721.2 L631.1,721.7 L631.6,722.1 L632.1,722.0 L632.6,722.2 L633.1,723.0 L633.6,723.5 L634.1,723.8 L634.6,723.7 L635.1,723.9 L635.6,723.4 L636.1,722.5 L636.6,721.5 L637.1,722.1 L637.6,722.3 L638.1,721.4 L638.6,719.2 L639.1,718.2 L639.6,719.5 L640.1,719.6 L640.6,719.0 L641.1,720.4 L641.6,722.2 L642.1,722.3 L642.6,720.8 L643.1,719.2 L643.6,719.8 L644.1,721.7 L644.6,721.8 L645.1,721.0 L645.6,719.8 L646.1,718.7 L646.6,718.3 L647.1,718.0 L647.6,717.8 L648.1,718.3 L648.6,719.4 L649.1,720.9 L649.6,721.2 L650.1,722.1 L650.6,723.9 L651.1,724.0 L651.6,722.7 L652.1,722.2 L652.6,723.3 L653.1,723.3 L653.6,722.5 L654.1,721.2 L654.6,719.6 L655.1,718.4 L655.6,717.9 L656.1,717.8 L656.6,718.4 L657.1,718.3 L657.6,718.2 L658.1,718.6 L658.6,719.2 L659.1,719.5 L659.6,720.3 L660.1,722.3 L660.6,723.8 L661.1,723.4 L661.6,722.4 L662.1,721.8 L662.6,721.3 L663.1,720.8 L663.6,720.3 L664.1,719.7 L664.6,720.3 L665.1,720.0 L665.6,718.4 L666.1,716.6 L666.6,716.0 L667.1,715.9 L667.6,716.5 L668.1,715.5 L668.6,713.1 L669.1,712.8 L669.6,713.0 L670.1,712.2 L670.6,711.0 L671.1,710.3 L671.6,710.7 L672.1,711.4 L672.6,711.9 L673.1,712.4 L673.6,714.0 L674.1,715.6 L674.6,715.6 L675.1,715.6 L675.6,716.9 L676.1,719.5 L676.6,721.7 L677.1,721.2 L677.6,720.2" stroke="#e2d2f2" stroke-width="1.0" fill="none" stroke-linejoin="round" opacity="1.0"/>
<path d="M498.1,719.9 L498.6,720.7 L499.1,721.4 L499.6,721.2 L500.1,721.3 L500.6,721.2 L501.1,721.9 L501.6,721.5 L502.1,721.4 L502.6,722.6 L503.1,723.6 L503.6,723.7 L504.1,721.1 L504.6,717.1 L505.1,712.5 L505.6,708.9 L506.1,705.8 L506.6,725.1 L507.1,726.0 L507.6,725.5 L508.1,725.3 L508.6,725.9 L509.1,726.3 L509.6,725.3 L510.1,724.0 L510.6,723.1 L511.1,722.9 L511.6,721.7 L512.1,720.3 L512.6,719.4 L513.1,719.4 L513.6,720.0 L514.1,719.1 L514.6,717.0 L515.1,715.0 L515.6,713.6 L516.1,713.7 L516.6,715.4 L517.1,717.2 L517.6,717.7 L518.1,718.2 L518.6,719.4 L519.1,720.3 L519.6,721.0 L520.1,720.9 L520.6,720.6 L521.1,720.2 L521.6,720.1 L522.1,720.9 L522.6,721.5 L523.1,721.1 L523.6,719.8 L524.1,719.2 L524.6,720.0 L525.1,720.2 L525.6,718.9 L526.1,717.5 L526.6,717.4 L527.1,717.4 L527.6,716.8 L528.1,716.2 L528.6,716.3 L529.1,716.7 L529.6,715.7 L530.1,714.1 L530.6,713.6 L531.1,714.8 L531.6,716.7 L532.1,717.2 L532.6,716.8 L533.1,716.1 L533.6,715.6 L534.1,715.4 L534.6,716.0 L535.1,715.7 L535.6,715.3 L536.1,715.7 L536.6,716.9 L537.1,717.3 L537.6,718.0 L538.1,717.6 L538.6,713.7 L539.1,710.6 L539.6,708.2 L540.1,706.0 L540.6,704.3 L541.1,712.8 L541.6,713.9 L542.1,714.2 L542.6,714.6 L543.1,714.6 L543.6,715.0 L544.1,716.4 L544.6,717.3 L545.1,717.1 L545.6,717.4 L546.1,717.8 L546.6,717.7 L547.1,716.8 L547.6,715.8 L548.1,715.6 L548.6,716.2 L549.1,716.7 L549.6,717.5 L550.1,719.2 L550.6,719.2 L551.1,718.6 L551.6,718.4 L552.1,718.8 L552.6,719.1 L553.1,718.6 L553.6,717.6 L554.1,717.4 L554.6,718.3 L555.1,718.1 L555.6,716.9 L556.1,715.6 L556.6,714.7 L557.1,714.1 L557.6,714.0 L558.1,714.5 L558.6,714.7 L559.1,714.3 L559.6,714.8 L560.1,714.7 L560.6,713.8 L561.1,712.7 L561.6,712.1 L562.1,711.5 L562.6,710.9 L563.1,711.8 L563.6,712.0 L564.1,711.0 L564.6,711.0 L565.1,711.0 L565.6,710.9 L566.1,710.8 L566.6,710.5 L567.1,709.6 L567.6,709.4 L568.1,708.5 L568.6,708.7 L569.1,710.8 L569.6,712.0 L570.1,712.1 L570.6,713.0 L571.1,713.0 L571.6,712.4 L572.1,712.3 L572.6,712.0 L573.1,710.6 L573.6,709.3 L574.1,709.2 L574.6,709.1 L575.1,708.8 L575.6,710.1 L576.1,710.6 L576.6,709.4 L577.1,708.1 L577.6,707.2 L578.1,707.4 L578.6,708.9 L579.1,710.3 L579.6,710.3 L580.1,710.4 L580.6,710.5 L581.1,709.8 L581.6,708.5 L582.1,707.8 L582.6,708.1 L583.1,708.6 L583.6,708.5 L584.1,707.9 L584.6,707.5 L585.1,706.9 L585.6,706.8 L586.1,707.6 L586.6,709.3 L587.1,709.9 L587.6,708.8 L588.1,707.4 L588.6,706.5 L589.1,706.5 L589.6,706.6 L590.1,706.9 L590.6,707.2 L591.1,707.3 L591.6,708.0 L592.1,709.4 L592.6,710.3 L593.1,710.0 L593.6,709.8 L594.1,710.1 L594.6,710.7 L595.1,711.2 L595.6,711.9 L596.1,712.1 L596.6,712.1 L597.1,711.3 L597.6,711.5 L598.1,711.9 L598.6,711.6 L599.1,711.2 L599.6,711.5 L600.1,712.0 L600.6,711.7 L601.1,710.7 L601.6,710.0 L602.1,709.6 L602.6,710.4 L603.1,711.0 L603.6,710.5 L604.1,709.0 L604.6,708.0 L605.1,707.4 L605.6,706.6 L606.1,706.2 L606.6,706.3 L607.1,706.5 L607.6,706.3 L608.1,705.8 L608.6,705.1 L609.1,705.4 L609.6,705.2 L610.1,704.2 L610.6,703.2 L611.1,703.5 L611.6,704.1 L612.1,704.8 L612.6,705.0 L613.1,704.5 L613.6,704.8 L614.1,705.1 L614.6,705.3 L615.1,705.6 L615.6,705.2 L616.1,705.6 L616.6,706.8 L617.1,707.9 L617.6,707.9 L618.1,707.3 L618.6,706.5 L619.1,705.6 L619.6,705.5 L620.1,705.7 L620.6,706.3 L621.1,707.0 L621.6,707.0 L622.1,706.5 L622.6,706.1 L623.1,706.1 L623.6,707.2 L624.1,709.1 L624.6,710.4 L625.1,711.5 L625.6,712.0 L626.1,712.0 L626.6,711.4 L627.1,710.7 L627.6,709.5 L628.1,708.9 L628.6,709.1 L629.1,709.1 L629.6,708.8 L630.1,709.2 L630.6,710.3 L631.1,710.7 L631.6,709.7 L632.1,709.9 L632.6,711.6 L633.1,713.1 L633.6,713.2 L634.1,712.6 L634.6,712.7 L635.1,714.5 L635.6,715.5 L636.1,714.9 L636.6,715.6 L637.1,717.3 L637.6,718.4 L638.1,718.1 L638.6,717.0 L639.1,716.4 L639.6,716.6 L640.1,716.7 L640.6,717.5 L641.1,718.2 L641.6,718.5 L642.1,718.1 L642.6,717.4 L643.1,716.3 L643.6,713.8 L644.1,711.2 L644.6,708.6 L645.1,706.4 L645.6,704.2 L646.1,715.1 L646.6,715.8 L647.1,717.6 L647.6,718.4 L648.1,717.9 L648.6,718.0 L649.1,717.5 L649.6,716.7 L650.1,716.9 L650.6,718.7 L651.1,719.7 L651.6,720.4 L652.1,720.9 L652.6,721.1 L653.1,720.1 L653.6,719.2 L654.1,719.3 L654.6,719.3 L655.1,719.3 L655.6,719.3 L656.1,719.4 L656.6,719.3 L657.1,719.4 L657.6,719.6 L658.1,720.5 L658.6,720.5 L659.1,719.8 L659.6,719.0 L660.1,718.8 L660.6,718.7 L661.1,719.1 L661.6,720.1 L662.1,720.1 L662.6,720.3 L663.1,720.7 L663.6,720.2 L664.1,718.3 L664.6,716.9 L665.1,718.0 L665.6,719.2 L666.1,719.8 L666.6,720.3 L667.1,721.2 L667.6,721.1 L668.1,721.6 L668.6,721.8 L669.1,720.3 L669.6,718.9 L670.1,719.4 L670.6,720.0 L671.1,719.3 L671.6,717.9 L672.1,716.4 L672.6,715.4 L673.1,715.0 L673.6,714.6 L674.1,714.3 L674.6,714.4 L675.1,714.6 L675.6,715.0 L676.1,715.8 L676.6,717.0 L677.1,716.8 L677.6,716.8" stroke="#c6a6e6" stroke-width="1.0" fill="none" stroke-linejoin="round" opacity="1.0"/>
<path d="M498.1,716.8 L498.6,717.3 L499.1,717.2 L499.6,716.9 L500.1,716.4 L500.6,716.9 L501.1,719.5 L501.6,720.4 L502.1,720.5 L502.6,720.1 L503.1,719.7 L503.6,719.8 L504.1,720.2 L504.6,720.3 L505.1,720.2 L505.6,720.8 L506.1,722.0 L506.6,722.2 L507.1,722.4 L507.6,723.5 L508.1,725.3 L508.6,721.9 L509.1,718.0 L509.6,714.1 L510.1,710.4 L510.6,707.0 L511.1,727.0 L511.6,726.4 L512.1,727.1 L512.6,727.6 L513.1,727.5 L513.6,727.3 L514.1,727.3 L514.6,727.6 L515.1,727.1 L515.6,726.1 L516.1,725.2 L516.6,724.6 L517.1,724.3 L517.6,722.9 L518.1,721.6 L518.6,721.5 L519.1,721.6 L519.6,722.1 L520.1,722.7 L520.6,722.7 L521.1,721.8 L521.6,721.2 L522.1,721.6 L522.6,722.3 L523.1,724.0 L523.6,725.5 L524.1,725.6 L524.6,726.4 L525.1,726.7 L525.6,726.6 L526.1,727.4 L526.6,728.1 L527.1,728.2 L527.6,728.0 L528.1,728.2 L528.6,728.5 L529.1,729.5 L529.6,729.6 L530.1,729.1 L530.6,728.9 L531.1,728.7 L531.6,727.2 L532.1,726.4 L532.6,725.4 L533.1,723.6 L533.6,721.2 L534.1,720.4 L534.6,719.9 L535.1,718.0 L535.6,715.8 L536.1,714.9 L536.6,716.4 L537.1,718.7 L537.6,719.6 L538.1,719.7 L538.6,719.6 L539.1,720.2 L539.6,718.9 L540.1,715.5 L540.6,712.4 L541.1,709.6 L541.6,707.3 L542.1,705.0 L542.6,717.5 L543.1,718.2 L543.6,719.6 L544.1,720.3 L544.6,720.3 L545.1,719.5 L545.6,719.1 L546.1,719.4 L546.6,719.9 L547.1,720.9 L547.6,721.4 L548.1,721.2 L548.6,721.1 L549.1,720.9 L549.6,720.2 L550.1,719.7 L550.6,719.6 L551.1,719.5 L551.6,719.7 L552.1,719.8 L552.6,719.3 L553.1,718.4 L553.6,716.9 L554.1,715.7 L554.6,716.3 L555.1,717.5 L555.6,719.0 L556.1,720.1 L556.6,720.8 L557.1,721.0 L557.6,720.3 L558.1,719.9 L558.6,720.1 L559.1,719.2 L559.6,718.6 L560.1,719.0 L560.6,720.1 L561.1,720.0 L561.6,718.9 L562.1,718.2 L562.6,716.7 L563.1,715.3 L563.6,715.4 L564.1,715.9 L564.6,716.3 L565.1,716.1 L565.6,717.3 L566.1,719.0 L566.6,720.8 L567.1,720.8 L567.6,720.2 L568.1,719.8 L568.6,719.8 L569.1,719.3 L569.6,716.1 L570.1,713.6 L570.6,712.7 L571.1,713.1 L571.6,714.6 L572.1,715.5 L572.6,715.8 L573.1,716.3 L573.6,717.3 L574.1,718.0 L574.6,718.6 L575.1,718.0 L575.6,715.8 L576.1,713.0 L576.6,710.3 L577.1,707.4 L577.6,704.2 L578.1,721.9 L578.6,722.3 L579.1,722.5 L579.6,723.0 L580.1,725.0 L580.6,726.9 L581.1,728.2 L581.6,729.0 L582.1,728.9 L582.6,728.0 L583.1,728.3 L583.6,729.2 L584.1,730.0 L584.6,730.9 L585.1,731.6 L585.6,731.8 L586.1,732.4 L586.6,732.5 L587.1,731.7 L587.6,731.3 L588.1,731.5 L588.6,731.0 L589.1,729.1 L589.6,728.1 L590.1,728.6 L590.6,728.9 L591.1,727.3 L591.6,721.8 L592.1,717.1 L592.6,712.9 L593.1,709.5 L593.6,706.3 L594.1,722.5 L594.6,724.5 L595.1,726.2 L595.6,726.8 L596.1,727.2 L596.6,728.5 L597.1,730.4 L597.6,731.7 L598.1,732.8 L598.6,733.5 L599.1,733.8 L599.6,733.5 L600.1,733.1 L600.6,732.3 L601.1,730.7 L601.6,729.2 L602.1,729.0 L602.6,728.5 L603.1,727.8 L603.6,726.4 L604.1,725.7 L604.6,725.5 L605.1,726.5 L605.6,726.9 L606.1,726.2 L606.6,725.4 L607.1,724.9 L607.6,724.1 L608.1,723.9 L608.6,723.8 L609.1,723.7 L609.6,722.3 L610.1,719.2 L610.6,714.9 L611.1,710.7 L611.6,707.3 L612.1,704.4 L612.6,714.9 L613.1,714.2 L613.6,714.9 L614.1,717.2 L614.6,719.6 L615.1,721.0 L615.6,720.5 L616.1,720.8 L616.6,722.1 L617.1,722.9 L617.6,723.7 L618.1,724.6 L618.6,725.7 L619.1,726.6 L619.6,726.4 L620.1,726.1 L620.6,726.0 L621.1,726.3 L621.6,726.1 L622.1,725.0 L622.6,724.3 L623.1,723.3 L623.6,723.4 L624.1,723.6 L624.6,724.9 L625.1,726.1 L625.6,726.4 L626.1,726.8 L626.6,727.1 L627.1,726.8 L627.6,726.6 L628.1,727.1 L628.6,726.6 L629.1,725.6 L629.6,725.1 L630.1,724.9 L630.6,725.0 L631.1,725.3 L631.6,725.4 L632.1,725.3 L632.6,725.2 L633.1,724.6 L633.6,724.7 L634.1,725.3 L634.6,725.1 L635.1,724.2 L635.6,723.9 L636.1,723.8 L636.6,723.8 L637.1,723.8 L637.6,724.3 L638.1,724.7 L638.6,724.4 L639.1,724.5 L639.6,724.6 L640.1,725.2 L640.6,725.6 L641.1,725.6 L641.6,724.9 L642.1,724.3 L642.6,723.9 L643.1,724.2 L643.6,723.5 L644.1,723.0 L644.6,722.9 L645.1,722.2 L645.6,720.7 L646.1,719.5 L646.6,719.6 L647.1,721.4 L647.6,722.1 L648.1,720.9 L648.6,720.8 L649.1,722.3 L649.6,723.0 L650.1,723.7 L650.6,723.9 L651.1,724.3 L651.6,723.5 L652.1,723.2 L652.6,722.1 L653.1,721.7 L653.6,720.7 L654.1,719.8 L654.6,720.7 L655.1,722.0 L655.6,722.3 L656.1,721.4 L656.6,722.0 L657.1,723.7 L657.6,725.0 L658.1,725.6 L658.6,726.5 L659.1,726.8 L659.6,727.3 L660.1,726.9 L660.6,725.5 L661.1,725.6 L661.6,725.4 L662.1,725.0 L662.6,724.5 L663.1,724.7 L663.6,724.7 L664.1,725.3 L664.6,726.3 L665.1,726.5 L665.6,726.4 L666.1,725.7 L666.6,724.8 L667.1,723.6 L667.6,722.9 L668.1,722.8 L668.6,721.8 L669.1,720.3 L669.6,718.9 L670.1,719.1 L670.6,719.1 L671.1,718.1 L671.6,717.3 L672.1,716.8 L672.6,715.7 L673.1,714.7 L673.6,714.2 L674.1,715.6 L674.6,717.4 L675.1,718.9 L675.6,720.0 L676.1,720.3 L676.6,720.1 L677.1,720.5 L677.6,721.5" stroke="#9a68c8" stroke-width="1.0" fill="none" stroke-linejoin="round" opacity="1.0"/>
<path d="M498.1,711.1 L498.6,712.1 L499.1,714.0 L499.6,714.8 L500.1,713.5 L500.6,711.9 L501.1,712.6 L501.6,714.5 L502.1,716.6 L502.6,717.4 L503.1,717.7 L503.6,718.4 L504.1,719.2 L504.6,720.8 L505.1,721.5 L505.6,720.1 L506.1,718.1 L506.6,717.2 L507.1,716.2 L507.6,714.7 L508.1,714.5 L508.6,714.3 L509.1,712.8 L509.6,711.3 L510.1,710.8 L510.6,709.8 L511.1,708.2 L511.6,706.3 L512.1,705.0 L512.6,704.1 L513.1,709.9 L513.6,709.4 L514.1,709.6 L514.6,712.5 L515.1,714.8 L515.6,715.3 L516.1,716.0 L516.6,717.4 L517.1,718.7 L517.6,719.0 L518.1,719.7 L518.6,721.1 L519.1,722.1 L519.6,721.9 L520.1,721.7 L520.6,722.6 L521.1,724.2 L521.6,725.2 L522.1,725.6 L522.6,726.0 L523.1,726.7 L523.6,728.0 L524.1,729.0 L524.6,728.4 L525.1,727.5 L525.6,726.2 L526.1,725.4 L526.6,726.0 L527.1,725.4 L527.6,723.9 L528.1,723.2 L528.6,723.0 L529.1,722.8 L529.6,722.8 L530.1,722.8 L530.6,722.6 L531.1,721.4 L531.6,719.8 L532.1,718.9 L532.6,718.7 L533.1,718.6 L533.6,718.2 L534.1,719.0 L534.6,719.9 L535.1,719.9 L535.6,719.8 L536.1,719.6 L536.6,719.4 L537.1,720.4 L537.6,722.0 L538.1,722.3 L538.6,722.3 L539.1,722.4 L539.6,723.1 L540.1,723.8 L540.6,723.9 L541.1,723.9 L541.6,724.6 L542.1,725.5 L542.6,726.2 L543.1,727.0 L543.6,727.6 L544.1,726.2 L544.6,721.2 L545.1,716.6 L545.6,712.4 L546.1,708.8 L546.6,705.8 L547.1,720.0 L547.6,722.2 L548.1,722.5 L548.6,722.8 L549.1,723.2 L549.6,723.4 L550.1,723.9 L550.6,724.6 L551.1,725.3 L551.6,725.4 L552.1,725.7 L552.6,725.8 L553.1,725.7 L553.6,726.9 L554.1,727.1 L554.6,727.1 L555.1,727.6 L555.6,728.8 L556.1,728.9 L556.6,727.8 L557.1,727.7 L557.6,728.9 L558.1,729.6 L558.6,729.2 L559.1,727.5 L559.6,726.1 L560.1,725.1 L560.6,723.7 L561.1,721.7 L561.6,721.3 L562.1,722.5 L562.6,723.2 L563.1,721.7 L563.6,719.6 L564.1,718.8 L564.6,719.3 L565.1,719.3 L565.6,719.4 L566.1,719.1 L566.6,718.7 L567.1,719.3 L567.6,720.6 L568.1,721.9 L568.6,722.7 L569.1,722.8 L569.6,723.4 L570.1,723.6 L570.6,723.7 L571.1,724.2 L571.6,724.1 L572.1,723.8 L572.6,724.3 L573.1,725.2 L573.6,725.4 L574.1,724.9 L574.6,723.9 L575.1,722.8 L575.6,722.4 L576.1,722.5 L576.6,722.0 L577.1,720.6 L577.6,719.4 L578.1,718.7 L578.6,718.5 L579.1,717.1 L579.6,715.5 L580.1,714.4 L580.6,714.0 L581.1,712.8 L581.6,711.5 L582.1,710.9 L582.6,709.6 L583.1,708.5 L583.6,708.5 L584.1,709.6 L584.6,711.3 L585.1,712.1 L585.6,712.3 L586.1,713.3 L586.6,714.3 L587.1,714.9 L587.6,716.3 L588.1,717.3 L588.6,716.3 L589.1,715.6 L589.6,717.1 L590.1,718.8 L590.6,718.3 L591.1,716.9 L591.6,716.4 L592.1,716.7 L592.6,716.8 L593.1,716.8 L593.6,716.5 L594.1,716.6 L594.6,716.1 L595.1,715.0 L595.6,714.5 L596.1,714.8 L596.6,714.4 L597.1,713.7 L597.6,714.2 L598.1,715.2 L598.6,715.1 L599.1,714.1 L599.6,712.6 L600.1,711.2 L600.6,710.6 L601.1,710.7 L601.6,710.4 L602.1,710.7 L602.6,710.7 L603.1,711.3 L603.6,712.2 L604.1,712.0 L604.6,710.9 L605.1,709.8 L605.6,710.5 L606.1,711.5 L606.6,712.0 L607.1,711.1 L607.6,711.8 L608.1,713.9 L608.6,714.3 L609.1,712.7 L609.6,712.7 L610.1,714.1 L610.6,716.5 L611.1,717.8 L611.6,717.3 L612.1,716.4 L612.6,715.0 L613.1,712.8 L613.6,711.4 L614.1,709.5 L614.6,707.2 L615.1,704.6 L615.6,719.8 L616.1,720.4 L616.6,720.8 L617.1,721.6 L617.6,722.3 L618.1,722.1 L618.6,720.9 L619.1,720.7 L619.6,720.9 L620.1,720.3 L620.6,719.3 L621.1,717.9 L621.6,717.8 L622.1,718.3 L622.6,718.1 L623.1,717.6 L623.6,718.2 L624.1,720.1 L624.6,721.9 L625.1,721.9 L625.6,720.9 L626.1,720.8 L626.6,722.1 L627.1,723.3 L627.6,724.0 L628.1,724.2 L628.6,723.4 L629.1,722.3 L629.6,720.9 L630.1,721.3 L630.6,722.6 L631.1,722.1 L631.6,719.6 L632.1,718.0 L632.6,718.0 L633.1,717.8 L633.6,716.9 L634.1,717.1 L634.6,716.5 L635.1,714.5 L635.6,714.3 L636.1,715.7 L636.6,715.8 L637.1,714.8 L637.6,714.4 L638.1,713.9 L638.6,712.4 L639.1,712.0 L639.6,712.3 L640.1,712.7 L640.6,712.5 L641.1,711.7 L641.6,711.3 L642.1,711.9 L642.6,713.5 L643.1,715.5 L643.6,716.7 L644.1,716.6 L644.6,716.3 L645.1,717.0 L645.6,717.8 L646.1,717.6 L646.6,716.8 L647.1,716.2 L647.6,716.3 L648.1,716.6 L648.6,717.1 L649.1,717.2 L649.6,717.6 L650.1,717.0 L650.6,715.9 L651.1,714.8 L651.6,714.8 L652.1,715.8 L652.6,716.5 L653.1,716.7 L653.6,716.1 L654.1,715.2 L654.6,713.9 L655.1,712.8 L655.6,712.2 L656.1,710.3 L656.6,708.2 L657.1,706.9 L657.6,706.0 L658.1,704.8 L658.6,703.3 L659.1,712.0 L659.6,713.4 L660.1,714.9 L660.6,715.6 L661.1,714.9 L661.6,714.9 L662.1,715.9 L662.6,716.3 L663.1,716.8 L663.6,716.5 L664.1,717.9 L664.6,720.3 L665.1,721.4 L665.6,720.7 L666.1,720.0 L666.6,719.9 L667.1,721.4 L667.6,721.7 L668.1,720.6 L668.6,720.2 L669.1,720.2 L669.6,719.3 L670.1,718.8 L670.6,719.6 L671.1,719.3 L671.6,718.9 L672.1,719.2 L672.6,718.3 L673.1,717.5 L673.6,718.2 L674.1,719.5 L674.6,719.6 L675.1,719.9 L675.6,721.1 L676.1,722.3 L676.6,721.3 L677.1,720.6 L677.6,721.2" stroke="#6a3a92" stroke-width="1.0" fill="none" stroke-linejoin="round" opacity="1.0"/>
<path d="M498.1,717.4 L498.6,715.8 L499.1,714.7 L499.6,713.9 L500.1,713.3 L500.6,712.0 L501.1,711.4 L501.6,711.0 L502.1,710.9 L502.6,711.1 L503.1,712.1 L503.6,713.0 L504.1,714.2 L504.6,715.1 L505.1,716.3 L505.6,717.0 L506.1,718.1 L506.6,718.6 L507.1,715.9 L507.6,713.6 L508.1,711.3 L508.6,708.8 L509.1,706.0 L509.6,720.3 L510.1,720.4 L510.6,719.9 L511.1,719.7 L511.6,720.1 L512.1,720.3 L512.6,719.7 L513.1,718.9 L513.6,717.7 L514.1,715.5 L514.6,713.1 L515.1,710.9 L515.6,708.0 L516.1,705.2 L516.6,720.7 L517.1,722.6 L517.6,724.5 L518.1,727.3 L518.6,729.9 L519.1,730.2 L519.6,729.4 L520.1,729.2 L520.6,729.8 L521.1,730.1 L521.6,731.2 L522.1,731.6 L522.6,731.6 L523.1,731.7 L523.6,732.2 L524.1,733.1 L524.6,733.9 L525.1,733.4 L525.6,731.9 L526.1,730.6 L526.6,729.7 L527.1,728.8 L527.6,728.5 L528.1,728.5 L528.6,727.7 L529.1,725.6 L529.6,724.2 L530.1,722.2 L530.6,720.6 L531.1,719.7 L531.6,719.0 L532.1,717.8 L532.6,717.0 L533.1,716.4 L533.6,715.6 L534.1,716.1 L534.6,716.9 L535.1,717.8 L535.6,717.4 L536.1,716.2 L536.6,714.9 L537.1,714.0 L537.6,714.5 L538.1,714.6 L538.6,715.0 L539.1,715.2 L539.6,714.1 L540.1,712.0 L540.6,712.6 L541.1,713.8 L541.6,715.0 L542.1,717.1 L542.6,718.9 L543.1,719.0 L543.6,717.9 L544.1,717.5 L544.6,717.8 L545.1,717.5 L545.6,716.6 L546.1,716.3 L546.6,717.0 L547.1,717.4 L547.6,716.7 L548.1,715.8 L548.6,714.6 L549.1,714.6 L549.6,715.2 L550.1,715.9 L550.6,715.7 L551.1,715.6 L551.6,717.0 L552.1,718.6 L552.6,720.0 L553.1,719.8 L553.6,719.2 L554.1,719.4 L554.6,719.9 L555.1,719.0 L555.6,717.5 L556.1,716.2 L556.6,715.9 L557.1,716.4 L557.6,716.1 L558.1,715.4 L558.6,714.2 L559.1,712.6 L559.6,711.0 L560.1,709.3 L560.6,708.5 L561.1,708.4 L561.6,708.7 L562.1,707.9 L562.6,707.8 L563.1,708.4 L563.6,709.1 L564.1,710.1 L564.6,710.6 L565.1,710.5 L565.6,710.0 L566.1,709.0 L566.6,710.1 L567.1,711.7 L567.6,712.6 L568.1,713.5 L568.6,714.4 L569.1,714.1 L569.6,713.2 L570.1,712.7 L570.6,712.4 L571.1,712.4 L571.6,711.7 L572.1,709.8 L572.6,707.7 L573.1,705.7 L573.6,704.1 L574.1,711.6 L574.6,711.9 L575.1,712.5 L575.6,714.3 L576.1,716.6 L576.6,718.2 L577.1,719.2 L577.6,719.9 L578.1,719.0 L578.6,718.2 L579.1,718.1 L579.6,719.5 L580.1,720.7 L580.6,721.3 L581.1,721.0 L581.6,720.7 L582.1,721.2 L582.6,721.1 L583.1,720.0 L583.6,720.0 L584.1,720.0 L584.6,719.8 L585.1,719.5 L585.6,718.4 L586.1,716.2 L586.6,714.6 L587.1,714.2 L587.6,714.6 L588.1,714.2 L588.6,713.7 L589.1,713.7 L589.6,714.4 L590.1,714.2 L590.6,713.8 L591.1,713.7 L591.6,713.9 L592.1,714.0 L592.6,714.0 L593.1,714.8 L593.6,715.4 L594.1,714.3 L594.6,713.8 L595.1,713.3 L595.6,712.8 L596.1,712.9 L596.6,713.3 L597.1,713.0 L597.6,712.3 L598.1,711.7 L598.6,711.5 L599.1,712.0 L599.6,713.3 L600.1,714.4 L600.6,715.8 L601.1,716.8 L601.6,717.3 L602.1,718.0 L602.6,717.9 L603.1,718.5 L603.6,719.4 L604.1,719.8 L604.6,719.0 L605.1,718.2 L605.6,717.2 L606.1,715.2 L606.6,713.6 L607.1,711.5 L607.6,709.6 L608.1,707.7 L608.6,705.6 L609.1,703.8 L609.6,710.3 L610.1,712.5 L610.6,714.6 L611.1,717.0 L611.6,718.5 L612.1,717.9 L612.6,716.6 L613.1,717.3 L613.6,718.7 L614.1,719.7 L614.6,719.4 L615.1,719.6 L615.6,719.4 L616.1,718.4 L616.6,717.8 L617.1,717.3 L617.6,717.9 L618.1,718.9 L618.6,718.8 L619.1,718.1 L619.6,717.7 L620.1,717.2 L620.6,717.0 L621.1,716.8 L621.6,716.2 L622.1,716.3 L622.6,716.7 L623.1,717.5 L623.6,718.0 L624.1,717.6 L624.6,717.1 L625.1,715.9 L625.6,715.6 L626.1,716.2 L626.6,716.3 L627.1,716.7 L627.6,716.1 L628.1,715.4 L628.6,715.7 L629.1,717.7 L629.6,719.2 L630.1,718.8 L630.6,717.8 L631.1,717.8 L631.6,718.3 L632.1,719.3 L632.6,721.5 L633.1,721.9 L633.6,720.2 L634.1,719.1 L634.6,719.7 L635.1,720.3 L635.6,720.5 L636.1,719.4 L636.6,717.8 L637.1,717.7 L637.6,717.4 L638.1,716.6 L638.6,715.5 L639.1,715.5 L639.6,715.1 L640.1,714.6 L640.6,714.8 L641.1,715.5 L641.6,716.5 L642.1,716.7 L642.6,716.6 L643.1,716.4 L643.6,716.5 L644.1,717.0 L644.6,717.4 L645.1,717.1 L645.6,716.0 L646.1,715.1 L646.6,714.3 L647.1,714.1 L647.6,714.8 L648.1,716.1 L648.6,716.1 L649.1,715.8 L649.6,715.9 L650.1,716.6 L650.6,717.9 L651.1,718.6 L651.6,718.5 L652.1,718.8 L652.6,717.9 L653.1,714.9 L653.6,712.1 L654.1,709.6 L654.6,707.0 L655.1,704.4 L655.6,716.3 L656.1,716.8 L656.6,717.3 L657.1,717.5 L657.6,717.0 L658.1,717.1 L658.6,717.6 L659.1,719.7 L659.6,721.5 L660.1,722.4 L660.6,722.9 L661.1,723.7 L661.6,724.8 L662.1,725.9 L662.6,725.9 L663.1,726.5 L663.6,727.2 L664.1,727.4 L664.6,726.9 L665.1,727.6 L665.6,730.1 L666.1,732.2 L666.6,732.6 L667.1,733.2 L667.6,732.9 L668.1,733.1 L668.6,732.8 L669.1,731.5 L669.6,730.0 L670.1,729.9 L670.6,729.4 L671.1,728.2 L671.6,727.1 L672.1,726.9 L672.6,725.9 L673.1,723.9 L673.6,722.3 L674.1,722.0 L674.6,722.7 L675.1,722.6 L675.6,721.5 L676.1,720.6 L676.6,721.1 L677.1,722.0 L677.6,722.7" stroke="#2a1a30" stroke-width="1.0" fill="none" stroke-linejoin="round" opacity="1.0"/>
<line x1="509.60" y1="613.10" x2="509.60" y2="723.00" stroke="#2a1a30" stroke-width="1.0"/>
<line x1="516.50" y1="613.10" x2="516.50" y2="723.00" stroke="#2a1a30" stroke-width="1.0"/>
<line x1="574.00" y1="613.10" x2="574.00" y2="723.00" stroke="#2a1a30" stroke-width="1.0"/>
<line x1="609.40" y1="613.10" x2="609.40" y2="723.00" stroke="#2a1a30" stroke-width="1.0"/>
<line x1="655.40" y1="613.10" x2="655.40" y2="723.00" stroke="#2a1a30" stroke-width="1.0"/>
<line x1="513.10" y1="613.10" x2="513.10" y2="723.00" stroke="#6a3a92" stroke-width="1.0"/>
<line x1="547.10" y1="613.10" x2="547.10" y2="723.00" stroke="#6a3a92" stroke-width="1.0"/>
<line x1="615.40" y1="613.10" x2="615.40" y2="723.00" stroke="#6a3a92" stroke-width="1.0"/>
<line x1="658.70" y1="613.10" x2="658.70" y2="723.00" stroke="#6a3a92" stroke-width="1.0"/>
<line x1="511.10" y1="613.10" x2="511.10" y2="723.00" stroke="#9a68c8" stroke-width="1.0"/>
<line x1="542.50" y1="613.10" x2="542.50" y2="723.00" stroke="#9a68c8" stroke-width="1.0"/>
<line x1="577.80" y1="613.10" x2="577.80" y2="723.00" stroke="#9a68c8" stroke-width="1.0"/>
<line x1="594.10" y1="613.10" x2="594.10" y2="723.00" stroke="#9a68c8" stroke-width="1.0"/>
<line x1="612.40" y1="613.10" x2="612.40" y2="723.00" stroke="#9a68c8" stroke-width="1.0"/>
<line x1="506.50" y1="613.10" x2="506.50" y2="723.00" stroke="#c6a6e6" stroke-width="1.0"/>
<line x1="541.00" y1="613.10" x2="541.00" y2="723.00" stroke="#c6a6e6" stroke-width="1.0"/>
<line x1="645.90" y1="613.10" x2="645.90" y2="723.00" stroke="#c6a6e6" stroke-width="1.0"/>
<line x1="580.90" y1="613.10" x2="580.90" y2="723.00" stroke="#e2d2f2" stroke-width="1.0"/>
<line x1="498.10" y1="702.40" x2="677.90" y2="702.40" stroke="#333" stroke-width="1.1" stroke-dasharray="1,1.2"/>
<line x1="498.10" y1="742.90" x2="677.00" y2="742.90" stroke="#b890d8" stroke-width="1.7" stroke-dasharray="6.4,3.3"/>
<line x1="492.90" y1="700.80" x2="492.90" y2="742.50" stroke="#111" stroke-width="2"/>
<line x1="642.90" y1="753.10" x2="679.80" y2="753.10" stroke="#111" stroke-width="2"/>
<text x="662.60" y="768.70" font-family='"Liberation Sans", sans-serif' font-size="12.4" text-anchor="middle" fill="#222" font-weight="normal">200 ms</text>
<text x="486.30" y="721.60" font-family='"Liberation Sans", sans-serif' font-size="12" text-anchor="middle" fill="#222" font-weight="normal" transform="rotate(-90 486.30 721.60)">30 μV</text>
<text x="22.00" y="819.90" font-family='"Liberation Sans", sans-serif' font-size="14" text-anchor="start" fill="#111" font-weight="bold">h</text>
<rect x="54.70" y="809.90" width="263.10" height="247.10" rx="25" fill="#d9dada" stroke="none" stroke-width="1"/>
<text x="92.00" y="837.20" font-family='"Liberation Sans", sans-serif' font-size="11.9" text-anchor="middle" fill="#222" font-weight="normal">stage I</text>
<text x="151.30" y="837.20" font-family='"Liberation Sans", sans-serif' font-size="11.9" text-anchor="middle" fill="#222" font-weight="normal">stage II</text>
<text x="216.90" y="833.90" font-family='"Liberation Sans", sans-serif' font-size="11.9" text-anchor="middle" fill="#222" font-weight="normal">stage III</text>
<text x="283.10" y="833.90" font-family='"Liberation Sans", sans-serif' font-size="11.9" text-anchor="middle" fill="#222" font-weight="normal">stage IV</text>
<path d="M67.2,852.5 L80.0,852.3 L95.0,852.5 L105.0,852.2 L118.8,852.1" stroke="#3a3a6a" stroke-width="1.3" fill="none"/>
<path d="M126.4,853.0 L129.8,849.8 L133.6,854.9 L136.9,853.0 L139.7,852.1 L143.5,853.4 L147.3,851.7 L150.7,852.5 L153.9,851.1 L157.7,849.8 L161.5,852.5 L164.4,854.9 L167.8,853.0 L170.1,851.7 L172.9,853.4 L177.6,853.0" stroke="#3a3a66" stroke-width="1.2" fill="none" stroke-linejoin="round"/>
<path d="M191.6,858.1 L197.9,855.9 L198.3,853.0" stroke="#333" stroke-width="1.1" fill="none"/>
<rect x="197.90" y="841.60" width="4.00" height="12.00" rx="0" fill="#1e1e1e" stroke="none" stroke-width="1"/>
<path d="M201.8,852.0 L203.0,852.5 L211.6,855.5 L220.1,855.5 L220.4,853.0" stroke="#333" stroke-width="1.1" fill="none"/>
<rect x="220.30" y="841.60" width="4.20" height="12.00" rx="0" fill="#1e1e1e" stroke="none" stroke-width="1"/>
<path d="M224.3,852.0 L225.8,852.5 L232.4,854.9 L242.9,855.5" stroke="#333" stroke-width="1.1" fill="none"/>
<path d="M261.9,856.3 L264.7,855.5 L268.5,854.0 L272.3,852.1 L273.6,850.0 L273.9,843.5 L274.3,850.0 L275.1,854.0 L283.7,853.6 L288.4,852.5 L291.3,851.7 L292.0,849.0 L292.3,843.5 L292.7,849.0 L293.2,853.0 L298.9,853.0 L300.1,849.0 L300.4,844.1 L300.8,849.0 L301.7,851.7 L304.5,854.0" stroke="#222" stroke-width="1.1" fill="none" stroke-linejoin="round"/>
<defs><linearGradient id="g1" gradientUnits="userSpaceOnUse" x1="158" x2="198" y1="0" y2="0"><stop offset="0" stop-color="#5577b0"/><stop offset="1" stop-color="#e07032"/></linearGradient><linearGradient id="g2" gradientUnits="userSpaceOnUse" x1="224" x2="266" y1="0" y2="0"><stop offset="0" stop-color="#b4dc98"/><stop offset="1" stop-color="#a6d88a"/></linearGradient></defs>
<line x1="87.50" y1="911.20" x2="131.80" y2="911.20" stroke="#4a70b0" stroke-width="1.2"/>
<polygon points="130.8,907.2 138.8,911.2 130.8,915.2" fill="#4a70b0"/>
<line x1="158.30" y1="911.20" x2="197.50" y2="911.20" stroke="url(#g1)" stroke-width="1.2"/>
<polygon points="196.5,907.2 204.5,911.2 196.5,915.2" fill="#d87040"/>
<line x1="224.30" y1="911.20" x2="266.30" y2="911.20" stroke="#a6d88a" stroke-width="1.2"/>
<polygon points="265.3,907.2 273.3,911.2 265.3,915.2" fill="#a6d88a"/>
<circle cx="78.00" cy="893.10" r="9.20" fill="#5577b0" stroke="#8a8a8a" stroke-width="1.6"/>
<circle cx="78.00" cy="911.20" r="9.20" fill="#5577b0" stroke="#8a8a8a" stroke-width="1.6"/>
<circle cx="78.00" cy="929.20" r="9.20" fill="#5577b0" stroke="#8a8a8a" stroke-width="1.6"/>
<circle cx="148.70" cy="893.10" r="9.20" fill="#5577b0" stroke="#8a8a8a" stroke-width="1.6"/>
<circle cx="148.70" cy="911.20" r="9.20" fill="#b4dc98" stroke="#8a8a8a" stroke-width="1.6"/>
<circle cx="148.70" cy="929.20" r="9.20" fill="#b4dc98" stroke="#8a8a8a" stroke-width="1.6"/>
<circle cx="214.40" cy="893.10" r="9.20" fill="#e07032" stroke="#8a8a8a" stroke-width="1.6"/>
<circle cx="214.40" cy="911.20" r="9.20" fill="#b4dc98" stroke="#8a8a8a" stroke-width="1.6"/>
<circle cx="214.40" cy="929.20" r="9.20" fill="#b4dc98" stroke="#8a8a8a" stroke-width="1.6"/>
<circle cx="283.20" cy="893.10" r="9.20" fill="#b4dc98" stroke="#8a8a8a" stroke-width="1.6"/>
<circle cx="283.20" cy="911.20" r="9.20" fill="#b4dc98" stroke="#8a8a8a" stroke-width="1.6"/>
<circle cx="283.20" cy="929.20" r="9.20" fill="#b4dc98" stroke="#8a8a8a" stroke-width="1.6"/>
<line x1="54.90" y1="969.90" x2="317.80" y2="969.90" stroke="#808080" stroke-width="1.8" stroke-dasharray="11.2,10.7" stroke-dashoffset="6.4"/>
<circle cx="156.40" cy="987.60" r="9.20" fill="#5577b0" stroke="#8a8a8a" stroke-width="1.6"/>
<circle cx="156.40" cy="1014.20" r="9.20" fill="#e07032" stroke="#8a8a8a" stroke-width="1.6"/>
<circle cx="156.40" cy="1040.80" r="9.20" fill="#b4dc98" stroke="#8a8a8a" stroke-width="1.6"/>
<text x="175.50" y="990.90" font-family='"Liberation Sans", sans-serif' font-size="11.9" text-anchor="start" fill="#222" font-weight="normal">complete deafferentation</text>
<text x="175.50" y="1017.50" font-family='"Liberation Sans", sans-serif' font-size="11.9" text-anchor="start" fill="#222" font-weight="normal">functional reafferentation</text>
<text x="178.00" y="1045.60" font-family='"Liberation Sans", sans-serif' font-size="11.9" text-anchor="start" fill="#222" font-weight="normal">fully intact</text>
<text x="97.00" y="1008.50" font-family='"Liberation Sans", sans-serif' font-size="11.9" text-anchor="middle" fill="#222" font-weight="normal">State of</text>
<text x="97.60" y="1022.40" font-family='"Liberation Sans", sans-serif' font-size="11.9" text-anchor="middle" fill="#222" font-weight="normal">CeTh neurons</text>
<text x="380.80" y="817.60" font-family='"Liberation Sans", sans-serif' font-size="14" text-anchor="start" fill="#111" font-weight="bold">i</text>
<rect x="412.30" y="802.20" width="4.20" height="105.00" rx="0" fill="#9a9a9a" stroke="none" stroke-width="1"/>
<rect x="412.30" y="907.00" width="3.20" height="52.00" rx="0" fill="#c2c2c2" stroke="none" stroke-width="1"/>
<line x1="413.40" y1="802.20" x2="413.40" y2="1035.00" stroke="#555" stroke-width="1.1"/>
<line x1="413.40" y1="1035.00" x2="642.40" y2="1035.00" stroke="#333" stroke-width="1.2"/>
<line x1="413.60" y1="811.00" x2="415.80" y2="811.00" stroke="#333" stroke-width="1"/>
<text x="410.20" y="814.40" font-family='"Liberation Sans", sans-serif' font-size="9.8" text-anchor="end" fill="#333" font-weight="normal">30</text>
<line x1="413.60" y1="835.50" x2="415.80" y2="835.50" stroke="#333" stroke-width="1"/>
<text x="410.20" y="838.90" font-family='"Liberation Sans", sans-serif' font-size="9.8" text-anchor="end" fill="#333" font-weight="normal">20</text>
<line x1="413.60" y1="860.00" x2="415.80" y2="860.00" stroke="#333" stroke-width="1"/>
<text x="410.20" y="863.40" font-family='"Liberation Sans", sans-serif' font-size="9.8" text-anchor="end" fill="#333" font-weight="normal">10</text>
<line x1="413.60" y1="884.50" x2="415.80" y2="884.50" stroke="#333" stroke-width="1"/>
<text x="410.20" y="887.90" font-family='"Liberation Sans", sans-serif' font-size="9.8" text-anchor="end" fill="#333" font-weight="normal">0</text>
<line x1="413.60" y1="909.00" x2="415.80" y2="909.00" stroke="#333" stroke-width="1"/>
<text x="410.20" y="912.40" font-family='"Liberation Sans", sans-serif' font-size="9.8" text-anchor="end" fill="#333" font-weight="normal">-10</text>
<line x1="413.60" y1="933.50" x2="415.80" y2="933.50" stroke="#333" stroke-width="1"/>
<text x="410.20" y="936.90" font-family='"Liberation Sans", sans-serif' font-size="9.8" text-anchor="end" fill="#333" font-weight="normal">-20</text>
<line x1="413.60" y1="958.00" x2="415.80" y2="958.00" stroke="#333" stroke-width="1"/>
<text x="410.20" y="961.40" font-family='"Liberation Sans", sans-serif' font-size="9.8" text-anchor="end" fill="#333" font-weight="normal">-30</text>
<line x1="413.60" y1="982.50" x2="415.80" y2="982.50" stroke="#333" stroke-width="1"/>
<text x="410.20" y="985.90" font-family='"Liberation Sans", sans-serif' font-size="9.8" text-anchor="end" fill="#333" font-weight="normal">-40</text>
<line x1="413.60" y1="1007.00" x2="415.80" y2="1007.00" stroke="#333" stroke-width="1"/>
<text x="410.20" y="1010.40" font-family='"Liberation Sans", sans-serif' font-size="9.8" text-anchor="end" fill="#333" font-weight="normal">-50</text>
<line x1="413.60" y1="1031.50" x2="415.80" y2="1031.50" stroke="#333" stroke-width="1"/>
<text x="410.20" y="1034.90" font-family='"Liberation Sans", sans-serif' font-size="9.8" text-anchor="end" fill="#333" font-weight="normal">-60</text>
<line x1="413.30" y1="1035.00" x2="413.30" y2="1032.80" stroke="#333" stroke-width="1"/>
<text x="413.30" y="1047.10" font-family='"Liberation Sans", sans-serif' font-size="9.8" text-anchor="middle" fill="#333" font-weight="normal">0</text>
<line x1="441.91" y1="1035.00" x2="441.91" y2="1032.80" stroke="#333" stroke-width="1"/>
<text x="441.91" y="1047.10" font-family='"Liberation Sans", sans-serif' font-size="9.8" text-anchor="middle" fill="#333" font-weight="normal">10</text>
<line x1="470.52" y1="1035.00" x2="470.52" y2="1032.80" stroke="#333" stroke-width="1"/>
<text x="470.52" y="1047.10" font-family='"Liberation Sans", sans-serif' font-size="9.8" text-anchor="middle" fill="#333" font-weight="normal">20</text>
<line x1="499.13" y1="1035.00" x2="499.13" y2="1032.80" stroke="#333" stroke-width="1"/>
<text x="499.13" y="1047.10" font-family='"Liberation Sans", sans-serif' font-size="9.8" text-anchor="middle" fill="#333" font-weight="normal">30</text>
<line x1="527.74" y1="1035.00" x2="527.74" y2="1032.80" stroke="#333" stroke-width="1"/>
<text x="527.74" y="1047.10" font-family='"Liberation Sans", sans-serif' font-size="9.8" text-anchor="middle" fill="#333" font-weight="normal">40</text>
<line x1="556.35" y1="1035.00" x2="556.35" y2="1032.80" stroke="#333" stroke-width="1"/>
<text x="556.35" y="1047.10" font-family='"Liberation Sans", sans-serif' font-size="9.8" text-anchor="middle" fill="#333" font-weight="normal">50</text>
<line x1="584.96" y1="1035.00" x2="584.96" y2="1032.80" stroke="#333" stroke-width="1"/>
<text x="584.96" y="1047.10" font-family='"Liberation Sans", sans-serif' font-size="9.8" text-anchor="middle" fill="#333" font-weight="normal">60</text>
<line x1="613.57" y1="1035.00" x2="613.57" y2="1032.80" stroke="#333" stroke-width="1"/>
<text x="613.57" y="1047.10" font-family='"Liberation Sans", sans-serif' font-size="9.8" text-anchor="middle" fill="#333" font-weight="normal">70</text>
<line x1="642.18" y1="1035.00" x2="642.18" y2="1032.80" stroke="#333" stroke-width="1"/>
<text x="642.18" y="1047.10" font-family='"Liberation Sans", sans-serif' font-size="9.8" text-anchor="middle" fill="#333" font-weight="normal">80</text>
<text x="529.30" y="1059.90" font-family='"Liberation Sans", sans-serif' font-size="9.9" text-anchor="middle" fill="#333" font-weight="normal">Frequency (Hz)</text>
<text x="394.90" y="934.50" font-family='"Liberation Sans", sans-serif' font-size="10.2" text-anchor="middle" fill="#333" font-weight="normal" transform="rotate(-90 394.90 934.50)">PSD (dB/Hz)</text>
<path d="M415.3,902.9 L416.0,901.6 L416.7,899.9 L417.4,897.9 L418.1,895.9 L418.8,894.2 L419.5,892.8 L420.2,891.4 L420.9,889.2 L421.6,887.1 L422.3,885.7 L423.0,883.8 L423.0,892.3 L422.3,894.0 L421.6,895.6 L420.9,896.9 L420.2,898.4 L419.5,900.2 L418.8,901.6 L418.1,902.7 L417.4,904.1 L416.7,906.1 L416.0,908.4 L415.3,909.3 Z" fill="#c6c6c6" stroke="none"/>
<path d="M437.0,896.2 L437.7,896.4 L438.4,896.5 L439.1,896.6 L439.8,896.0 L440.5,895.3 L441.2,895.0 L441.9,894.6 L442.6,894.6 L443.3,895.6 L444.0,896.9 L444.7,898.2 L445.4,899.6 L446.1,901.2 L446.8,902.4 L447.5,903.1 L448.2,903.8 L448.9,905.2 L449.6,906.7 L450.3,908.0 L451.0,908.9 L451.7,910.2 L452.4,911.8 L453.1,913.2 L453.8,914.0 L454.5,914.0 L455.2,913.8 L455.9,914.2 L456.6,914.9 L457.3,915.7 L458.0,916.7 L458.7,917.6 L459.4,918.6 L460.1,919.6 L460.8,920.6 L461.5,921.5 L462.2,922.1 L462.9,922.3 L463.6,922.2 L464.3,922.6 L465.0,923.5 L465.7,924.3 L466.4,925.0 L467.1,926.1 L467.8,927.4 L468.5,928.4 L469.2,928.8 L469.9,929.2 L470.6,930.0 L471.3,930.7 L472.0,931.4 L472.7,932.1 L473.4,932.8 L474.1,933.7 L474.8,934.7 L475.5,935.3 L476.2,935.3 L476.9,935.5 L477.6,936.2 L478.3,937.0 L479.0,937.9 L479.7,938.8 L480.4,939.8 L481.1,940.5 L481.8,940.8 L482.5,941.2 L483.2,941.9 L483.9,942.5 L484.6,943.5 L485.3,944.6 L486.0,945.5 L486.7,946.5 L487.4,947.4 L488.1,947.8 L488.8,947.8 L489.5,947.8 L490.2,947.8 L490.9,948.1 L491.6,948.4 L492.3,948.7 L493.0,949.0 L493.7,949.3 L494.4,949.8 L495.1,950.9 L495.8,952.1 L496.5,952.7 L497.2,952.7 L497.9,952.5 L498.6,952.6 L499.3,952.7 L500.0,952.7 L500.7,952.8 L501.4,953.3 L502.1,954.3 L502.8,955.0 L503.5,955.0 L504.2,955.5 L504.9,956.5 L505.6,957.1 L506.3,957.2 L507.0,957.0 L507.7,957.3 L508.4,957.9 L509.1,958.1 L509.8,958.0 L510.5,958.1 L511.2,958.4 L511.9,958.6 L512.6,958.8 L513.3,959.3 L514.0,960.1 L514.7,960.2 L515.4,960.0 L516.1,959.9 L516.8,960.3 L517.5,960.1 L518.2,959.6 L518.9,959.8 L519.6,960.8 L520.3,961.3 L521.0,961.5 L521.7,961.0 L522.4,960.8 L523.1,961.6 L523.8,962.3 L524.5,962.5 L525.2,962.5 L525.9,962.6 L526.6,962.5 L527.3,962.0 L528.0,961.9 L528.7,962.5 L529.4,963.1 L530.1,963.7 L530.8,964.0 L531.5,964.0 L532.2,963.9 L532.9,963.9 L533.6,964.2 L534.3,964.3 L535.0,964.6 L535.7,965.2 L536.4,965.6 L537.1,966.0 L537.8,966.5 L538.5,967.0 L539.2,967.4 L539.9,967.5 L540.6,967.3 L541.3,967.1 L542.0,967.0 L542.7,966.9 L543.4,966.7 L544.1,967.1 L544.8,967.8 L545.5,968.1 L546.2,968.5 L546.9,969.1 L547.6,969.2 L548.3,968.5 L549.0,967.8 L549.7,967.7 L550.4,967.9 L551.1,968.2 L551.8,968.6 L552.5,968.8 L553.2,968.7 L553.9,968.9 L554.6,969.2 L555.3,969.6 L556.0,970.5 L556.7,971.2 L557.4,971.0 L558.1,970.5 L558.8,970.8 L559.5,971.8 L560.2,972.3 L560.9,972.8 L561.6,973.3 L562.3,972.8 L563.0,971.8 L563.7,971.8 L564.4,972.4 L565.1,972.8 L565.8,973.3 L566.5,974.3 L567.2,974.5 L567.9,973.7 L568.6,972.9 L569.3,973.1 L570.0,973.5 L570.7,973.7 L571.4,973.3 L572.1,973.0 L572.8,973.2 L573.5,973.3 L574.2,973.1 L574.9,973.2 L575.6,974.0 L576.3,974.9 L577.0,975.1 L577.7,975.1 L578.4,975.3 L579.1,975.4 L579.8,975.4 L580.5,975.7 L581.2,976.0 L581.9,976.2 L582.6,976.3 L583.3,976.4 L584.0,976.3 L584.7,976.3 L585.4,976.5 L586.1,976.4 L586.8,976.2 L587.5,976.3 L588.2,976.6 L588.9,976.6 L589.6,976.9 L590.3,977.4 L591.0,978.1 L591.7,978.7 L592.4,979.1 L593.1,978.9 L593.8,979.0 L594.5,979.1 L595.2,978.8 L595.9,978.5 L596.6,978.5 L597.3,978.5 L598.0,978.8 L598.7,978.9 L599.4,978.6 L600.1,978.2 L600.8,978.4 L601.5,978.7 L602.2,978.5 L602.9,978.4 L603.6,978.8 L604.3,979.7 L605.0,980.1 L605.7,979.9 L606.4,979.7 L607.1,979.7 L607.8,979.8 L608.5,979.7 L609.2,979.5 L609.9,979.3 L610.6,979.3 L611.3,979.3 L612.0,979.4 L612.7,979.8 L613.4,980.3 L614.1,980.5 L614.8,980.8 L615.5,980.6 L616.2,979.7 L616.9,979.6 L617.6,980.0 L618.3,980.3 L619.0,980.8 L619.7,980.9 L620.4,981.0 L621.1,981.5 L621.8,981.9 L622.5,981.7 L623.2,981.2 L623.9,981.1 L624.6,981.5 L625.3,981.9 L626.0,982.0 L626.7,982.0 L627.4,982.4 L628.1,982.6 L628.8,982.4 L629.5,982.0 L630.2,981.7 L630.9,981.6 L631.6,981.5 L632.3,981.2 L633.0,981.0 L633.7,981.1 L634.4,981.3 L635.1,982.0 L635.8,982.4 L636.5,982.7 L637.2,983.2 L637.9,984.4 L638.6,985.0 L639.3,984.7 L640.0,984.1 L640.7,984.0 L641.4,983.8 L642.1,983.1 L642.1,993.1 L641.4,993.0 L640.7,993.0 L640.0,993.3 L639.3,993.5 L638.6,993.6 L637.9,993.8 L637.2,994.0 L636.5,993.5 L635.8,992.4 L635.1,991.4 L634.4,991.0 L633.7,991.2 L633.0,991.2 L632.3,990.9 L631.6,990.7 L630.9,990.9 L630.2,991.7 L629.5,992.4 L628.8,992.9 L628.1,993.0 L627.4,992.4 L626.7,992.0 L626.0,992.1 L625.3,991.6 L624.6,991.0 L623.9,990.8 L623.2,990.9 L622.5,990.9 L621.8,990.8 L621.1,990.6 L620.4,990.6 L619.7,989.9 L619.0,989.7 L618.3,990.3 L617.6,990.6 L616.9,990.4 L616.2,990.3 L615.5,990.2 L614.8,989.7 L614.1,989.7 L613.4,989.9 L612.7,989.8 L612.0,989.9 L611.3,990.1 L610.6,990.2 L609.9,990.1 L609.2,989.7 L608.5,989.3 L607.8,989.2 L607.1,989.2 L606.4,988.9 L605.7,988.4 L605.0,988.5 L604.3,988.8 L603.6,989.0 L602.9,989.1 L602.2,989.0 L601.5,988.6 L600.8,988.0 L600.1,987.8 L599.4,988.3 L598.7,988.9 L598.0,989.3 L597.3,989.1 L596.6,988.6 L595.9,988.5 L595.2,988.6 L594.5,988.8 L593.8,988.8 L593.1,988.5 L592.4,988.4 L591.7,988.6 L591.0,988.7 L590.3,988.1 L589.6,987.3 L588.9,986.8 L588.2,986.5 L587.5,986.4 L586.8,986.3 L586.1,986.3 L585.4,986.3 L584.7,986.3 L584.0,986.0 L583.3,985.4 L582.6,985.6 L581.9,985.7 L581.2,985.3 L580.5,985.6 L579.8,986.0 L579.1,985.9 L578.4,985.2 L577.7,984.4 L577.0,983.8 L576.3,983.7 L575.6,983.7 L574.9,983.7 L574.2,983.6 L573.5,983.1 L572.8,982.3 L572.1,982.2 L571.4,982.4 L570.7,982.1 L570.0,982.1 L569.3,982.9 L568.6,983.7 L567.9,983.9 L567.2,983.6 L566.5,983.3 L565.8,982.7 L565.1,982.4 L564.4,982.3 L563.7,982.2 L563.0,982.2 L562.3,982.3 L561.6,982.3 L560.9,982.0 L560.2,981.4 L559.5,981.0 L558.8,980.3 L558.1,979.8 L557.4,979.8 L556.7,979.8 L556.0,979.7 L555.3,979.7 L554.6,979.4 L553.9,978.9 L553.2,978.4 L552.5,978.1 L551.8,978.2 L551.1,978.0 L550.4,978.2 L549.7,978.6 L549.0,978.1 L548.3,977.0 L547.6,976.4 L546.9,976.3 L546.2,976.2 L545.5,976.2 L544.8,976.1 L544.1,976.0 L543.4,975.8 L542.7,975.8 L542.0,976.0 L541.3,976.3 L540.6,976.2 L539.9,975.7 L539.2,975.4 L538.5,975.5 L537.8,975.6 L537.1,974.9 L536.4,974.2 L535.7,974.0 L535.0,973.9 L534.3,973.6 L533.6,973.8 L532.9,973.8 L532.2,973.2 L531.5,972.4 L530.8,972.1 L530.1,972.1 L529.4,971.9 L528.7,971.7 L528.0,971.8 L527.3,972.1 L526.6,972.1 L525.9,971.9 L525.2,971.8 L524.5,971.4 L523.8,970.8 L523.1,970.1 L522.4,969.7 L521.7,970.1 L521.0,970.4 L520.3,970.2 L519.6,969.8 L518.9,969.7 L518.2,969.6 L517.5,969.0 L516.8,968.4 L516.1,968.5 L515.4,969.0 L514.7,969.3 L514.0,969.0 L513.3,968.6 L512.6,968.8 L511.9,969.0 L511.2,968.5 L510.5,967.5 L509.8,966.6 L509.1,966.1 L508.4,966.0 L507.7,966.0 L507.0,965.9 L506.3,965.6 L505.6,965.5 L504.9,965.4 L504.2,965.2 L503.5,964.7 L502.8,964.3 L502.1,963.9 L501.4,963.0 L500.7,962.0 L500.0,961.1 L499.3,960.7 L498.6,960.5 L497.9,960.7 L497.2,960.9 L496.5,961.0 L495.8,960.2 L495.1,959.2 L494.4,958.4 L493.7,957.7 L493.0,957.2 L492.3,956.8 L491.6,956.3 L490.9,956.2 L490.2,956.3 L489.5,955.9 L488.8,955.3 L488.1,955.1 L487.4,954.7 L486.7,954.4 L486.0,954.0 L485.3,953.2 L484.6,951.8 L483.9,950.5 L483.2,949.6 L482.5,949.1 L481.8,949.0 L481.1,948.8 L480.4,948.1 L479.7,947.3 L479.0,946.5 L478.3,945.6 L477.6,944.6 L476.9,944.3 L476.2,944.5 L475.5,944.0 L474.8,943.3 L474.1,942.5 L473.4,941.5 L472.7,940.5 L472.0,939.6 L471.3,938.7 L470.6,938.0 L469.9,937.5 L469.2,936.6 L468.5,935.4 L467.8,934.7 L467.1,934.5 L466.4,934.2 L465.7,933.0 L465.0,931.9 L464.3,931.5 L463.6,931.4 L462.9,931.0 L462.2,930.2 L461.5,929.4 L460.8,928.8 L460.1,928.4 L459.4,927.4 L458.7,926.2 L458.0,925.6 L457.3,924.9 L456.6,923.9 L455.9,923.0 L455.2,922.5 L454.5,922.1 L453.8,921.5 L453.1,920.8 L452.4,919.8 L451.7,918.8 L451.0,917.6 L450.3,916.2 L449.6,915.0 L448.9,914.2 L448.2,913.2 L447.5,911.9 L446.8,910.3 L446.1,908.6 L445.4,907.3 L444.7,906.3 L444.0,905.1 L443.3,903.7 L442.6,902.7 L441.9,901.8 L441.2,901.2 L440.5,901.9 L439.8,903.3 L439.1,904.0 L438.4,903.9 L437.7,903.9 L437.0,904.0 Z" fill="#c6c6c6" stroke="none"/>
<path d="M415.3,902.7 L416.0,902.8 L416.7,902.1 L417.4,901.0 L418.1,899.5 L418.8,897.4 L419.5,895.4 L420.2,893.7 L420.9,892.4 L421.6,891.4 L422.3,890.8 L423.0,890.4 L423.7,890.0 L424.4,890.1 L425.1,891.1 L425.8,892.3 L426.5,893.4 L427.2,894.9 L427.9,896.7 L428.6,898.0 L429.3,899.5 L430.0,901.2 L430.7,902.6 L431.4,903.9 L432.1,905.6 L432.8,907.5 L433.5,909.0 L434.2,909.6 L434.9,910.1 L435.6,910.7 L436.3,911.4 L437.0,913.0 L437.7,914.8 L438.4,915.9 L439.1,916.8 L439.8,917.5 L440.5,918.0 L441.2,918.6 L441.9,919.5 L442.6,920.1 L443.3,921.0 L444.0,922.2 L444.7,922.9 L445.4,923.6 L446.1,924.4 L446.8,924.9 L447.5,925.2 L448.2,925.4 L448.9,926.1 L449.6,927.5 L450.3,928.9 L451.0,929.6 L451.7,930.3 L452.4,931.0 L453.1,931.5 L453.8,932.0 L454.5,932.5 L455.2,932.8 L455.9,933.2 L456.6,933.9 L457.3,934.5 L458.0,934.8 L458.7,934.9 L459.4,935.1 L460.1,936.0 L460.8,936.8 L461.5,937.7 L462.2,938.9 L462.9,939.4 L463.6,939.3 L464.3,939.6 L465.0,940.1 L465.7,940.4 L466.4,940.6 L467.1,941.2 L467.8,942.1 L468.5,942.7 L469.2,942.9 L469.9,943.0 L470.6,943.4 L471.3,944.0 L472.0,944.4 L472.7,944.7 L473.4,945.0 L474.1,945.4 L474.8,945.6 L475.5,945.8 L476.2,945.9 L476.9,946.1 L477.6,946.5 L478.3,947.2 L479.0,947.7 L479.7,947.9 L480.4,948.7 L481.1,949.7 L481.8,950.4 L482.5,950.9 L483.2,951.2 L483.9,951.3 L484.6,951.4 L485.3,951.8 L486.0,952.7 L486.7,953.9 L487.4,954.7 L488.1,955.6 L488.8,956.3 L489.5,956.2 L490.2,955.5 L490.9,955.3 L491.6,955.4 L492.3,955.4 L493.0,955.3 L493.7,955.4 L494.4,956.0 L495.1,956.4 L495.8,956.4 L496.5,956.9 L497.2,957.4 L497.9,957.8 L498.6,958.5 L499.3,959.1 L500.0,959.1 L500.7,959.1 L501.4,959.6 L502.1,959.8 L502.8,959.8 L503.5,960.2 L504.2,960.6 L504.9,960.6 L505.6,960.7 L506.3,961.1 L507.0,961.4 L507.7,961.8 L508.4,961.7 L509.1,961.5 L509.8,962.0 L510.5,962.8 L511.2,963.3 L511.9,963.7 L512.6,964.0 L513.3,963.8 L514.0,963.7 L514.7,964.0 L515.4,964.6 L516.1,964.8 L516.8,964.7 L517.5,964.9 L518.2,965.8 L518.9,966.7 L519.6,966.9 L520.3,966.9 L521.0,966.8 L521.7,966.9 L522.4,967.3 L523.1,967.8 L523.8,968.7 L524.5,969.3 L525.2,969.8 L525.9,970.0 L526.6,969.9 L527.3,969.6 L528.0,969.6 L528.7,969.4 L529.4,969.3 L530.1,969.4 L530.8,969.8 L531.5,970.1 L532.2,970.4 L532.9,970.3 L533.6,970.1 L534.3,970.5 L535.0,970.9 L535.7,970.4 L536.4,970.0 L537.1,970.4 L537.8,971.2 L538.5,971.3 L539.2,971.1 L539.9,971.0 L540.6,971.5 L541.3,971.8 L542.0,971.7 L542.7,971.5 L543.4,971.3 L544.1,971.0 L544.8,971.2 L545.5,971.8 L546.2,972.5 L546.9,972.6 L547.6,972.2 L548.3,972.1 L549.0,972.8 L549.7,973.5 L550.4,974.0 L551.1,974.4 L551.8,975.2 L552.5,976.0 L553.2,976.1 L553.9,975.7 L554.6,975.2 L555.3,974.7 L556.0,974.5 L556.7,974.5 L557.4,974.5 L558.1,974.4 L558.8,974.7 L559.5,975.3 L560.2,975.6 L560.9,975.9 L561.6,976.3 L562.3,976.9 L563.0,977.4 L563.7,977.7 L564.4,977.6 L565.1,977.1 L565.8,977.2 L566.5,977.9 L567.2,978.4 L567.9,978.1 L568.6,978.0 L569.3,978.0 L570.0,977.4 L570.7,977.1 L571.4,977.2 L572.1,977.4 L572.8,977.8 L573.5,978.4 L574.2,978.7 L574.9,978.9 L575.6,979.2 L576.3,979.8 L577.0,980.2 L577.7,980.4 L578.4,980.6 L579.1,980.8 L579.8,980.9 L580.5,981.1 L581.2,981.0 L581.9,980.8 L582.6,980.9 L583.3,981.1 L584.0,981.1 L584.7,981.3 L585.4,981.9 L586.1,982.2 L586.8,982.0 L587.5,982.0 L588.2,982.0 L588.9,982.2 L589.6,983.0 L590.3,984.0 L591.0,984.4 L591.7,984.6 L592.4,984.7 L593.1,984.9 L593.8,984.6 L594.5,984.1 L595.2,983.9 L595.9,984.4 L596.6,984.8 L597.3,984.9 L598.0,985.0 L598.7,984.9 L599.4,984.8 L600.1,984.5 L600.8,983.9 L601.5,983.6 L602.2,983.6 L602.9,983.7 L603.6,984.6 L604.3,985.2 L605.0,985.4 L605.7,985.4 L606.4,985.4 L607.1,986.0 L607.8,986.7 L608.5,987.2 L609.2,987.5 L609.9,987.8 L610.6,988.0 L611.3,987.6 L612.0,987.2 L612.7,986.7 L613.4,986.2 L614.1,986.3 L614.8,986.9 L615.5,987.3 L616.2,987.9 L616.9,988.3 L617.6,988.2 L618.3,987.7 L619.0,987.6 L619.7,987.9 L620.4,988.5 L621.1,988.6 L621.8,988.1 L622.5,987.3 L623.2,987.2 L623.9,988.1 L624.6,989.2 L625.3,989.2 L626.0,988.4 L626.7,988.3 L627.4,988.8 L628.1,989.1 L628.8,989.4 L629.5,989.6 L630.2,989.7 L630.9,989.8 L631.6,990.1 L632.3,989.9 L633.0,989.1 L633.7,988.9 L634.4,989.7 L635.1,990.4 L635.8,990.5 L636.5,990.3 L637.2,990.4 L637.9,990.6 L638.6,990.7 L639.3,990.9 L640.0,990.9 L640.7,990.5 L641.4,990.3 L642.1,990.4 L642.1,1000.9 L641.4,1000.9 L640.7,1000.9 L640.0,1000.6 L639.3,1000.3 L638.6,1000.2 L637.9,1000.6 L637.2,1000.8 L636.5,1000.5 L635.8,1000.0 L635.1,999.5 L634.4,999.4 L633.7,999.4 L633.0,999.5 L632.3,999.9 L631.6,1000.5 L630.9,1000.5 L630.2,999.8 L629.5,999.1 L628.8,998.7 L628.1,998.8 L627.4,999.1 L626.7,999.5 L626.0,999.3 L625.3,998.9 L624.6,998.6 L623.9,998.7 L623.2,998.6 L622.5,998.0 L621.8,997.6 L621.1,998.0 L620.4,998.5 L619.7,998.7 L619.0,998.7 L618.3,998.8 L617.6,999.2 L616.9,999.0 L616.2,998.4 L615.5,997.6 L614.8,996.7 L614.1,995.9 L613.4,995.5 L612.7,995.6 L612.0,996.1 L611.3,996.5 L610.6,996.8 L609.9,996.4 L609.2,996.0 L608.5,996.0 L607.8,996.0 L607.1,995.4 L606.4,994.9 L605.7,994.6 L605.0,994.4 L604.3,994.3 L603.6,994.3 L602.9,994.1 L602.2,993.8 L601.5,993.8 L600.8,994.1 L600.1,994.2 L599.4,994.2 L598.7,994.4 L598.0,994.4 L597.3,994.2 L596.6,994.2 L595.9,993.9 L595.2,993.8 L594.5,993.9 L593.8,993.8 L593.1,993.4 L592.4,993.0 L591.7,993.0 L591.0,993.1 L590.3,992.8 L589.6,992.4 L588.9,992.2 L588.2,991.6 L587.5,991.3 L586.8,991.2 L586.1,991.1 L585.4,991.2 L584.7,991.4 L584.0,991.6 L583.3,991.7 L582.6,991.9 L581.9,991.4 L581.2,990.4 L580.5,989.8 L579.8,989.9 L579.1,990.1 L578.4,989.9 L577.7,989.6 L577.0,989.3 L576.3,989.6 L575.6,989.6 L574.9,989.1 L574.2,988.1 L573.5,987.6 L572.8,987.6 L572.1,987.4 L571.4,987.2 L570.7,987.3 L570.0,987.3 L569.3,987.4 L568.6,987.3 L567.9,987.2 L567.2,987.2 L566.5,987.4 L565.8,987.3 L565.1,986.8 L564.4,986.2 L563.7,986.1 L563.0,986.2 L562.3,986.1 L561.6,985.6 L560.9,985.1 L560.2,984.8 L559.5,985.1 L558.8,985.1 L558.1,984.2 L557.4,983.1 L556.7,982.9 L556.0,983.3 L555.3,983.8 L554.6,984.1 L553.9,984.1 L553.2,983.9 L552.5,983.7 L551.8,983.4 L551.1,983.1 L550.4,982.6 L549.7,981.8 L549.0,981.3 L548.3,981.3 L547.6,981.5 L546.9,981.5 L546.2,981.4 L545.5,981.3 L544.8,981.0 L544.1,980.6 L543.4,980.7 L542.7,981.2 L542.0,981.6 L541.3,981.4 L540.6,980.7 L539.9,980.3 L539.2,980.4 L538.5,980.3 L537.8,980.2 L537.1,979.9 L536.4,979.8 L535.7,979.9 L535.0,979.7 L534.3,979.4 L533.6,979.2 L532.9,979.1 L532.2,979.0 L531.5,978.7 L530.8,978.6 L530.1,978.4 L529.4,978.3 L528.7,978.5 L528.0,978.8 L527.3,978.9 L526.6,978.7 L525.9,978.5 L525.2,978.5 L524.5,978.1 L523.8,977.6 L523.1,977.3 L522.4,976.9 L521.7,976.3 L521.0,975.9 L520.3,976.0 L519.6,976.5 L518.9,976.6 L518.2,976.3 L517.5,975.9 L516.8,975.5 L516.1,974.9 L515.4,974.1 L514.7,973.6 L514.0,973.5 L513.3,973.4 L512.6,972.9 L511.9,972.3 L511.2,971.9 L510.5,971.8 L509.8,971.8 L509.1,971.7 L508.4,971.2 L507.7,970.9 L507.0,970.9 L506.3,971.2 L505.6,971.0 L504.9,970.4 L504.2,969.6 L503.5,968.9 L502.8,968.4 L502.1,968.0 L501.4,967.5 L500.7,967.5 L500.0,967.6 L499.3,967.4 L498.6,967.0 L497.9,966.5 L497.2,966.0 L496.5,965.0 L495.8,964.2 L495.1,964.0 L494.4,964.2 L493.7,964.1 L493.0,963.9 L492.3,963.9 L491.6,964.1 L490.9,964.0 L490.2,964.1 L489.5,964.2 L488.8,963.9 L488.1,963.3 L487.4,962.6 L486.7,961.9 L486.0,961.1 L485.3,960.3 L484.6,959.6 L483.9,958.8 L483.2,958.1 L482.5,957.8 L481.8,957.5 L481.1,957.5 L480.4,957.3 L479.7,957.1 L479.0,956.5 L478.3,955.6 L477.6,954.9 L476.9,954.4 L476.2,954.2 L475.5,953.8 L474.8,952.9 L474.1,952.3 L473.4,952.6 L472.7,952.7 L472.0,952.3 L471.3,951.8 L470.6,951.3 L469.9,950.9 L469.2,950.2 L468.5,949.5 L467.8,949.1 L467.1,949.0 L466.4,949.0 L465.7,948.4 L465.0,947.3 L464.3,946.8 L463.6,947.2 L462.9,947.5 L462.2,946.9 L461.5,946.0 L460.8,945.0 L460.1,944.0 L459.4,943.3 L458.7,942.7 L458.0,942.0 L457.3,941.9 L456.6,941.9 L455.9,941.7 L455.2,941.1 L454.5,940.5 L453.8,940.3 L453.1,939.8 L452.4,938.7 L451.7,937.5 L451.0,937.0 L450.3,936.7 L449.6,935.9 L448.9,934.8 L448.2,934.0 L447.5,933.3 L446.8,932.4 L446.1,931.5 L445.4,930.8 L444.7,930.0 L444.0,929.4 L443.3,928.7 L442.6,927.7 L441.9,927.0 L441.2,926.4 L440.5,926.2 L439.8,925.9 L439.1,924.9 L438.4,923.7 L437.7,922.4 L437.0,921.0 L436.3,919.8 L435.6,919.2 L434.9,918.4 L434.2,917.0 L433.5,915.7 L432.8,914.3 L432.1,913.0 L431.4,911.7 L430.7,910.6 L430.0,909.2 L429.3,907.2 L428.6,905.1 L427.9,903.5 L427.2,902.3 L426.5,901.1 L425.8,899.9 L425.1,898.9 L424.4,898.4 L423.7,898.3 L423.0,898.0 L422.3,898.4 L421.6,899.4 L420.9,900.6 L420.2,901.6 L419.5,902.9 L418.8,904.8 L418.1,906.8 L417.4,907.9 L416.7,908.6 L416.0,909.8 L415.3,910.5 Z" fill="#c6c6c6" stroke="none"/>
<path d="M415.8,929.1 L416.5,929.8 L417.2,930.5 L417.9,931.4 L418.6,932.3 L419.3,932.8 L420.0,933.2 L420.7,933.9 L421.4,934.7 L422.1,935.1 L422.8,935.4 L423.5,936.2 L424.2,936.8 L424.9,937.3 L425.6,938.2 L426.3,939.0 L427.0,939.1 L427.7,939.0 L428.4,939.2 L429.1,940.1 L429.8,941.3 L430.5,942.4 L431.2,943.6 L431.9,944.6 L432.6,945.4 L433.3,945.8 L434.0,945.8 L434.7,945.8 L435.4,946.3 L436.1,947.2 L436.8,948.5 L437.5,949.6 L438.2,950.4 L438.9,950.8 L439.6,951.3 L440.3,951.7 L441.0,951.4 L441.7,951.0 L442.4,951.3 L443.1,952.5 L443.8,953.3 L444.5,953.8 L445.2,954.2 L445.9,954.6 L446.6,955.1 L447.3,955.9 L448.0,956.4 L448.7,956.6 L449.4,956.8 L450.1,957.0 L450.8,957.8 L451.5,958.8 L452.2,959.7 L452.9,959.9 L453.6,959.9 L454.3,960.5 L455.0,961.3 L455.7,961.6 L456.4,962.1 L457.1,962.4 L457.8,962.2 L458.5,962.2 L459.2,962.6 L459.9,962.9 L460.6,963.1 L461.3,963.7 L462.0,964.3 L462.7,965.0 L463.4,965.6 L464.1,966.3 L464.8,966.4 L465.5,966.1 L466.2,965.9 L466.9,966.1 L467.6,966.6 L468.3,967.3 L469.0,968.1 L469.7,968.3 L470.4,968.1 L471.1,968.3 L471.8,968.8 L472.5,969.5 L473.2,970.1 L473.9,970.3 L474.6,970.5 L475.3,970.7 L476.0,970.9 L476.7,971.2 L477.4,971.6 L478.1,972.1 L478.8,972.5 L479.5,972.7 L480.2,972.7 L480.9,972.7 L481.6,973.2 L482.3,974.0 L483.0,974.7 L483.7,975.1 L484.4,975.4 L485.1,975.9 L485.8,976.3 L486.5,976.4 L487.2,976.5 L487.9,976.4 L488.6,976.1 L489.3,975.8 L490.0,976.0 L490.7,976.1 L491.4,975.8 L492.1,975.9 L492.8,976.7 L493.5,977.7 L494.2,978.5 L494.9,979.0 L495.6,979.2 L496.3,979.4 L497.0,979.2 L497.7,979.2 L498.4,979.5 L499.1,979.7 L499.8,980.0 L500.5,980.5 L501.2,981.2 L501.9,981.6 L502.6,981.4 L503.3,981.0 L504.0,981.2 L504.7,982.0 L505.4,982.6 L506.1,982.8 L506.8,983.0 L507.5,983.5 L508.2,983.9 L508.9,983.8 L509.6,983.6 L510.3,984.0 L511.0,984.5 L511.7,984.5 L512.4,984.2 L513.1,983.9 L513.8,984.2 L514.5,985.0 L515.2,985.7 L515.9,986.0 L516.6,986.0 L517.3,986.0 L518.0,985.8 L518.7,985.7 L519.4,986.0 L520.1,986.2 L520.8,985.7 L521.5,985.1 L522.2,985.0 L522.9,985.0 L523.6,985.3 L524.3,985.8 L525.0,986.2 L525.7,986.6 L526.4,987.4 L527.1,987.7 L527.8,987.7 L528.5,987.6 L529.2,987.5 L529.9,987.6 L530.6,987.7 L531.3,987.4 L532.0,986.6 L532.7,986.1 L533.4,986.4 L534.1,986.9 L534.8,987.1 L535.5,987.3 L536.2,987.9 L536.9,988.8 L537.6,989.4 L538.3,989.6 L539.0,989.7 L539.7,989.7 L540.4,989.5 L541.1,989.3 L541.8,989.3 L542.5,989.3 L543.2,989.2 L543.9,989.0 L544.6,988.7 L545.3,988.1 L546.0,988.0 L546.7,988.7 L547.4,989.8 L548.1,990.6 L548.8,991.0 L549.5,991.0 L550.2,991.0 L550.9,990.9 L551.6,990.4 L552.3,989.9 L553.0,990.1 L553.7,990.9 L554.4,991.7 L555.1,992.6 L555.8,993.5 L556.5,993.8 L557.2,993.4 L557.9,992.8 L558.6,992.4 L559.3,992.4 L560.0,993.0 L560.7,993.7 L561.4,993.7 L562.1,993.1 L562.8,992.6 L563.5,992.6 L564.2,993.0 L564.9,993.6 L565.6,994.3 L566.3,994.8 L567.0,995.1 L567.7,995.5 L568.4,996.0 L569.1,995.8 L569.8,995.1 L570.5,994.7 L571.2,994.9 L571.9,995.0 L572.6,995.1 L573.3,995.8 L574.0,996.7 L574.7,996.6 L575.4,996.5 L576.1,996.9 L576.8,997.3 L577.5,997.2 L578.2,997.2 L578.9,997.6 L579.6,998.0 L580.3,998.0 L581.0,997.5 L581.7,997.0 L582.4,997.4 L583.1,998.0 L583.8,998.2 L584.5,998.2 L585.2,998.0 L585.9,997.8 L586.6,997.3 L587.3,996.9 L588.0,997.1 L588.7,997.6 L589.4,998.4 L590.1,998.9 L590.8,999.1 L591.5,998.8 L592.2,998.7 L592.9,998.8 L593.6,998.4 L594.3,997.9 L595.0,997.8 L595.7,998.1 L596.4,998.3 L597.1,998.7 L597.8,999.3 L598.5,1000.4 L599.2,1000.9 L599.9,1000.7 L600.6,1000.4 L601.3,1000.5 L602.0,1000.8 L602.7,1001.1 L603.4,1001.4 L604.1,1001.6 L604.8,1001.3 L605.5,1001.1 L606.2,1001.3 L606.9,1001.4 L607.6,1001.4 L608.3,1001.3 L609.0,1001.5 L609.7,1001.5 L610.4,1001.0 L611.1,1000.8 L611.8,1001.0 L612.5,1001.6 L613.2,1002.3 L613.9,1002.6 L614.6,1002.4 L615.3,1002.2 L616.0,1002.1 L616.7,1001.8 L617.4,1001.6 L618.1,1002.1 L618.8,1002.4 L619.5,1002.4 L620.2,1002.5 L620.9,1002.7 L621.6,1003.1 L622.3,1003.3 L623.0,1003.4 L623.7,1003.3 L624.4,1003.0 L625.1,1002.8 L625.8,1003.0 L626.5,1003.6 L627.2,1003.9 L627.9,1004.1 L628.6,1004.3 L629.3,1004.4 L630.0,1004.5 L630.7,1004.5 L631.4,1004.0 L632.1,1003.4 L632.8,1002.9 L633.5,1002.6 L634.2,1002.5 L634.9,1002.9 L635.6,1003.7 L636.3,1004.4 L637.0,1004.1 L637.7,1003.6 L638.4,1003.7 L639.1,1004.2 L639.8,1004.5 L640.5,1004.7 L641.2,1004.7 L641.9,1004.5 L641.9,1015.4 L641.2,1015.2 L640.5,1015.1 L639.8,1014.9 L639.1,1014.6 L638.4,1014.2 L637.7,1014.1 L637.0,1014.3 L636.3,1014.4 L635.6,1014.2 L634.9,1013.8 L634.2,1013.6 L633.5,1013.2 L632.8,1012.6 L632.1,1012.3 L631.4,1012.4 L630.7,1012.6 L630.0,1012.8 L629.3,1013.3 L628.6,1013.7 L627.9,1013.9 L627.2,1013.7 L626.5,1013.4 L625.8,1013.1 L625.1,1012.8 L624.4,1012.7 L623.7,1012.6 L623.0,1012.9 L622.3,1013.1 L621.6,1012.7 L620.9,1012.3 L620.2,1012.2 L619.5,1012.2 L618.8,1012.3 L618.1,1012.5 L617.4,1012.3 L616.7,1012.2 L616.0,1012.3 L615.3,1012.2 L614.6,1012.3 L613.9,1012.5 L613.2,1012.3 L612.5,1012.4 L611.8,1012.2 L611.1,1011.2 L610.4,1010.3 L609.7,1010.0 L609.0,1010.2 L608.3,1011.1 L607.6,1012.1 L606.9,1012.3 L606.2,1011.9 L605.5,1011.0 L604.8,1010.2 L604.1,1009.7 L603.4,1009.2 L602.7,1008.9 L602.0,1009.6 L601.3,1010.2 L600.6,1010.3 L599.9,1010.3 L599.2,1010.1 L598.5,1009.9 L597.8,1009.6 L597.1,1009.1 L596.4,1008.2 L595.7,1007.6 L595.0,1007.8 L594.3,1008.7 L593.6,1009.4 L592.9,1009.3 L592.2,1009.0 L591.5,1009.1 L590.8,1009.0 L590.1,1008.6 L589.4,1007.9 L588.7,1007.1 L588.0,1006.8 L587.3,1006.9 L586.6,1006.8 L585.9,1006.8 L585.2,1007.2 L584.5,1007.7 L583.8,1007.5 L583.1,1007.0 L582.4,1006.9 L581.7,1007.0 L581.0,1006.7 L580.3,1006.7 L579.6,1007.0 L578.9,1006.8 L578.2,1006.5 L577.5,1006.6 L576.8,1006.5 L576.1,1006.0 L575.4,1005.6 L574.7,1005.6 L574.0,1005.7 L573.3,1005.5 L572.6,1005.2 L571.9,1004.4 L571.2,1003.7 L570.5,1003.6 L569.8,1004.1 L569.1,1004.4 L568.4,1004.2 L567.7,1004.2 L567.0,1004.4 L566.3,1004.3 L565.6,1003.9 L564.9,1003.0 L564.2,1002.5 L563.5,1002.7 L562.8,1002.7 L562.1,1002.2 L561.4,1002.2 L560.7,1002.3 L560.0,1002.0 L559.3,1001.7 L558.6,1001.9 L557.9,1002.1 L557.2,1002.6 L556.5,1002.8 L555.8,1002.5 L555.1,1001.9 L554.4,1000.8 L553.7,999.9 L553.0,999.5 L552.3,999.2 L551.6,999.0 L550.9,999.4 L550.2,1000.0 L549.5,1000.1 L548.8,999.7 L548.1,999.0 L547.4,998.4 L546.7,998.0 L546.0,998.0 L545.3,998.3 L544.6,998.6 L543.9,998.9 L543.2,999.2 L542.5,999.4 L541.8,999.3 L541.1,999.3 L540.4,999.0 L539.7,998.2 L539.0,997.8 L538.3,997.8 L537.6,997.4 L536.9,996.5 L536.2,996.3 L535.5,996.6 L534.8,996.4 L534.1,996.0 L533.4,996.1 L532.7,996.3 L532.0,996.0 L531.3,995.7 L530.6,995.7 L529.9,995.9 L529.2,995.8 L528.5,995.5 L527.8,995.4 L527.1,995.4 L526.4,995.2 L525.7,995.2 L525.0,995.6 L524.3,995.9 L523.6,995.7 L522.9,995.3 L522.2,995.1 L521.5,994.6 L520.8,993.9 L520.1,993.4 L519.4,993.6 L518.7,994.2 L518.0,994.7 L517.3,995.0 L516.6,994.9 L515.9,994.4 L515.2,994.1 L514.5,994.0 L513.8,993.9 L513.1,993.9 L512.4,993.7 L511.7,993.6 L511.0,993.7 L510.3,993.3 L509.6,992.6 L508.9,992.2 L508.2,992.0 L507.5,991.3 L506.8,990.8 L506.1,990.5 L505.4,990.0 L504.7,989.6 L504.0,989.6 L503.3,989.8 L502.6,990.2 L501.9,990.2 L501.2,989.5 L500.5,988.7 L499.8,988.1 L499.1,988.0 L498.4,988.2 L497.7,988.0 L497.0,988.0 L496.3,988.3 L495.6,988.2 L494.9,987.8 L494.2,986.7 L493.5,985.6 L492.8,985.1 L492.1,984.9 L491.4,984.5 L490.7,983.8 L490.0,983.3 L489.3,983.4 L488.6,984.0 L487.9,984.6 L487.2,984.9 L486.5,984.9 L485.8,984.7 L485.1,984.3 L484.4,983.8 L483.7,983.1 L483.0,983.2 L482.3,983.5 L481.6,983.2 L480.9,982.4 L480.2,982.1 L479.5,982.1 L478.8,982.0 L478.1,981.3 L477.4,980.4 L476.7,979.9 L476.0,979.6 L475.3,979.5 L474.6,979.4 L473.9,979.1 L473.2,978.3 L472.5,977.8 L471.8,977.6 L471.1,977.2 L470.4,976.6 L469.7,975.8 L469.0,975.1 L468.3,974.8 L467.6,974.6 L466.9,974.4 L466.2,974.3 L465.5,974.1 L464.8,973.7 L464.1,973.7 L463.4,973.6 L462.7,972.8 L462.0,971.7 L461.3,971.3 L460.6,971.4 L459.9,971.4 L459.2,971.3 L458.5,970.9 L457.8,970.5 L457.1,970.2 L456.4,969.7 L455.7,968.9 L455.0,968.3 L454.3,968.0 L453.6,967.7 L452.9,967.7 L452.2,967.5 L451.5,967.1 L450.8,966.5 L450.1,965.8 L449.4,965.3 L448.7,964.8 L448.0,964.4 L447.3,964.1 L446.6,963.7 L445.9,963.2 L445.2,962.3 L444.5,961.4 L443.8,960.9 L443.1,960.7 L442.4,960.2 L441.7,959.6 L441.0,959.1 L440.3,958.8 L439.6,958.7 L438.9,958.7 L438.2,958.5 L437.5,957.9 L436.8,956.9 L436.1,956.0 L435.4,954.9 L434.7,953.8 L434.0,953.3 L433.3,953.2 L432.6,953.1 L431.9,952.0 L431.2,950.7 L430.5,949.2 L429.8,948.0 L429.1,947.4 L428.4,947.2 L427.7,946.3 L427.0,945.4 L426.3,945.1 L425.6,944.8 L424.9,944.4 L424.2,944.1 L423.5,943.4 L422.8,942.3 L422.1,941.4 L421.4,940.9 L420.7,940.8 L420.0,940.3 L419.3,939.5 L418.6,938.9 L417.9,938.3 L417.2,937.6 L416.5,937.3 L415.8,937.3 Z" fill="#c6c6c6" stroke="none"/>
<path d="M420.5,959.4 L421.2,959.2 L421.9,959.6 L422.6,960.5 L423.3,961.2 L424.0,961.6 L424.7,962.2 L425.4,963.1 L426.1,964.3 L426.8,965.3 L427.5,966.0 L428.2,966.2 L428.9,966.4 L429.6,967.1 L430.3,967.9 L431.0,968.2 L431.7,968.3 L432.4,968.9 L433.1,969.9 L433.8,970.6 L434.5,971.4 L435.2,972.2 L435.9,972.7 L436.6,972.7 L437.3,973.0 L438.0,974.0 L438.7,974.6 L439.4,974.9 L440.1,975.5 L440.8,976.3 L441.5,976.6 L442.2,976.9 L442.9,977.5 L443.6,978.3 L444.3,978.8 L445.0,979.1 L445.7,979.2 L446.4,979.5 L447.1,980.2 L447.8,980.7 L448.5,980.9 L449.2,981.0 L449.9,981.4 L450.6,982.1 L451.3,982.5 L452.0,982.9 L452.7,983.6 L453.4,984.2 L454.1,984.1 L454.8,984.1 L455.5,984.4 L456.2,984.5 L456.9,984.8 L457.6,985.9 L458.3,987.3 L459.0,988.1 L459.7,988.2 L460.4,988.4 L461.1,988.8 L461.8,989.0 L462.5,989.1 L463.2,989.1 L463.9,989.3 L464.6,989.8 L465.3,990.7 L466.0,991.6 L466.7,992.4 L467.4,993.1 L468.1,993.5 L468.8,993.7 L469.5,994.2 L470.2,994.4 L470.9,994.2 L471.6,993.8 L472.3,993.3 L473.0,993.3 L473.7,994.4 L474.4,995.5 L475.1,995.9 L475.8,995.7 L476.5,995.3 L477.2,995.3 L477.9,995.6 L478.6,996.0 L479.3,996.2 L480.0,996.6 L480.7,996.8 L481.4,996.3 L482.1,996.2 L482.8,996.8 L483.5,997.8 L484.2,998.7 L484.9,999.5 L485.6,999.9 L486.3,999.8 L487.0,999.6 L487.7,999.3 L488.4,999.2 L489.1,999.3 L489.8,999.6 L490.5,999.6 L491.2,999.5 L491.9,1000.1 L492.6,1001.0 L493.3,1001.1 L494.0,1001.2 L494.7,1001.4 L495.4,1001.6 L496.1,1001.7 L496.8,1002.1 L497.5,1002.8 L498.2,1004.0 L498.9,1004.4 L499.6,1004.0 L500.3,1003.9 L501.0,1004.4 L501.7,1005.3 L502.4,1006.3 L503.1,1006.9 L503.8,1006.9 L504.5,1006.3 L505.2,1005.9 L505.9,1005.6 L506.6,1005.1 L507.3,1004.9 L508.0,1005.0 L508.7,1005.3 L509.4,1005.7 L510.1,1006.2 L510.8,1006.9 L511.5,1007.2 L512.2,1007.3 L512.9,1007.4 L513.6,1007.4 L514.3,1007.1 L515.0,1007.2 L515.7,1007.7 L516.4,1008.1 L517.1,1008.0 L517.8,1007.9 L518.5,1007.9 L519.2,1008.3 L519.9,1008.8 L520.6,1008.9 L521.3,1008.8 L522.0,1008.9 L522.7,1009.2 L523.4,1009.1 L524.1,1009.2 L524.8,1009.2 L525.5,1009.3 L526.2,1009.7 L526.9,1010.0 L527.6,1009.7 L528.3,1009.7 L529.0,1010.0 L529.7,1010.3 L530.4,1010.4 L531.1,1010.7 L531.8,1010.5 L532.5,1010.1 L533.2,1010.1 L533.9,1010.4 L534.6,1011.0 L535.3,1011.7 L536.0,1011.9 L536.7,1011.9 L537.4,1011.9 L538.1,1012.0 L538.8,1011.9 L539.5,1011.5 L540.2,1011.0 L540.9,1010.8 L541.6,1010.9 L542.3,1011.2 L543.0,1011.6 L543.7,1012.3 L544.4,1012.5 L545.1,1012.7 L545.8,1013.0 L546.5,1012.8 L547.2,1012.6 L547.9,1013.3 L548.6,1013.9 L549.3,1013.9 L550.0,1013.6 L550.7,1013.4 L551.4,1013.4 L552.1,1013.6 L552.8,1014.3 L553.5,1015.1 L554.2,1015.5 L554.9,1015.4 L555.6,1015.3 L556.3,1014.6 L557.0,1013.8 L557.7,1013.4 L558.4,1013.5 L559.1,1013.6 L559.8,1013.6 L560.5,1013.8 L561.2,1014.2 L561.9,1014.8 L562.6,1015.6 L563.3,1016.4 L564.0,1016.6 L564.7,1016.6 L565.4,1016.5 L566.1,1016.0 L566.8,1015.3 L567.5,1015.3 L568.2,1015.9 L568.9,1016.2 L569.6,1016.4 L570.3,1017.0 L571.0,1017.4 L571.7,1017.5 L572.4,1017.4 L573.1,1017.3 L573.8,1017.4 L574.5,1017.2 L575.2,1016.5 L575.9,1016.4 L576.6,1016.7 L577.3,1016.5 L578.0,1016.5 L578.7,1017.1 L579.4,1017.9 L580.1,1018.6 L580.8,1019.0 L581.5,1019.1 L582.2,1019.3 L582.9,1019.8 L583.6,1019.7 L584.3,1019.1 L585.0,1018.9 L585.7,1019.0 L586.4,1019.3 L587.1,1019.5 L587.8,1020.1 L588.5,1020.7 L589.2,1020.8 L589.9,1020.5 L590.6,1019.7 L591.3,1019.3 L592.0,1019.5 L592.7,1020.0 L593.4,1020.3 L594.1,1020.5 L594.8,1020.4 L595.5,1020.3 L596.2,1019.9 L596.9,1019.7 L597.6,1019.9 L598.3,1020.3 L599.0,1020.6 L599.7,1021.0 L600.4,1021.6 L601.1,1022.0 L601.8,1021.7 L602.5,1020.9 L603.2,1020.5 L603.9,1020.8 L604.6,1021.1 L605.3,1021.4 L606.0,1021.8 L606.7,1021.8 L607.4,1021.5 L608.1,1021.8 L608.8,1021.9 L609.5,1021.8 L610.2,1022.2 L610.9,1023.0 L611.6,1023.3 L612.3,1023.0 L613.0,1022.6 L613.7,1022.2 L614.4,1022.2 L615.1,1022.1 L615.8,1022.1 L616.5,1021.8 L617.2,1021.6 L617.9,1022.0 L618.6,1022.2 L619.3,1022.0 L620.0,1022.1 L620.7,1022.5 L621.4,1022.7 L622.1,1023.0 L622.8,1023.7 L623.5,1024.6 L624.2,1025.3 L624.9,1025.4 L625.6,1024.8 L626.3,1024.2 L627.0,1024.2 L627.7,1024.4 L628.4,1024.4 L629.1,1024.2 L629.8,1024.0 L630.5,1024.1 L631.2,1024.1 L631.9,1023.9 L632.6,1024.1 L633.3,1024.4 L634.0,1024.6 L634.7,1024.9 L635.4,1025.4 L636.1,1025.7 L636.8,1025.8 L637.5,1025.5 L638.2,1025.1 L638.9,1025.0 L639.6,1025.1 L640.3,1025.3 L641.0,1025.6 L641.7,1026.1 L642.4,1026.5 L642.4,1036.9 L641.7,1036.6 L641.0,1036.1 L640.3,1035.5 L639.6,1035.1 L638.9,1035.0 L638.2,1035.7 L637.5,1036.5 L636.8,1037.1 L636.1,1037.0 L635.4,1036.6 L634.7,1035.9 L634.0,1035.4 L633.3,1035.0 L632.6,1034.7 L631.9,1034.5 L631.2,1034.5 L630.5,1034.8 L629.8,1035.1 L629.1,1035.0 L628.4,1034.7 L627.7,1034.5 L627.0,1034.5 L626.3,1034.5 L625.6,1034.5 L624.9,1034.7 L624.2,1034.6 L623.5,1033.9 L622.8,1033.4 L622.1,1033.1 L621.4,1032.6 L620.7,1031.9 L620.0,1031.6 L619.3,1031.7 L618.6,1031.5 L617.9,1031.4 L617.2,1031.8 L616.5,1032.3 L615.8,1033.0 L615.1,1033.4 L614.4,1032.9 L613.7,1032.5 L613.0,1032.2 L612.3,1031.8 L611.6,1031.9 L610.9,1032.4 L610.2,1032.7 L609.5,1032.4 L608.8,1031.9 L608.1,1031.6 L607.4,1031.2 L606.7,1030.8 L606.0,1030.8 L605.3,1031.3 L604.6,1031.5 L603.9,1031.3 L603.2,1031.0 L602.5,1031.0 L601.8,1031.1 L601.1,1030.8 L600.4,1030.1 L599.7,1029.5 L599.0,1029.5 L598.3,1030.0 L597.6,1030.1 L596.9,1029.7 L596.2,1029.2 L595.5,1029.0 L594.8,1029.2 L594.1,1029.7 L593.4,1030.2 L592.7,1030.4 L592.0,1029.9 L591.3,1029.4 L590.6,1029.9 L589.9,1030.6 L589.2,1030.9 L588.5,1030.6 L587.8,1029.4 L587.1,1028.3 L586.4,1028.2 L585.7,1028.5 L585.0,1028.6 L584.3,1028.4 L583.6,1028.4 L582.9,1028.7 L582.2,1028.9 L581.5,1028.8 L580.8,1028.4 L580.1,1028.1 L579.4,1027.4 L578.7,1027.0 L578.0,1026.9 L577.3,1026.2 L576.6,1025.6 L575.9,1025.6 L575.2,1025.8 L574.5,1026.0 L573.8,1026.4 L573.1,1026.7 L572.4,1026.5 L571.7,1026.0 L571.0,1025.9 L570.3,1026.2 L569.6,1026.0 L568.9,1025.2 L568.2,1024.7 L567.5,1025.0 L566.8,1025.4 L566.1,1025.5 L565.4,1025.4 L564.7,1025.3 L564.0,1025.3 L563.3,1025.2 L562.6,1024.8 L561.9,1024.7 L561.2,1024.3 L560.5,1023.2 L559.8,1022.5 L559.1,1022.4 L558.4,1022.0 L557.7,1022.0 L557.0,1022.5 L556.3,1023.1 L555.6,1024.1 L554.9,1025.0 L554.2,1024.9 L553.5,1023.9 L552.8,1023.2 L552.1,1023.6 L551.4,1023.8 L550.7,1023.3 L550.0,1022.7 L549.3,1022.6 L548.6,1022.8 L547.9,1023.0 L547.2,1022.8 L546.5,1022.5 L545.8,1022.2 L545.1,1022.1 L544.4,1021.9 L543.7,1021.4 L543.0,1020.5 L542.3,1019.8 L541.6,1019.5 L540.9,1019.9 L540.2,1020.4 L539.5,1020.8 L538.8,1020.9 L538.1,1021.0 L537.4,1021.0 L536.7,1021.1 L536.0,1021.0 L535.3,1020.4 L534.6,1019.8 L533.9,1019.4 L533.2,1018.9 L532.5,1018.5 L531.8,1018.5 L531.1,1018.6 L530.4,1018.4 L529.7,1018.6 L529.0,1018.8 L528.3,1018.9 L527.6,1018.7 L526.9,1018.4 L526.2,1018.4 L525.5,1018.4 L524.8,1018.2 L524.1,1017.7 L523.4,1016.9 L522.7,1016.4 L522.0,1016.5 L521.3,1016.9 L520.6,1017.5 L519.9,1018.0 L519.2,1018.2 L518.5,1017.6 L517.8,1016.9 L517.1,1016.4 L516.4,1016.2 L515.7,1016.2 L515.0,1016.0 L514.3,1015.5 L513.6,1014.9 L512.9,1015.0 L512.2,1015.7 L511.5,1015.7 L510.8,1015.2 L510.1,1015.0 L509.4,1014.8 L508.7,1014.5 L508.0,1014.3 L507.3,1014.2 L506.6,1014.3 L505.9,1014.5 L505.2,1015.1 L504.5,1015.2 L503.8,1014.7 L503.1,1014.3 L502.4,1014.4 L501.7,1014.3 L501.0,1013.9 L500.3,1013.4 L499.6,1013.1 L498.9,1012.7 L498.2,1012.1 L497.5,1011.3 L496.8,1010.4 L496.1,1009.9 L495.4,1010.1 L494.7,1010.1 L494.0,1010.1 L493.3,1010.0 L492.6,1009.5 L491.9,1008.8 L491.2,1008.6 L490.5,1008.6 L489.8,1008.8 L489.1,1008.9 L488.4,1008.5 L487.7,1007.9 L487.0,1007.8 L486.3,1008.1 L485.6,1008.2 L484.9,1007.6 L484.2,1007.0 L483.5,1006.5 L482.8,1006.1 L482.1,1005.5 L481.4,1005.2 L480.7,1005.3 L480.0,1005.4 L479.3,1005.5 L478.6,1005.2 L477.9,1004.6 L477.2,1004.1 L476.5,1003.9 L475.8,1003.9 L475.1,1003.9 L474.4,1003.5 L473.7,1002.8 L473.0,1002.0 L472.3,1001.7 L471.6,1001.9 L470.9,1002.0 L470.2,1001.6 L469.5,1001.2 L468.8,1001.3 L468.1,1001.6 L467.4,1001.2 L466.7,1000.3 L466.0,999.5 L465.3,998.9 L464.6,998.6 L463.9,998.5 L463.2,998.0 L462.5,997.6 L461.8,997.5 L461.1,997.1 L460.4,996.9 L459.7,996.8 L459.0,996.0 L458.3,994.7 L457.6,993.7 L456.9,992.8 L456.2,991.9 L455.5,991.6 L454.8,991.8 L454.1,991.7 L453.4,991.6 L452.7,991.5 L452.0,991.1 L451.3,990.4 L450.6,989.5 L449.9,988.6 L449.2,988.4 L448.5,988.5 L447.8,988.4 L447.1,988.0 L446.4,987.4 L445.7,986.8 L445.0,986.5 L444.3,986.2 L443.6,985.9 L442.9,985.6 L442.2,985.4 L441.5,985.1 L440.8,984.4 L440.1,983.5 L439.4,983.1 L438.7,982.7 L438.0,982.2 L437.3,981.7 L436.6,981.0 L435.9,979.9 L435.2,979.0 L434.5,978.7 L433.8,979.0 L433.1,979.0 L432.4,978.2 L431.7,977.1 L431.0,976.2 L430.3,975.6 L429.6,975.3 L428.9,974.7 L428.2,974.3 L427.5,973.9 L426.8,972.8 L426.1,971.6 L425.4,970.3 L424.7,969.2 L424.0,968.7 L423.3,968.3 L422.6,968.4 L421.9,968.7 L421.2,968.8 L420.5,968.6 Z" fill="#c6c6c6" stroke="none"/>
<path d="M420.5,964.2 L421.2,964.4 L421.9,964.6 L422.6,964.7 L423.3,964.8 L424.0,965.1 L424.7,965.7 L425.4,966.7 L426.1,967.7 L426.8,968.6 L427.5,969.4 L428.2,970.1 L428.9,970.7 L429.6,971.3 L430.3,971.8 L431.0,972.3 L431.7,972.9 L432.4,973.6 L433.1,974.3 L433.8,974.9 L434.5,975.4 L435.2,975.8 L435.9,976.3 L436.6,976.9 L437.3,977.5 L438.0,978.1 L438.7,978.5 L439.4,978.8 L440.1,979.2 L440.8,979.7 L441.5,980.3 L442.2,980.9 L442.9,981.5 L443.6,982.0 L444.3,982.4 L445.0,982.8 L445.7,983.2 L446.4,983.6 L447.1,983.9 L447.8,984.1 L448.5,984.4 L449.2,984.8 L449.9,985.3 L450.6,986.1 L451.3,986.7 L452.0,987.3 L452.7,987.7 L453.4,987.9 L454.1,988.0 L454.8,988.1 L455.5,988.3 L456.2,988.5 L456.9,988.9 L457.6,989.6 L458.3,990.4 L459.0,991.1 L459.7,991.7 L460.4,992.1 L461.1,992.3 L461.8,992.5 L462.5,992.9 L463.2,993.4 L463.9,994.0 L464.6,994.7 L465.3,995.3 L466.0,995.8 L466.7,996.2 L467.4,996.5 L468.1,996.7 L468.8,996.9 L469.5,997.3 L470.2,997.5 L470.9,997.7 L471.6,997.8 L472.3,997.9 L473.0,998.2 L473.7,998.6 L474.4,999.0 L475.1,999.2 L475.8,999.3 L476.5,999.4 L477.2,999.6 L477.9,1000.0 L478.6,1000.6 L479.3,1001.1 L480.0,1001.4 L480.7,1001.4 L481.4,1001.3 L482.1,1001.4 L482.8,1001.7 L483.5,1002.2 L484.2,1002.8 L484.9,1003.3 L485.6,1003.7 L486.3,1003.8 L487.0,1003.8 L487.7,1003.8 L488.4,1003.6 L489.1,1003.6 L489.8,1003.7 L490.5,1003.9 L491.2,1004.3 L491.9,1004.8 L492.6,1005.3 L493.3,1005.7 L494.0,1006.0 L494.7,1006.1 L495.4,1006.2 L496.1,1006.3 L496.8,1006.6 L497.5,1007.1 L498.2,1007.8 L498.9,1008.3 L499.6,1008.8 L500.3,1009.1 L501.0,1009.3 L501.7,1009.5 L502.4,1009.8 L503.1,1010.1 L503.8,1010.3 L504.5,1010.3 L505.2,1010.1 L505.9,1009.8 L506.6,1009.6 L507.3,1009.5 L508.0,1009.7 L508.7,1010.1 L509.4,1010.5 L510.1,1010.9 L510.8,1011.2 L511.5,1011.4 L512.2,1011.4 L512.9,1011.5 L513.6,1011.5 L514.3,1011.6 L515.0,1011.7 L515.7,1011.8 L516.4,1012.0 L517.1,1012.3 L517.8,1012.6 L518.5,1012.9 L519.2,1013.2 L519.9,1013.2 L520.6,1013.1 L521.3,1012.8 L522.0,1012.6 L522.7,1012.6 L523.4,1012.9 L524.1,1013.4 L524.8,1013.8 L525.5,1014.2 L526.2,1014.4 L526.9,1014.3 L527.6,1014.4 L528.3,1014.5 L529.0,1014.5 L529.7,1014.5 L530.4,1014.4 L531.1,1014.3 L531.8,1014.1 L532.5,1013.9 L533.2,1014.0 L533.9,1014.3 L534.6,1014.8 L535.3,1015.3 L536.0,1015.7 L536.7,1016.0 L537.4,1016.0 L538.1,1016.0 L538.8,1015.9 L539.5,1015.8 L540.2,1015.6 L540.9,1015.5 L541.6,1015.4 L542.3,1015.5 L543.0,1015.9 L543.7,1016.4 L544.4,1016.8 L545.1,1017.2 L545.8,1017.5 L546.5,1017.7 L547.2,1018.0 L547.9,1018.3 L548.6,1018.4 L549.3,1018.4 L550.0,1018.3 L550.7,1018.3 L551.4,1018.4 L552.1,1018.7 L552.8,1019.0 L553.5,1019.3 L554.2,1019.5 L554.9,1019.4 L555.6,1019.2 L556.3,1018.7 L557.0,1018.3 L557.7,1018.1 L558.4,1018.1 L559.1,1018.2 L559.8,1018.5 L560.5,1019.0 L561.2,1019.5 L561.9,1019.8 L562.6,1020.1 L563.3,1020.3 L564.0,1020.5 L564.7,1020.6 L565.4,1020.6 L566.1,1020.5 L566.8,1020.2 L567.5,1020.1 L568.2,1020.2 L568.9,1020.7 L569.6,1021.3 L570.3,1021.8 L571.0,1022.1 L571.7,1022.1 L572.4,1022.1 L573.1,1022.0 L573.8,1021.9 L574.5,1021.7 L575.2,1021.4 L575.9,1021.2 L576.6,1021.2 L577.3,1021.3 L578.0,1021.7 L578.7,1022.0 L579.4,1022.4 L580.1,1022.7 L580.8,1022.9 L581.5,1023.2 L582.2,1023.3 L582.9,1023.4 L583.6,1023.5 L584.3,1023.5 L585.0,1023.5 L585.7,1023.6 L586.4,1023.8 L587.1,1024.1 L587.8,1024.5 L588.5,1024.8 L589.2,1024.9 L589.9,1024.9 L590.6,1024.8 L591.3,1024.8 L592.0,1024.8 L592.7,1025.0 L593.4,1025.0 L594.1,1024.9 L594.8,1024.7 L595.5,1024.6 L596.2,1024.6 L596.9,1024.7 L597.6,1024.8 L598.3,1024.9 L599.0,1025.2 L599.7,1025.5 L600.4,1025.9 L601.1,1026.1 L601.8,1026.2 L602.5,1026.2 L603.2,1026.1 L603.9,1026.2 L604.6,1026.3 L605.3,1026.7 L606.0,1026.9 L606.7,1027.0 L607.4,1026.9 L608.1,1026.8 L608.8,1026.8 L609.5,1026.9 L610.2,1027.1 L610.9,1027.3 L611.6,1027.5 L612.3,1027.5 L613.0,1027.5 L613.7,1027.5 L614.4,1027.5 L615.1,1027.4 L615.8,1027.3 L616.5,1027.2 L617.2,1027.1 L617.9,1027.0 L618.6,1026.9 L619.3,1026.8 L620.0,1026.9 L620.7,1027.1 L621.4,1027.6 L622.1,1028.3 L622.8,1029.0 L623.5,1029.5 L624.2,1029.8 L624.9,1029.7 L625.6,1029.4 L626.3,1029.1 L627.0,1028.8 L627.7,1028.8 L628.4,1028.9 L629.1,1029.1 L629.8,1029.3 L630.5,1029.2 L631.2,1029.1 L631.9,1029.0 L632.6,1029.2 L633.3,1029.5 L634.0,1030.0 L634.7,1030.4 L635.4,1030.7 L636.1,1030.7 L636.8,1030.7 L637.5,1030.6 L638.2,1030.5 L638.9,1030.3 L639.6,1030.2 L640.3,1030.3 L641.0,1030.6 L641.7,1031.1 L642.4,1031.5" stroke="#303030" stroke-width="2.0" fill="none" stroke-linejoin="round" opacity="1.0"/>
<path d="M424.7,965.7 L425.4,966.7 L426.1,967.7 L426.8,968.6 L427.5,969.4 L428.2,970.1 L428.9,970.7 L429.6,971.3 L430.3,971.8 L431.0,972.3 L431.7,972.9 L432.4,973.6 L433.1,974.3 L433.8,974.9 L434.5,975.4 L435.2,975.8 L435.9,976.3" stroke="#3a2ea0" stroke-width="2.4" fill="none" stroke-linejoin="round" opacity="1.0"/>
<path d="M415.8,933.2 L416.5,933.4 L417.2,933.8 L417.9,934.3 L418.6,934.9 L419.3,935.6 L420.0,936.4 L420.7,937.1 L421.4,937.7 L422.1,938.3 L422.8,938.9 L423.5,939.5 L424.2,940.2 L424.9,940.9 L425.6,941.5 L426.3,942.0 L427.0,942.4 L427.7,942.8 L428.4,943.3 L429.1,944.0 L429.8,945.0 L430.5,946.0 L431.2,947.1 L431.9,948.0 L432.6,948.7 L433.3,949.2 L434.0,949.7 L434.7,950.2 L435.4,950.8 L436.1,951.6 L436.8,952.4 L437.5,953.1 L438.2,953.8 L438.9,954.4 L439.6,954.7 L440.3,955.0 L441.0,955.2 L441.7,955.4 L442.4,955.7 L443.1,956.2 L443.8,956.8 L444.5,957.5 L445.2,958.1 L445.9,958.7 L446.6,959.2 L447.3,959.8 L448.0,960.2 L448.7,960.6 L449.4,961.0 L450.1,961.5 L450.8,962.1 L451.5,962.6 L452.2,963.0 L452.9,963.3 L453.6,963.6 L454.3,963.9 L455.0,964.4 L455.7,964.8 L456.4,965.3 L457.1,965.6 L457.8,966.0 L458.5,966.5 L459.2,966.9 L459.9,967.1 L460.6,967.4 L461.3,967.8 L462.0,968.4 L462.7,969.1 L463.4,969.8 L464.1,970.2 L464.8,970.5 L465.5,970.5 L466.2,970.7 L466.9,970.8 L467.6,971.0 L468.3,971.3 L469.0,971.6 L469.7,972.0 L470.4,972.3 L471.1,972.7 L471.8,973.2 L472.5,973.8 L473.2,974.4 L473.9,974.8 L474.6,975.2 L475.3,975.3 L476.0,975.5 L476.7,975.7 L477.4,976.0 L478.1,976.3 L478.8,976.6 L479.5,977.0 L480.2,977.5 L480.9,977.9 L481.6,978.3 L482.3,978.6 L483.0,978.8 L483.7,978.9 L484.4,979.2 L485.1,979.6 L485.8,980.1 L486.5,980.4 L487.2,980.5 L487.9,980.5 L488.6,980.2 L489.3,979.9 L490.0,979.7 L490.7,979.8 L491.4,980.1 L492.1,980.6 L492.8,981.1 L493.5,981.8 L494.2,982.3 L494.9,982.9 L495.6,983.3 L496.3,983.6 L497.0,983.7 L497.7,983.7 L498.4,983.8 L499.1,983.9 L499.8,984.2 L500.5,984.6 L501.2,985.1 L501.9,985.5 L502.6,985.6 L503.3,985.7 L504.0,985.6 L504.7,985.6 L505.4,985.7 L506.1,986.1 L506.8,986.5 L507.5,987.0 L508.2,987.5 L508.9,988.0 L509.6,988.2 L510.3,988.4 L511.0,988.5 L511.7,988.7 L512.4,988.8 L513.1,988.9 L513.8,989.0 L514.5,989.2 L515.2,989.4 L515.9,989.8 L516.6,990.2 L517.3,990.5 L518.0,990.6 L518.7,990.6 L519.4,990.5 L520.1,990.3 L520.8,990.2 L521.5,990.0 L522.2,990.0 L522.9,990.1 L523.6,990.4 L524.3,990.8 L525.0,991.1 L525.7,991.2 L526.4,991.2 L527.1,991.2 L527.8,991.3 L528.5,991.6 L529.2,991.7 L529.9,991.8 L530.6,991.6 L531.3,991.4 L532.0,991.2 L532.7,991.2 L533.4,991.4 L534.1,991.7 L534.8,992.1 L535.5,992.5 L536.2,992.8 L536.9,993.2 L537.6,993.4 L538.3,993.5 L539.0,993.5 L539.7,993.6 L540.4,993.7 L541.1,993.9 L541.8,994.2 L542.5,994.4 L543.2,994.4 L543.9,994.3 L544.6,994.0 L545.3,993.8 L546.0,993.6 L546.7,993.8 L547.4,994.1 L548.1,994.7 L548.8,995.2 L549.5,995.5 L550.2,995.5 L550.9,995.1 L551.6,994.7 L552.3,994.5 L553.0,994.7 L553.7,995.2 L554.4,995.9 L555.1,996.7 L555.8,997.4 L556.5,997.8 L557.2,997.9 L557.9,997.7 L558.6,997.5 L559.3,997.4 L560.0,997.4 L560.7,997.5 L561.4,997.5 L562.1,997.4 L562.8,997.3 L563.5,997.4 L564.2,997.7 L564.9,998.2 L565.6,998.8 L566.3,999.3 L567.0,999.6 L567.7,999.7 L568.4,999.8 L569.1,999.7 L569.8,999.6 L570.5,999.5 L571.2,999.4 L571.9,999.5 L572.6,999.8 L573.3,1000.2 L574.0,1000.6 L574.7,1000.8 L575.4,1001.0 L576.1,1001.1 L576.8,1001.4 L577.5,1001.7 L578.2,1002.1 L578.9,1002.4 L579.6,1002.5 L580.3,1002.3 L581.0,1002.3 L581.7,1002.2 L582.4,1002.2 L583.1,1002.4 L583.8,1002.5 L584.5,1002.6 L585.2,1002.6 L585.9,1002.6 L586.6,1002.5 L587.3,1002.4 L588.0,1002.5 L588.7,1002.6 L589.4,1002.7 L590.1,1003.2 L590.8,1003.6 L591.5,1004.0 L592.2,1004.1 L592.9,1004.2 L593.6,1004.0 L594.3,1003.7 L595.0,1003.5 L595.7,1003.6 L596.4,1003.8 L597.1,1004.3 L597.8,1004.7 L598.5,1005.2 L599.2,1005.4 L599.9,1005.4 L600.6,1005.4 L601.3,1005.2 L602.0,1005.1 L602.7,1005.1 L603.4,1005.2 L604.1,1005.5 L604.8,1005.8 L605.5,1006.1 L606.2,1006.4 L606.9,1006.6 L607.6,1006.5 L608.3,1006.3 L609.0,1006.0 L609.7,1005.9 L610.4,1005.9 L611.1,1006.1 L611.8,1006.4 L612.5,1006.7 L613.2,1007.1 L613.9,1007.4 L614.6,1007.5 L615.3,1007.5 L616.0,1007.3 L616.7,1007.1 L617.4,1006.9 L618.1,1006.9 L618.8,1006.9 L619.5,1007.1 L620.2,1007.4 L620.9,1007.7 L621.6,1008.0 L622.3,1008.1 L623.0,1008.1 L623.7,1007.9 L624.4,1007.8 L625.1,1007.9 L625.8,1008.0 L626.5,1008.3 L627.2,1008.7 L627.9,1008.9 L628.6,1009.0 L629.3,1009.0 L630.0,1008.9 L630.7,1008.7 L631.4,1008.5 L632.1,1008.3 L632.8,1008.2 L633.5,1008.1 L634.2,1008.2 L634.9,1008.5 L635.6,1008.8 L636.3,1009.0 L637.0,1009.2 L637.7,1009.4 L638.4,1009.5 L639.1,1009.7 L639.8,1009.8 L640.5,1009.8 L641.2,1009.7 L641.9,1009.6" stroke="#4c4c4c" stroke-width="2.0" fill="none" stroke-linejoin="round" opacity="1.0"/>
<path d="M424.2,940.2 L424.9,940.9 L425.6,941.5 L426.3,942.0 L427.0,942.4 L427.7,942.8 L428.4,943.3 L429.1,944.0 L429.8,945.0 L430.5,946.0 L431.2,947.1 L431.9,948.0 L432.6,948.7 L433.3,949.2 L434.0,949.7 L434.7,950.2 L435.4,950.8 L436.1,951.6" stroke="#5a9ad6" stroke-width="2.4" fill="none" stroke-linejoin="round" opacity="1.0"/>
<path d="M415.3,906.7 L416.0,906.2 L416.7,905.1 L417.4,904.0 L418.1,902.5 L418.8,900.9 L419.5,899.3 L420.2,897.8 L420.9,896.6 L421.6,895.7 L422.3,895.1 L423.0,894.6 L423.7,894.1 L424.4,893.9 L425.1,894.4 L425.8,895.4 L426.5,897.0 L427.2,898.5 L427.9,900.1 L428.6,901.8 L429.3,903.5 L430.0,905.2 L430.7,906.7 L431.4,908.1 L432.1,909.4 L432.8,910.7 L433.5,912.0 L434.2,913.1 L434.9,914.2 L435.6,915.1 L436.3,916.0 L437.0,917.0 L437.7,918.2 L438.4,919.5 L439.1,920.7 L439.8,921.5 L440.5,922.1 L441.2,922.6 L441.9,923.2 L442.6,924.0 L443.3,924.8 L444.0,925.7 L444.7,926.5 L445.4,927.2 L446.1,927.8 L446.8,928.3 L447.5,928.9 L448.2,929.6 L448.9,930.5 L449.6,931.5 L450.3,932.5 L451.0,933.3 L451.7,934.0 L452.4,934.7 L453.1,935.2 L453.8,935.7 L454.5,936.2 L455.2,936.6 L455.9,937.0 L456.6,937.5 L457.3,938.0 L458.0,938.5 L458.7,939.1 L459.4,939.8 L460.1,940.5 L460.8,941.2 L461.5,941.9 L462.2,942.6 L462.9,943.1 L463.6,943.4 L464.3,943.8 L465.0,944.2 L465.7,944.7 L466.4,945.2 L467.1,945.6 L467.8,946.0 L468.5,946.3 L469.2,946.8 L469.9,947.3 L470.6,947.7 L471.3,948.2 L472.0,948.6 L472.7,948.9 L473.4,949.2 L474.1,949.4 L474.8,949.5 L475.5,949.7 L476.2,950.1 L476.9,950.6 L477.6,951.2 L478.3,951.8 L479.0,952.3 L479.7,952.7 L480.4,953.0 L481.1,953.5 L481.8,953.8 L482.5,954.3 L483.2,954.7 L483.9,955.3 L484.6,955.8 L485.3,956.3 L486.0,957.0 L486.7,957.6 L487.4,958.2 L488.1,958.8 L488.8,959.1 L489.5,959.3 L490.2,959.3 L490.9,959.3 L491.6,959.5 L492.3,959.8 L493.0,960.1 L493.7,960.3 L494.4,960.4 L495.1,960.5 L495.8,960.6 L496.5,960.7 L497.2,961.1 L497.9,961.4 L498.6,961.9 L499.3,962.3 L500.0,962.7 L500.7,963.0 L501.4,963.3 L502.1,963.7 L502.8,964.2 L503.5,964.6 L504.2,965.0 L504.9,965.3 L505.6,965.7 L506.3,966.0 L507.0,966.1 L507.7,966.2 L508.4,966.2 L509.1,966.4 L509.8,966.9 L510.5,967.5 L511.2,968.0 L511.9,968.4 L512.6,968.6 L513.3,968.7 L514.0,968.9 L514.7,969.1 L515.4,969.3 L516.1,969.6 L516.8,970.0 L517.5,970.4 L518.2,970.9 L518.9,971.3 L519.6,971.5 L520.3,971.7 L521.0,971.7 L521.7,971.8 L522.4,972.2 L523.1,972.8 L523.8,973.4 L524.5,973.9 L525.2,974.2 L525.9,974.2 L526.6,974.2 L527.3,974.1 L528.0,974.0 L528.7,973.9 L529.4,973.8 L530.1,973.8 L530.8,973.8 L531.5,974.0 L532.2,974.3 L532.9,974.7 L533.6,975.0 L534.3,975.2 L535.0,975.4 L535.7,975.4 L536.4,975.5 L537.1,975.6 L537.8,975.7 L538.5,975.8 L539.2,975.8 L539.9,975.8 L540.6,975.8 L541.3,976.1 L542.0,976.4 L542.7,976.5 L543.4,976.5 L544.1,976.5 L544.8,976.4 L545.5,976.4 L546.2,976.5 L546.9,976.6 L547.6,976.8 L548.3,977.0 L549.0,977.5 L549.7,978.1 L550.4,978.8 L551.1,979.3 L551.8,979.6 L552.5,979.7 L553.2,979.6 L553.9,979.4 L554.6,979.3 L555.3,979.2 L556.0,979.2 L556.7,979.0 L557.4,979.1 L558.1,979.2 L558.8,979.5 L559.5,979.8 L560.2,980.1 L560.9,980.4 L561.6,980.7 L562.3,981.2 L563.0,981.6 L563.7,981.9 L564.4,982.1 L565.1,982.2 L565.8,982.4 L566.5,982.6 L567.2,982.8 L567.9,982.8 L568.6,982.7 L569.3,982.5 L570.0,982.3 L570.7,982.3 L571.4,982.4 L572.1,982.5 L572.8,982.6 L573.5,982.9 L574.2,983.3 L574.9,983.8 L575.6,984.2 L576.3,984.6 L577.0,984.7 L577.7,984.9 L578.4,985.0 L579.1,985.2 L579.8,985.5 L580.5,985.9 L581.2,986.1 L581.9,986.2 L582.6,986.1 L583.3,986.0 L584.0,985.9 L584.7,985.9 L585.4,986.0 L586.1,986.2 L586.8,986.5 L587.5,986.8 L588.2,987.1 L588.9,987.4 L589.6,987.7 L590.3,988.0 L591.0,988.3 L591.7,988.5 L592.4,988.6 L593.1,988.6 L593.8,988.7 L594.5,988.7 L595.2,988.8 L595.9,988.9 L596.6,989.1 L597.3,989.3 L598.0,989.6 L598.7,989.8 L599.4,989.8 L600.1,989.7 L600.8,989.5 L601.5,989.3 L602.2,989.2 L602.9,989.2 L603.6,989.5 L604.3,989.8 L605.0,990.2 L605.7,990.6 L606.4,990.8 L607.1,991.0 L607.8,991.3 L608.5,991.6 L609.2,992.0 L609.9,992.2 L610.6,992.2 L611.3,991.9 L612.0,991.6 L612.7,991.4 L613.4,991.4 L614.1,991.7 L614.8,992.1 L615.5,992.6 L616.2,993.1 L616.9,993.4 L617.6,993.6 L618.3,993.5 L619.0,993.3 L619.7,993.1 L620.4,993.0 L621.1,993.0 L621.8,993.1 L622.5,993.3 L623.2,993.5 L623.9,993.8 L624.6,994.1 L625.3,994.1 L626.0,994.2 L626.7,994.1 L627.4,994.0 L628.1,994.0 L628.8,994.2 L629.5,994.6 L630.2,994.9 L630.9,995.1 L631.6,995.0 L632.3,994.8 L633.0,994.4 L633.7,994.3 L634.4,994.4 L635.1,994.6 L635.8,995.0 L636.5,995.4 L637.2,995.7 L637.9,995.7 L638.6,995.8 L639.3,995.8 L640.0,995.8 L640.7,995.9 L641.4,996.1 L642.1,996.0" stroke="#7c7c7c" stroke-width="2.0" fill="none" stroke-linejoin="round" opacity="1.0"/>
<path d="M425.1,894.4 L425.8,895.4 L426.5,897.0 L427.2,898.5 L427.9,900.1 L428.6,901.8 L429.3,903.5 L430.0,905.2 L430.7,906.7 L431.4,908.1 L432.1,909.4 L432.8,910.7 L433.5,912.0 L434.2,913.1 L434.9,914.2 L435.6,915.1" stroke="#a6d88a" stroke-width="2.4" fill="none" stroke-linejoin="round" opacity="1.0"/>
<path d="M415.3,905.9 L416.0,904.7 L416.7,902.8 L417.4,900.9 L418.1,899.0 L418.8,897.3 L419.5,895.6 L420.2,894.1 L420.9,892.6 L421.6,891.1 L422.3,889.5 L423.0,888.0 L423.7,885.6 L424.4,882.6 L425.1,878.9 L425.8,875.4 L426.5,871.9 L427.2,869.9 L427.9,869.8 L428.6,871.7 L429.3,874.1 L430.0,876.5 L430.7,879.0 L431.4,881.7 L432.1,884.7 L432.8,887.8 L433.5,890.9 L434.2,893.8 L434.9,896.3 L435.6,898.3 L436.3,899.7 L437.0,900.3 L437.7,900.2 L438.4,899.8 L439.1,899.5 L439.8,899.1 L440.5,898.4 L441.2,898.1 L441.9,898.2 L442.6,898.7 L443.3,899.6 L444.0,900.7 L444.7,902.1 L445.4,903.6 L446.1,905.2 L446.8,906.7 L447.5,907.9 L448.2,908.8 L448.9,909.6 L449.6,910.5 L450.3,911.6 L451.0,912.8 L451.7,914.2 L452.4,915.5 L453.1,916.6 L453.8,917.4 L454.5,918.0 L455.2,918.5 L455.9,919.1 L456.6,919.8 L457.3,920.6 L458.0,921.4 L458.7,922.2 L459.4,923.0 L460.1,923.7 L460.8,924.5 L461.5,925.3 L462.2,926.0 L462.9,926.7 L463.6,927.2 L464.3,927.8 L465.0,928.3 L465.7,928.9 L466.4,929.6 L467.1,930.4 L467.8,931.1 L468.5,931.8 L469.2,932.4 L469.9,933.1 L470.6,933.8 L471.3,934.5 L472.0,935.3 L472.7,936.1 L473.4,936.9 L474.1,937.8 L474.8,938.6 L475.5,939.4 L476.2,940.0 L476.9,940.4 L477.6,940.8 L478.3,941.4 L479.0,942.2 L479.7,943.0 L480.4,943.8 L481.1,944.4 L481.8,944.9 L482.5,945.5 L483.2,946.2 L483.9,947.0 L484.6,947.8 L485.3,948.7 L486.0,949.4 L486.7,949.9 L487.4,950.4 L488.1,950.9 L488.8,951.3 L489.5,951.7 L490.2,951.9 L490.9,952.2 L491.6,952.4 L492.3,952.8 L493.0,953.3 L493.7,954.0 L494.4,954.7 L495.1,955.3 L495.8,955.8 L496.5,956.1 L497.2,956.2 L497.9,956.3 L498.6,956.4 L499.3,956.6 L500.0,957.0 L500.7,957.5 L501.4,958.0 L502.1,958.6 L502.8,959.2 L503.5,959.7 L504.2,960.3 L504.9,960.8 L505.6,961.3 L506.3,961.7 L507.0,962.0 L507.7,962.1 L508.4,962.1 L509.1,962.1 L509.8,962.3 L510.5,962.6 L511.2,963.1 L511.9,963.5 L512.6,963.8 L513.3,964.1 L514.0,964.3 L514.7,964.6 L515.4,964.8 L516.1,964.8 L516.8,964.7 L517.5,964.7 L518.2,964.6 L518.9,964.8 L519.6,965.1 L520.3,965.4 L521.0,965.6 L521.7,965.7 L522.4,965.8 L523.1,966.0 L523.8,966.3 L524.5,966.7 L525.2,967.0 L525.9,967.0 L526.6,967.0 L527.3,966.9 L528.0,967.0 L528.7,967.2 L529.4,967.5 L530.1,968.0 L530.8,968.5 L531.5,968.9 L532.2,969.0 L532.9,969.0 L533.6,969.0 L534.3,968.8 L535.0,968.9 L535.7,969.2 L536.4,969.6 L537.1,970.0 L537.8,970.6 L538.5,971.0 L539.2,971.4 L539.9,971.6 L540.6,971.6 L541.3,971.6 L542.0,971.6 L542.7,971.6 L543.4,971.7 L544.1,971.9 L544.8,972.2 L545.5,972.4 L546.2,972.6 L546.9,972.8 L547.6,973.0 L548.3,973.2 L549.0,973.3 L549.7,973.2 L550.4,973.1 L551.1,973.1 L551.8,973.1 L552.5,973.1 L553.2,973.3 L553.9,973.6 L554.6,974.1 L555.3,974.5 L556.0,974.8 L556.7,975.1 L557.4,975.4 L558.1,975.7 L558.8,976.1 L559.5,976.6 L560.2,977.0 L560.9,977.1 L561.6,977.0 L562.3,976.9 L563.0,976.7 L563.7,976.6 L564.4,976.8 L565.1,977.2 L565.8,977.7 L566.5,978.2 L567.2,978.6 L567.9,978.7 L568.6,978.6 L569.3,978.5 L570.0,978.2 L570.7,978.0 L571.4,977.9 L572.1,977.9 L572.8,978.0 L573.5,978.2 L574.2,978.5 L574.9,978.7 L575.6,978.9 L576.3,979.3 L577.0,979.6 L577.7,979.9 L578.4,980.1 L579.1,980.4 L579.8,980.6 L580.5,980.9 L581.2,981.2 L581.9,981.3 L582.6,981.3 L583.3,981.2 L584.0,981.2 L584.7,981.2 L585.4,981.3 L586.1,981.3 L586.8,981.3 L587.5,981.4 L588.2,981.5 L588.9,981.7 L589.6,982.0 L590.3,982.4 L591.0,982.8 L591.7,983.2 L592.4,983.6 L593.1,983.8 L593.8,983.9 L594.5,983.8 L595.2,983.6 L595.9,983.5 L596.6,983.5 L597.3,983.6 L598.0,983.6 L598.7,983.6 L599.4,983.6 L600.1,983.6 L600.8,983.8 L601.5,984.0 L602.2,984.2 L602.9,984.5 L603.6,984.6 L604.3,984.6 L605.0,984.6 L605.7,984.5 L606.4,984.4 L607.1,984.4 L607.8,984.5 L608.5,984.7 L609.2,984.8 L609.9,984.9 L610.6,984.8 L611.3,984.7 L612.0,984.7 L612.7,984.7 L613.4,984.9 L614.1,985.1 L614.8,985.2 L615.5,985.3 L616.2,985.3 L616.9,985.3 L617.6,985.3 L618.3,985.4 L619.0,985.6 L619.7,985.7 L620.4,985.8 L621.1,985.9 L621.8,986.1 L622.5,986.2 L623.2,986.3 L623.9,986.4 L624.6,986.5 L625.3,986.6 L626.0,986.9 L626.7,987.2 L627.4,987.5 L628.1,987.6 L628.8,987.5 L629.5,987.0 L630.2,986.6 L630.9,986.2 L631.6,986.0 L632.3,986.0 L633.0,986.1 L633.7,986.2 L634.4,986.4 L635.1,986.8 L635.8,987.3 L636.5,988.0 L637.2,988.5 L637.9,988.9 L638.6,989.0 L639.3,988.9 L640.0,988.6 L640.7,988.2 L641.4,987.9 L642.1,987.7" stroke="#5a5a5a" stroke-width="2.0" fill="none" stroke-linejoin="round" opacity="1.0"/>
<path d="M424.4,882.6 L425.1,878.9 L425.8,875.4 L426.5,871.9 L427.2,869.9 L427.9,869.8 L428.6,871.7 L429.3,874.1 L430.0,876.5 L430.7,879.0 L431.4,881.7 L432.1,884.7 L432.8,887.8 L433.5,890.9 L434.2,893.8 L434.9,896.3 L435.6,898.3 L436.3,899.7" stroke="#e0702e" stroke-width="2.4" fill="none" stroke-linejoin="round" opacity="1.0"/>
<path d="M415.8,905 L415.8,954 C415.9,958 417,961 420.5,963.4" stroke="#333" stroke-width="1.6" fill="none"/>
<line x1="506.00" y1="806.80" x2="533.70" y2="806.80" stroke="#3a2ea0" stroke-width="3.7"/>
<text x="537.00" y="810.40" font-family='"Liberation Sans", sans-serif' font-size="10" text-anchor="start" fill="#222" font-weight="normal">stage I</text>
<line x1="506.00" y1="827.00" x2="533.70" y2="827.00" stroke="#5a9ad6" stroke-width="3.7"/>
<text x="537.00" y="830.60" font-family='"Liberation Sans", sans-serif' font-size="10" text-anchor="start" fill="#222" font-weight="normal">stage II</text>
<line x1="506.00" y1="846.00" x2="533.70" y2="846.00" stroke="#e0702e" stroke-width="3.7"/>
<text x="537.00" y="849.60" font-family='"Liberation Sans", sans-serif' font-size="10" text-anchor="start" fill="#222" font-weight="normal">stage III</text>
<line x1="506.00" y1="865.40" x2="533.70" y2="865.40" stroke="#a6d88a" stroke-width="3.7"/>
<text x="537.00" y="869.00" font-family='"Liberation Sans", sans-serif' font-size="10" text-anchor="start" fill="#222" font-weight="normal">stage IV</text>
<path d="M578.3,806.8 L585.8,806.6 L592.0,807.0 L598.1,806.4 L604.2,806.8 L610.4,806.4 L616.5,807.0 L622.6,806.6 L627.7,806.8" stroke="#55558a" stroke-width="0.9" fill="none"/>
<path d="M578.3,826.6 L580.7,824.2 L583.8,826.6 L586.9,825.6 L589.9,824.6 L593.0,825.6 L596.1,826.6 L599.1,825.2 L602.2,824.6 L605.3,826.2 L608.3,824.6 L611.4,823.5 L614.4,825.6 L617.5,826.6 L620.6,825.0 L623.6,826.2 L627.7,825.6" stroke="#3e3e70" stroke-width="0.9" fill="none" stroke-linejoin="round"/>
<path d="M579.3,850.1 L582.8,848.1 L584.4,845.4 L585.0,844.6" stroke="#222" stroke-width="0.9" fill="none"/>
<rect x="584.61" y="833.15" width="3.20" height="11.40" rx="0" fill="#1a1a1a" stroke="none" stroke-width="1"/>
<path d="M588.3,844.0 L590.9,845.4 L596.1,847.0 L602.8,848.1 L603.4,845.0" stroke="#222" stroke-width="0.9" fill="none"/>
<rect x="603.21" y="833.15" width="3.40" height="11.40" rx="0" fill="#1a1a1a" stroke="none" stroke-width="1"/>
<path d="M606.7,844.2 L608.3,845.4 L611.4,847.0 L618.5,848.5 L627.7,849.5" stroke="#222" stroke-width="0.9" fill="none"/>
<path d="M582.8,869.1 L585.8,868.5 L589.9,867.5 L594.0,865.4 L595.4,862.4 L596.1,856.2 L596.7,862.4 L598.1,865.4 L602.2,865.9 L608.3,864.4 L613.4,863.4 L614.0,861.4 L614.4,856.2 L615.1,861.8 L616.1,863.8 L622.6,863.8 L623.2,861.4 L623.6,856.2 L624.3,861.4 L625.1,863.0 L627.7,865.4" stroke="#222" stroke-width="0.9" fill="none" stroke-linejoin="round"/>
</svg>
</body></html>
